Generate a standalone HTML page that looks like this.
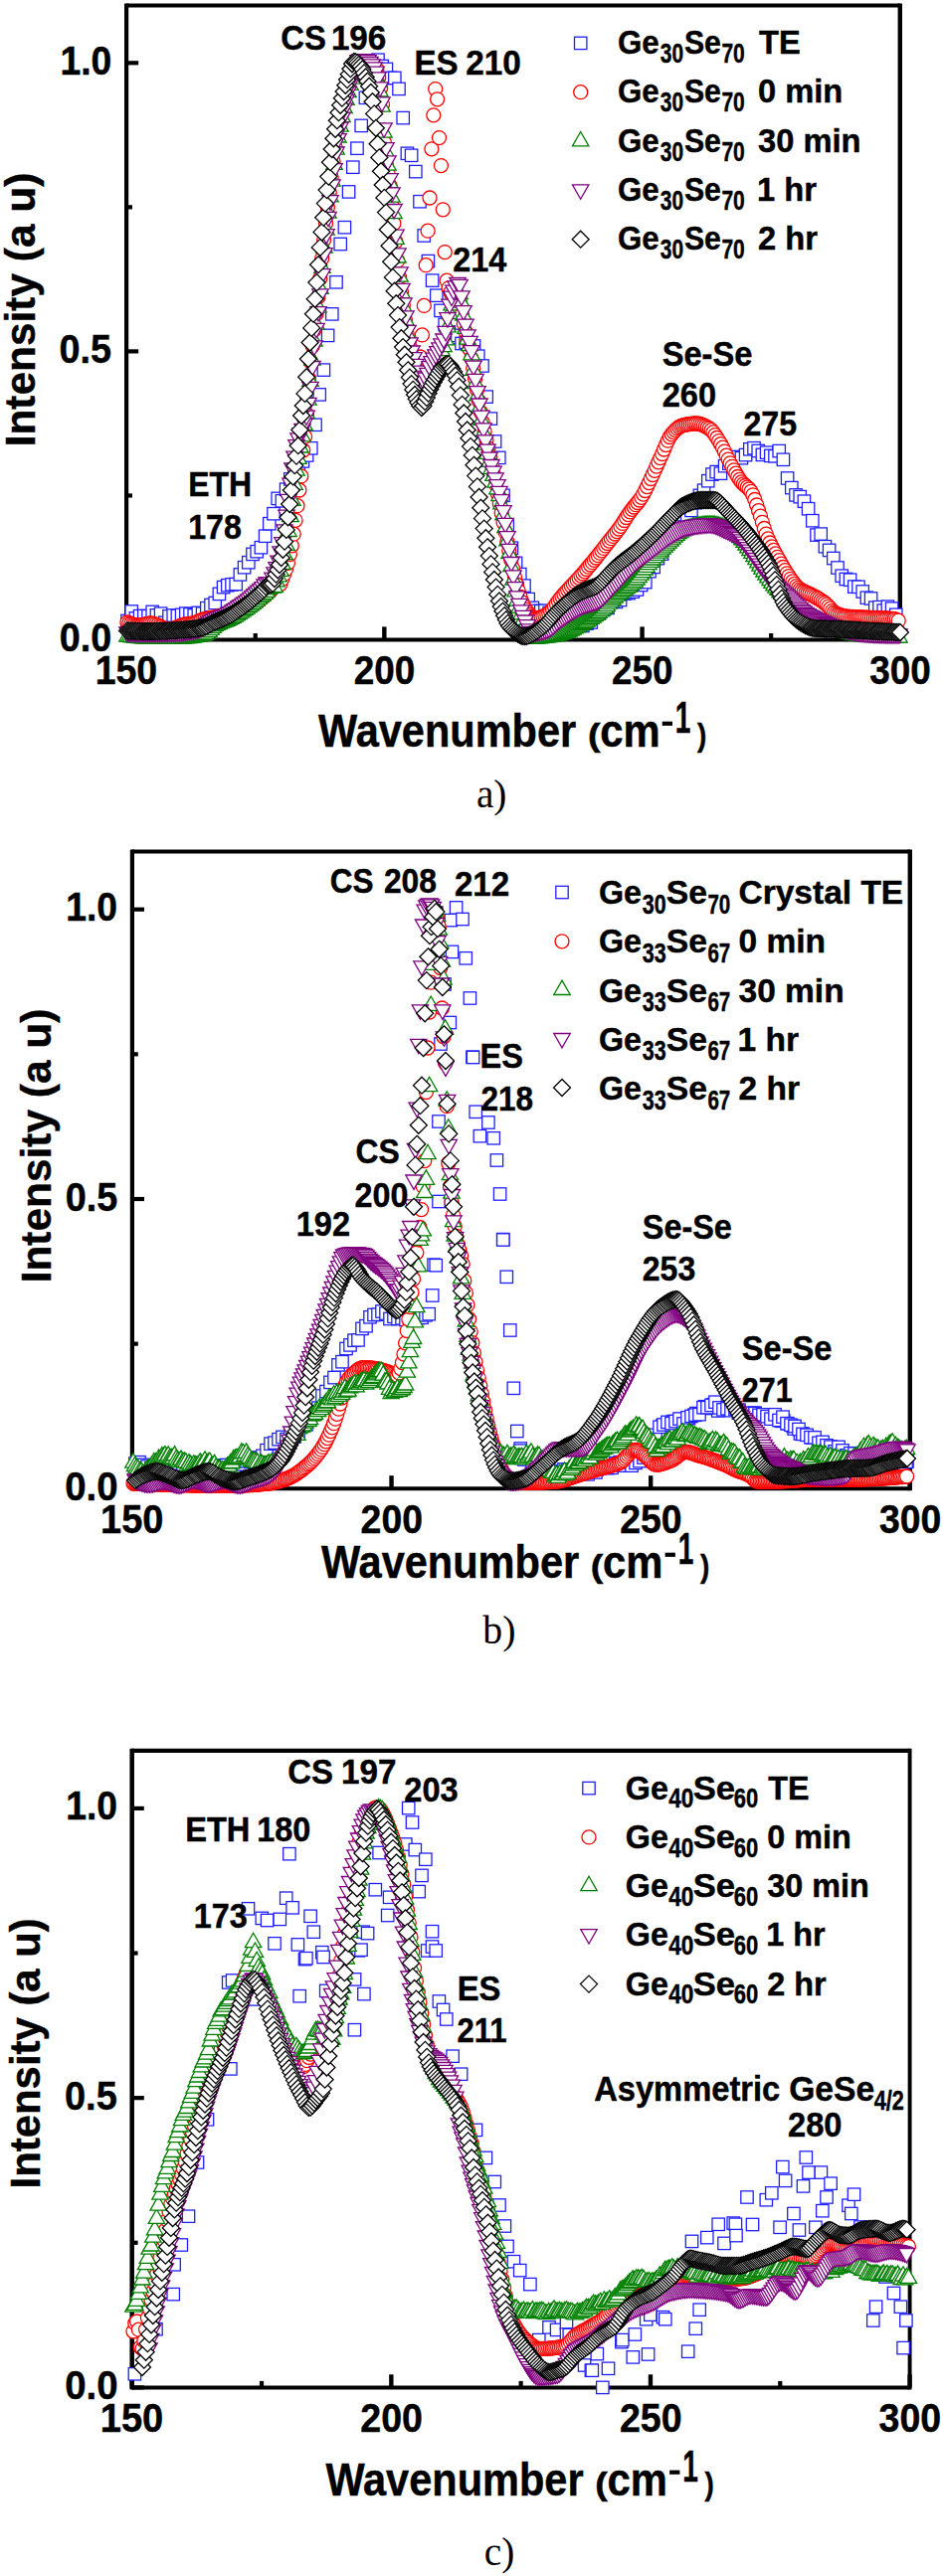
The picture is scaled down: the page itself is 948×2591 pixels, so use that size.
<!DOCTYPE html>
<html><head><meta charset="utf-8"><style>
html,body{margin:0;padding:0;background:#fff;}
svg{display:block;}
.S{font-family:"Liberation Sans", sans-serif;font-weight:bold;stroke:#000;stroke-width:0.45px;}
.R{font-family:"Liberation Serif", serif;font-weight:normal;}
</style></head><body>
<svg width="948" height="2591" viewBox="0 0 948 2591">
<rect width="948" height="2591" fill="#fff"/>
<defs>
<symbol id="sq" overflow="visible"><rect x="-6.2" y="-6.2" width="12.4" height="12.4" fill="#fff" stroke="#2020ff" stroke-width="1.3"/></symbol>
<symbol id="ci" overflow="visible"><circle r="7.0" fill="#fff" stroke="#ff0000" stroke-width="1.3"/></symbol>
<symbol id="up" overflow="visible"><path d="M0,-7.3L8.2,7.1L-8.2,7.1Z" fill="#fff" stroke="#008000" stroke-width="1.3"/></symbol>
<symbol id="dn" overflow="visible"><path d="M0,7.3L8.2,-7.1L-8.2,-7.1Z" fill="#fff" stroke="#800080" stroke-width="1.3"/></symbol>
<symbol id="di" overflow="visible"><path d="M0,-8.5L8.5,0L0,8.5L-8.5,0Z" fill="#fff" stroke="#000" stroke-width="1.3"/></symbol>
</defs>
<line x1="127.10" y1="5.45" x2="904.80" y2="5.45" stroke="#000" stroke-width="3.9"/>
<line x1="127.10" y1="643.50" x2="904.80" y2="643.50" stroke="#000" stroke-width="4.2"/>
<line x1="127.10" y1="3.45" x2="127.10" y2="645.60" stroke="#000" stroke-width="4.2"/>
<line x1="904.80" y1="3.45" x2="904.80" y2="645.60" stroke="#000" stroke-width="4.4"/>
<line x1="127.10" y1="643.50" x2="139.20" y2="643.50" stroke="#000" stroke-width="4.2"/>
<line x1="127.10" y1="353.40" x2="139.20" y2="353.40" stroke="#000" stroke-width="4.2"/>
<line x1="127.10" y1="63.30" x2="139.20" y2="63.30" stroke="#000" stroke-width="4.2"/>
<line x1="127.10" y1="498.45" x2="133.00" y2="498.45" stroke="#000" stroke-width="4.2"/>
<line x1="127.10" y1="208.35" x2="133.00" y2="208.35" stroke="#000" stroke-width="4.2"/>
<line x1="127.10" y1="643.50" x2="127.10" y2="630.40" stroke="#000" stroke-width="4.4"/>
<line x1="386.33" y1="643.50" x2="386.33" y2="630.40" stroke="#000" stroke-width="4.4"/>
<line x1="645.57" y1="643.50" x2="645.57" y2="630.40" stroke="#000" stroke-width="4.4"/>
<line x1="904.80" y1="643.50" x2="904.80" y2="630.40" stroke="#000" stroke-width="4.4"/>
<line x1="256.72" y1="643.50" x2="256.72" y2="637.00" stroke="#000" stroke-width="4.2"/>
<line x1="515.95" y1="643.50" x2="515.95" y2="637.00" stroke="#000" stroke-width="4.2"/>
<line x1="775.18" y1="643.50" x2="775.18" y2="637.00" stroke="#000" stroke-width="4.2"/>
<line x1="132.90" y1="856.60" x2="914.80" y2="856.60" stroke="#000" stroke-width="4.0"/>
<line x1="132.90" y1="1497.30" x2="914.80" y2="1497.30" stroke="#000" stroke-width="4.0"/>
<line x1="132.90" y1="854.60" x2="132.90" y2="1499.30" stroke="#000" stroke-width="4.2"/>
<line x1="914.80" y1="854.60" x2="914.80" y2="1499.30" stroke="#000" stroke-width="4.4"/>
<line x1="132.90" y1="1497.30" x2="145.00" y2="1497.30" stroke="#000" stroke-width="4.2"/>
<line x1="132.90" y1="1206.00" x2="145.00" y2="1206.00" stroke="#000" stroke-width="4.2"/>
<line x1="132.90" y1="914.70" x2="145.00" y2="914.70" stroke="#000" stroke-width="4.2"/>
<line x1="132.90" y1="1351.65" x2="138.80" y2="1351.65" stroke="#000" stroke-width="4.2"/>
<line x1="132.90" y1="1060.35" x2="138.80" y2="1060.35" stroke="#000" stroke-width="4.2"/>
<line x1="132.90" y1="1497.30" x2="132.90" y2="1484.20" stroke="#000" stroke-width="4.4"/>
<line x1="393.53" y1="1497.30" x2="393.53" y2="1484.20" stroke="#000" stroke-width="4.4"/>
<line x1="654.17" y1="1497.30" x2="654.17" y2="1484.20" stroke="#000" stroke-width="4.4"/>
<line x1="914.80" y1="1497.30" x2="914.80" y2="1484.20" stroke="#000" stroke-width="4.4"/>
<line x1="263.22" y1="1497.30" x2="263.22" y2="1490.80" stroke="#000" stroke-width="4.2"/>
<line x1="523.85" y1="1497.30" x2="523.85" y2="1490.80" stroke="#000" stroke-width="4.2"/>
<line x1="784.48" y1="1497.30" x2="784.48" y2="1490.80" stroke="#000" stroke-width="4.2"/>
<line x1="132.70" y1="1760.80" x2="914.60" y2="1760.80" stroke="#000" stroke-width="4.2"/>
<line x1="132.70" y1="2401.40" x2="914.60" y2="2401.40" stroke="#000" stroke-width="4.0"/>
<line x1="132.70" y1="1758.70" x2="132.70" y2="2403.40" stroke="#000" stroke-width="4.5"/>
<line x1="914.60" y1="1758.70" x2="914.60" y2="2403.40" stroke="#000" stroke-width="3.9"/>
<line x1="132.70" y1="2401.40" x2="144.80" y2="2401.40" stroke="#000" stroke-width="4.2"/>
<line x1="132.70" y1="2110.15" x2="144.80" y2="2110.15" stroke="#000" stroke-width="4.2"/>
<line x1="132.70" y1="1818.90" x2="144.80" y2="1818.90" stroke="#000" stroke-width="4.2"/>
<line x1="132.70" y1="2255.78" x2="138.60" y2="2255.78" stroke="#000" stroke-width="4.2"/>
<line x1="132.70" y1="1964.53" x2="138.60" y2="1964.53" stroke="#000" stroke-width="4.2"/>
<line x1="132.70" y1="2401.40" x2="132.70" y2="2388.30" stroke="#000" stroke-width="4.4"/>
<line x1="393.33" y1="2401.40" x2="393.33" y2="2388.30" stroke="#000" stroke-width="4.4"/>
<line x1="653.97" y1="2401.40" x2="653.97" y2="2388.30" stroke="#000" stroke-width="4.4"/>
<line x1="914.60" y1="2401.40" x2="914.60" y2="2388.30" stroke="#000" stroke-width="4.4"/>
<line x1="263.02" y1="2401.40" x2="263.02" y2="2394.90" stroke="#000" stroke-width="4.2"/>
<line x1="523.65" y1="2401.40" x2="523.65" y2="2394.90" stroke="#000" stroke-width="4.2"/>
<line x1="784.28" y1="2401.40" x2="784.28" y2="2394.90" stroke="#000" stroke-width="4.2"/>
<g><use href="#sq" x="128.0" y="624.5"/><use href="#sq" x="132.2" y="615.0"/><use href="#sq" x="136.4" y="621.9"/><use href="#sq" x="140.6" y="619.7"/><use href="#sq" x="144.8" y="619.6"/><use href="#sq" x="149.0" y="619.7"/><use href="#sq" x="153.2" y="615.4"/><use href="#sq" x="157.4" y="618.9"/><use href="#sq" x="161.6" y="617.2"/><use href="#sq" x="165.8" y="626.3"/><use href="#sq" x="170.0" y="619.8"/><use href="#sq" x="174.2" y="619.0"/><use href="#sq" x="178.4" y="619.4"/><use href="#sq" x="182.6" y="618.4"/><use href="#sq" x="186.8" y="617.1"/><use href="#sq" x="191.0" y="617.9"/><use href="#sq" x="195.2" y="618.9"/><use href="#sq" x="199.4" y="616.4"/><use href="#sq" x="203.6" y="617.1"/><use href="#sq" x="207.8" y="611.7"/><use href="#sq" x="212.0" y="608.5"/><use href="#sq" x="216.2" y="606.5"/><use href="#sq" x="220.4" y="597.4"/><use href="#sq" x="224.6" y="590.6"/><use href="#sq" x="228.8" y="588.7"/><use href="#sq" x="233.0" y="587.9"/><use href="#sq" x="237.2" y="587.5"/><use href="#sq" x="241.4" y="577.9"/><use href="#sq" x="245.6" y="570.7"/><use href="#sq" x="249.8" y="565.7"/><use href="#sq" x="254.0" y="557.4"/><use href="#sq" x="258.2" y="554.7"/><use href="#sq" x="262.4" y="550.7"/><use href="#sq" x="266.6" y="539.2"/><use href="#sq" x="270.8" y="526.7"/><use href="#sq" x="275.0" y="516.7"/><use href="#sq" x="279.2" y="501.4"/><use href="#sq" x="283.4" y="503.8"/><use href="#sq" x="287.6" y="492.2"/><use href="#sq" x="291.8" y="481.9"/><use href="#sq" x="296.0" y="477.8"/><use href="#sq" x="300.2" y="471.2"/><use href="#sq" x="304.4" y="463.9"/><use href="#sq" x="308.6" y="458.0"/><use href="#sq" x="312.8" y="450.8"/><use href="#sq" x="317.0" y="427.3"/><use href="#sq" x="321.2" y="396.9"/><use href="#sq" x="325.4" y="372.1"/><use href="#sq" x="329.6" y="337.4"/><use href="#sq" x="333.8" y="315.9"/><use href="#sq" x="338.0" y="283.8"/><use href="#sq" x="342.2" y="245.5"/><use href="#sq" x="346.4" y="228.7"/><use href="#sq" x="350.6" y="192.9"/><use href="#sq" x="354.8" y="168.2"/><use href="#sq" x="359.0" y="149.2"/><use href="#sq" x="363.2" y="126.4"/><use href="#sq" x="367.4" y="98.3"/><use href="#sq" x="371.6" y="87.8"/><use href="#sq" x="375.8" y="73.6"/><use href="#sq" x="380.0" y="60.2"/><use href="#sq" x="384.2" y="66.5"/><use href="#sq" x="388.4" y="69.4"/><use href="#sq" x="392.6" y="78.4"/><use href="#sq" x="396.8" y="78.4"/><use href="#sq" x="401.0" y="89.4"/><use href="#sq" x="405.2" y="118.6"/><use href="#sq" x="409.4" y="154.3"/><use href="#sq" x="413.6" y="156.3"/><use href="#sq" x="417.8" y="172.6"/><use href="#sq" x="422.0" y="202.7"/><use href="#sq" x="426.2" y="237.0"/><use href="#sq" x="430.4" y="262.6"/><use href="#sq" x="434.6" y="282.1"/><use href="#sq" x="438.8" y="297.2"/><use href="#sq" x="443.0" y="312.4"/><use href="#sq" x="447.2" y="326.4"/><use href="#sq" x="451.4" y="334.0"/><use href="#sq" x="455.6" y="339.5"/><use href="#sq" x="459.8" y="337.4"/><use href="#sq" x="464.0" y="345.5"/><use href="#sq" x="468.2" y="344.3"/><use href="#sq" x="472.4" y="345.2"/><use href="#sq" x="476.6" y="348.0"/><use href="#sq" x="480.8" y="358.2"/><use href="#sq" x="485.0" y="368.0"/><use href="#sq" x="489.2" y="399.1"/><use href="#sq" x="493.4" y="421.1"/><use href="#sq" x="497.6" y="444.0"/><use href="#sq" x="501.8" y="460.4"/><use href="#sq" x="506.0" y="498.3"/><use href="#sq" x="510.2" y="529.1"/><use href="#sq" x="514.4" y="551.2"/><use href="#sq" x="518.6" y="566.4"/><use href="#sq" x="522.8" y="577.6"/><use href="#sq" x="527.0" y="589.1"/><use href="#sq" x="531.2" y="602.6"/><use href="#sq" x="535.4" y="611.4"/><use href="#sq" x="539.6" y="614.4"/><use href="#sq" x="543.8" y="614.7"/><use href="#sq" x="548.0" y="614.3"/><use href="#sq" x="552.2" y="616.4"/><use href="#sq" x="556.4" y="616.6"/><use href="#sq" x="560.6" y="620.6"/><use href="#sq" x="564.8" y="618.8"/><use href="#sq" x="569.0" y="622.1"/><use href="#sq" x="573.2" y="622.3"/><use href="#sq" x="577.4" y="624.3"/><use href="#sq" x="581.6" y="624.1"/><use href="#sq" x="585.8" y="629.5"/><use href="#sq" x="590.0" y="627.2"/><use href="#sq" x="594.2" y="626.0"/><use href="#sq" x="598.4" y="615.9"/><use href="#sq" x="602.6" y="616.7"/><use href="#sq" x="606.8" y="613.1"/><use href="#sq" x="611.0" y="611.5"/><use href="#sq" x="615.2" y="600.9"/><use href="#sq" x="619.4" y="605.4"/><use href="#sq" x="623.6" y="603.5"/><use href="#sq" x="627.8" y="597.2"/><use href="#sq" x="632.0" y="596.6"/><use href="#sq" x="636.2" y="595.1"/><use href="#sq" x="640.4" y="593.0"/><use href="#sq" x="644.6" y="588.5"/><use href="#sq" x="648.8" y="585.6"/><use href="#sq" x="653.0" y="574.7"/><use href="#sq" x="657.2" y="570.4"/><use href="#sq" x="661.4" y="561.6"/><use href="#sq" x="665.6" y="557.1"/><use href="#sq" x="669.8" y="547.0"/><use href="#sq" x="674.0" y="540.5"/><use href="#sq" x="678.2" y="527.3"/><use href="#sq" x="682.4" y="523.1"/><use href="#sq" x="686.6" y="517.6"/><use href="#sq" x="690.8" y="519.4"/><use href="#sq" x="695.0" y="513.4"/><use href="#sq" x="699.2" y="505.7"/><use href="#sq" x="703.4" y="498.4"/><use href="#sq" x="707.6" y="493.2"/><use href="#sq" x="711.8" y="483.7"/><use href="#sq" x="716.0" y="477.1"/><use href="#sq" x="720.2" y="474.6"/><use href="#sq" x="724.4" y="476.2"/><use href="#sq" x="728.6" y="468.7"/><use href="#sq" x="732.8" y="466.2"/><use href="#sq" x="737.0" y="462.5"/><use href="#sq" x="741.2" y="459.5"/><use href="#sq" x="745.4" y="460.7"/><use href="#sq" x="749.6" y="457.6"/><use href="#sq" x="753.8" y="451.8"/><use href="#sq" x="758.0" y="450.7"/><use href="#sq" x="762.2" y="453.5"/><use href="#sq" x="766.4" y="457.4"/><use href="#sq" x="770.6" y="455.2"/><use href="#sq" x="774.8" y="458.4"/><use href="#sq" x="779.0" y="458.8"/><use href="#sq" x="783.2" y="453.6"/><use href="#sq" x="787.4" y="462.3"/><use href="#sq" x="791.6" y="481.0"/><use href="#sq" x="795.8" y="490.6"/><use href="#sq" x="800.0" y="497.9"/><use href="#sq" x="804.2" y="499.6"/><use href="#sq" x="808.4" y="504.2"/><use href="#sq" x="812.6" y="511.7"/><use href="#sq" x="816.8" y="523.7"/><use href="#sq" x="821.0" y="538.1"/><use href="#sq" x="825.2" y="537.1"/><use href="#sq" x="829.4" y="549.7"/><use href="#sq" x="833.6" y="553.4"/><use href="#sq" x="837.8" y="561.5"/><use href="#sq" x="842.0" y="571.0"/><use href="#sq" x="846.2" y="579.2"/><use href="#sq" x="850.4" y="582.5"/><use href="#sq" x="854.6" y="583.2"/><use href="#sq" x="858.8" y="590.1"/><use href="#sq" x="863.0" y="590.3"/><use href="#sq" x="867.2" y="595.0"/><use href="#sq" x="871.4" y="601.2"/><use href="#sq" x="875.6" y="602.0"/><use href="#sq" x="879.8" y="611.2"/><use href="#sq" x="884.0" y="610.7"/><use href="#sq" x="888.2" y="614.1"/><use href="#sq" x="892.4" y="610.2"/><use href="#sq" x="896.6" y="612.1"/><use href="#sq" x="900.8" y="618.3"/></g>
<g><use href="#ci" x="128.0" y="626.0"/><use href="#ci" x="129.9" y="626.8"/><use href="#ci" x="131.8" y="627.5"/><use href="#ci" x="133.7" y="628.1"/><use href="#ci" x="135.6" y="628.6"/><use href="#ci" x="137.5" y="628.9"/><use href="#ci" x="139.4" y="629.0"/><use href="#ci" x="141.3" y="628.9"/><use href="#ci" x="143.2" y="628.6"/><use href="#ci" x="145.1" y="628.2"/><use href="#ci" x="147.0" y="627.7"/><use href="#ci" x="148.9" y="627.3"/><use href="#ci" x="150.8" y="627.0"/><use href="#ci" x="152.7" y="627.1"/><use href="#ci" x="154.6" y="627.4"/><use href="#ci" x="156.5" y="628.1"/><use href="#ci" x="158.4" y="628.9"/><use href="#ci" x="160.3" y="629.8"/><use href="#ci" x="162.2" y="630.7"/><use href="#ci" x="164.1" y="631.6"/><use href="#ci" x="166.0" y="632.3"/><use href="#ci" x="167.9" y="632.8"/><use href="#ci" x="169.8" y="633.0"/><use href="#ci" x="171.7" y="632.9"/><use href="#ci" x="173.6" y="632.5"/><use href="#ci" x="175.5" y="631.8"/><use href="#ci" x="177.4" y="631.1"/><use href="#ci" x="179.3" y="630.3"/><use href="#ci" x="181.2" y="629.5"/><use href="#ci" x="183.1" y="628.8"/><use href="#ci" x="185.0" y="628.2"/><use href="#ci" x="186.9" y="627.9"/><use href="#ci" x="188.8" y="627.6"/><use href="#ci" x="190.7" y="627.4"/><use href="#ci" x="192.6" y="627.2"/><use href="#ci" x="194.5" y="626.9"/><use href="#ci" x="196.4" y="626.3"/><use href="#ci" x="198.3" y="625.5"/><use href="#ci" x="200.2" y="624.7"/><use href="#ci" x="202.1" y="623.8"/><use href="#ci" x="204.0" y="623.1"/><use href="#ci" x="205.9" y="622.7"/><use href="#ci" x="207.8" y="622.3"/><use href="#ci" x="209.7" y="621.9"/><use href="#ci" x="211.6" y="621.6"/><use href="#ci" x="213.5" y="621.3"/><use href="#ci" x="215.4" y="620.9"/><use href="#ci" x="217.3" y="620.5"/><use href="#ci" x="219.2" y="620.1"/><use href="#ci" x="221.1" y="619.7"/><use href="#ci" x="223.0" y="619.3"/><use href="#ci" x="224.9" y="618.8"/><use href="#ci" x="226.8" y="618.3"/><use href="#ci" x="228.7" y="617.8"/><use href="#ci" x="230.6" y="617.3"/><use href="#ci" x="232.5" y="616.7"/><use href="#ci" x="234.4" y="616.0"/><use href="#ci" x="236.3" y="615.4"/><use href="#ci" x="238.2" y="614.7"/><use href="#ci" x="240.1" y="614.0"/><use href="#ci" x="242.0" y="613.2"/><use href="#ci" x="243.9" y="612.5"/><use href="#ci" x="245.8" y="611.7"/><use href="#ci" x="247.7" y="610.9"/><use href="#ci" x="249.6" y="610.1"/><use href="#ci" x="251.5" y="609.2"/><use href="#ci" x="253.4" y="608.3"/><use href="#ci" x="255.3" y="607.3"/><use href="#ci" x="257.2" y="606.2"/><use href="#ci" x="259.1" y="605.1"/><use href="#ci" x="261.0" y="603.8"/><use href="#ci" x="262.9" y="602.2"/><use href="#ci" x="264.8" y="600.4"/><use href="#ci" x="266.7" y="598.6"/><use href="#ci" x="268.6" y="597.0"/><use href="#ci" x="270.5" y="595.5"/><use href="#ci" x="272.4" y="593.8"/><use href="#ci" x="274.3" y="591.8"/><use href="#ci" x="276.2" y="589.2"/><use href="#ci" x="278.1" y="588.0"/><use href="#ci" x="280.0" y="587.9"/><use href="#ci" x="281.9" y="587.5"/><use href="#ci" x="283.8" y="582.4"/><use href="#ci" x="285.7" y="577.4"/><use href="#ci" x="287.6" y="572.4"/><use href="#ci" x="289.5" y="566.3"/><use href="#ci" x="291.4" y="557.5"/><use href="#ci" x="293.3" y="548.8"/><use href="#ci" x="295.2" y="537.2"/><use href="#ci" x="297.1" y="523.3"/><use href="#ci" x="299.0" y="508.7"/><use href="#ci" x="300.9" y="493.0"/><use href="#ci" x="302.8" y="478.9"/><use href="#ci" x="304.7" y="453.0"/><use href="#ci" x="306.6" y="439.2"/><use href="#ci" x="308.5" y="416.7"/><use href="#ci" x="310.4" y="380.7"/><use href="#ci" x="312.3" y="363.8"/><use href="#ci" x="314.2" y="348.2"/><use href="#ci" x="316.1" y="331.6"/><use href="#ci" x="318.0" y="315.7"/><use href="#ci" x="319.9" y="298.9"/><use href="#ci" x="321.8" y="279.9"/><use href="#ci" x="323.7" y="259.9"/><use href="#ci" x="325.6" y="241.4"/><use href="#ci" x="327.5" y="224.7"/><use href="#ci" x="329.4" y="208.7"/><use href="#ci" x="331.3" y="193.5"/><use href="#ci" x="333.2" y="178.4"/><use href="#ci" x="335.1" y="162.4"/><use href="#ci" x="337.0" y="148.0"/><use href="#ci" x="338.9" y="136.4"/><use href="#ci" x="340.8" y="126.2"/><use href="#ci" x="342.7" y="116.9"/><use href="#ci" x="344.6" y="108.4"/><use href="#ci" x="346.5" y="100.3"/><use href="#ci" x="348.4" y="92.7"/><use href="#ci" x="350.3" y="85.8"/><use href="#ci" x="352.2" y="79.4"/><use href="#ci" x="354.1" y="73.5"/><use href="#ci" x="356.0" y="67.3"/><use href="#ci" x="357.9" y="62.8"/><use href="#ci" x="359.8" y="63.1"/><use href="#ci" x="361.7" y="67.8"/><use href="#ci" x="363.6" y="67.5"/><use href="#ci" x="365.5" y="66.0"/><use href="#ci" x="367.4" y="64.2"/><use href="#ci" x="369.3" y="63.1"/><use href="#ci" x="371.2" y="63.1"/><use href="#ci" x="373.1" y="63.8"/><use href="#ci" x="375.0" y="65.0"/><use href="#ci" x="376.9" y="66.8"/><use href="#ci" x="378.8" y="69.6"/><use href="#ci" x="380.7" y="77.7"/><use href="#ci" x="382.6" y="88.7"/><use href="#ci" x="384.5" y="105.1"/><use href="#ci" x="386.4" y="143.2"/><use href="#ci" x="388.3" y="164.9"/><use href="#ci" x="390.2" y="174.9"/><use href="#ci" x="392.1" y="186.8"/><use href="#ci" x="394.0" y="207.0"/><use href="#ci" x="395.9" y="224.7"/><use href="#ci" x="397.8" y="243.0"/><use href="#ci" x="399.7" y="262.2"/><use href="#ci" x="401.6" y="278.8"/><use href="#ci" x="403.5" y="293.8"/><use href="#ci" x="405.4" y="307.1"/><use href="#ci" x="407.3" y="321.6"/><use href="#ci" x="409.2" y="336.1"/><use href="#ci" x="411.1" y="344.8"/><use href="#ci" x="413.0" y="351.1"/><use href="#ci" x="414.9" y="356.0"/><use href="#ci" x="416.8" y="359.1"/><use href="#ci" x="418.7" y="361.4"/><use href="#ci" x="420.6" y="361.8"/><use href="#ci" x="422.5" y="359.0"/><use href="#ci" x="424.4" y="336.9"/><use href="#ci" x="426.3" y="307.4"/><use href="#ci" x="428.2" y="266.7"/><use href="#ci" x="430.1" y="232.2"/><use href="#ci" x="432.0" y="199.0"/><use href="#ci" x="433.9" y="149.8"/><use href="#ci" x="435.8" y="115.8"/><use href="#ci" x="437.7" y="89.6"/><use href="#ci" x="439.6" y="99.8"/><use href="#ci" x="441.5" y="138.6"/><use href="#ci" x="443.4" y="166.6"/><use href="#ci" x="445.3" y="210.8"/><use href="#ci" x="447.2" y="253.6"/><use href="#ci" x="449.1" y="282.2"/><use href="#ci" x="451.0" y="289.8"/><use href="#ci" x="452.9" y="294.3"/><use href="#ci" x="454.8" y="298.9"/><use href="#ci" x="456.7" y="300.0"/><use href="#ci" x="458.6" y="300.0"/><use href="#ci" x="460.5" y="300.0"/><use href="#ci" x="462.4" y="304.1"/><use href="#ci" x="464.3" y="316.1"/><use href="#ci" x="466.2" y="325.4"/><use href="#ci" x="468.1" y="333.6"/><use href="#ci" x="470.0" y="342.0"/><use href="#ci" x="471.9" y="351.1"/><use href="#ci" x="473.8" y="360.5"/><use href="#ci" x="475.7" y="370.4"/><use href="#ci" x="477.6" y="381.0"/><use href="#ci" x="479.5" y="392.1"/><use href="#ci" x="481.4" y="403.3"/><use href="#ci" x="483.3" y="414.6"/><use href="#ci" x="485.2" y="425.0"/><use href="#ci" x="487.1" y="434.0"/><use href="#ci" x="489.0" y="442.5"/><use href="#ci" x="490.9" y="451.2"/><use href="#ci" x="492.8" y="460.0"/><use href="#ci" x="494.7" y="469.0"/><use href="#ci" x="496.6" y="478.1"/><use href="#ci" x="498.5" y="487.4"/><use href="#ci" x="500.4" y="496.8"/><use href="#ci" x="502.3" y="506.4"/><use href="#ci" x="504.2" y="516.0"/><use href="#ci" x="506.1" y="525.5"/><use href="#ci" x="508.0" y="535.2"/><use href="#ci" x="509.9" y="544.8"/><use href="#ci" x="511.8" y="554.1"/><use href="#ci" x="513.7" y="563.0"/><use href="#ci" x="515.6" y="572.0"/><use href="#ci" x="517.5" y="580.4"/><use href="#ci" x="519.4" y="587.9"/><use href="#ci" x="521.3" y="594.4"/><use href="#ci" x="523.2" y="600.5"/><use href="#ci" x="525.1" y="605.9"/><use href="#ci" x="527.0" y="610.3"/><use href="#ci" x="528.9" y="613.3"/><use href="#ci" x="530.8" y="616.1"/><use href="#ci" x="532.7" y="618.5"/><use href="#ci" x="534.6" y="620.5"/><use href="#ci" x="536.5" y="621.7"/><use href="#ci" x="538.4" y="622.0"/><use href="#ci" x="540.3" y="621.8"/><use href="#ci" x="542.2" y="621.4"/><use href="#ci" x="544.1" y="620.7"/><use href="#ci" x="546.0" y="620.0"/><use href="#ci" x="547.9" y="619.1"/><use href="#ci" x="549.8" y="618.1"/><use href="#ci" x="551.7" y="616.8"/><use href="#ci" x="553.6" y="615.0"/><use href="#ci" x="555.5" y="612.7"/><use href="#ci" x="557.4" y="610.1"/><use href="#ci" x="559.3" y="607.3"/><use href="#ci" x="561.2" y="604.6"/><use href="#ci" x="563.1" y="602.1"/><use href="#ci" x="565.0" y="599.9"/><use href="#ci" x="566.9" y="597.7"/><use href="#ci" x="568.8" y="595.6"/><use href="#ci" x="570.7" y="593.6"/><use href="#ci" x="572.6" y="591.5"/><use href="#ci" x="574.5" y="589.5"/><use href="#ci" x="576.4" y="587.5"/><use href="#ci" x="578.3" y="585.4"/><use href="#ci" x="580.2" y="583.4"/><use href="#ci" x="582.1" y="581.3"/><use href="#ci" x="584.0" y="579.1"/><use href="#ci" x="585.9" y="577.0"/><use href="#ci" x="587.8" y="574.8"/><use href="#ci" x="589.7" y="572.5"/><use href="#ci" x="591.6" y="570.2"/><use href="#ci" x="593.5" y="568.0"/><use href="#ci" x="595.4" y="565.7"/><use href="#ci" x="597.3" y="563.3"/><use href="#ci" x="599.2" y="561.0"/><use href="#ci" x="601.1" y="558.6"/><use href="#ci" x="603.0" y="556.2"/><use href="#ci" x="604.9" y="553.8"/><use href="#ci" x="606.8" y="551.4"/><use href="#ci" x="608.7" y="548.9"/><use href="#ci" x="610.6" y="546.5"/><use href="#ci" x="612.5" y="544.1"/><use href="#ci" x="614.4" y="541.7"/><use href="#ci" x="616.3" y="539.4"/><use href="#ci" x="618.2" y="537.0"/><use href="#ci" x="620.1" y="534.6"/><use href="#ci" x="622.0" y="532.0"/><use href="#ci" x="623.9" y="529.3"/><use href="#ci" x="625.8" y="526.4"/><use href="#ci" x="627.7" y="523.5"/><use href="#ci" x="629.6" y="520.5"/><use href="#ci" x="631.5" y="517.6"/><use href="#ci" x="633.4" y="514.8"/><use href="#ci" x="635.3" y="512.3"/><use href="#ci" x="637.2" y="510.0"/><use href="#ci" x="639.1" y="507.7"/><use href="#ci" x="641.0" y="505.5"/><use href="#ci" x="642.9" y="503.0"/><use href="#ci" x="644.8" y="500.3"/><use href="#ci" x="646.7" y="497.1"/><use href="#ci" x="648.6" y="493.5"/><use href="#ci" x="650.5" y="489.6"/><use href="#ci" x="652.4" y="485.6"/><use href="#ci" x="654.3" y="481.5"/><use href="#ci" x="656.2" y="477.5"/><use href="#ci" x="658.1" y="473.3"/><use href="#ci" x="660.0" y="469.1"/><use href="#ci" x="661.9" y="464.8"/><use href="#ci" x="663.8" y="460.6"/><use href="#ci" x="665.7" y="456.5"/><use href="#ci" x="667.6" y="452.0"/><use href="#ci" x="669.5" y="447.5"/><use href="#ci" x="671.4" y="443.2"/><use href="#ci" x="673.3" y="439.5"/><use href="#ci" x="675.2" y="436.8"/><use href="#ci" x="677.1" y="434.6"/><use href="#ci" x="679.0" y="432.6"/><use href="#ci" x="680.9" y="430.9"/><use href="#ci" x="682.8" y="429.5"/><use href="#ci" x="684.7" y="428.4"/><use href="#ci" x="686.6" y="427.9"/><use href="#ci" x="688.5" y="427.4"/><use href="#ci" x="690.4" y="427.0"/><use href="#ci" x="692.3" y="426.7"/><use href="#ci" x="694.2" y="426.4"/><use href="#ci" x="696.1" y="426.2"/><use href="#ci" x="698.0" y="426.0"/><use href="#ci" x="699.9" y="426.0"/><use href="#ci" x="701.8" y="426.1"/><use href="#ci" x="703.7" y="426.5"/><use href="#ci" x="705.6" y="427.2"/><use href="#ci" x="707.5" y="428.0"/><use href="#ci" x="709.4" y="428.9"/><use href="#ci" x="711.3" y="430.0"/><use href="#ci" x="713.2" y="431.1"/><use href="#ci" x="715.1" y="432.7"/><use href="#ci" x="717.0" y="434.9"/><use href="#ci" x="718.9" y="437.6"/><use href="#ci" x="720.8" y="440.5"/><use href="#ci" x="722.7" y="443.6"/><use href="#ci" x="724.6" y="446.7"/><use href="#ci" x="726.5" y="450.2"/><use href="#ci" x="728.4" y="454.1"/><use href="#ci" x="730.3" y="458.2"/><use href="#ci" x="732.2" y="462.1"/><use href="#ci" x="734.1" y="465.8"/><use href="#ci" x="736.0" y="469.3"/><use href="#ci" x="737.9" y="472.8"/><use href="#ci" x="739.8" y="476.2"/><use href="#ci" x="741.7" y="479.5"/><use href="#ci" x="743.6" y="482.4"/><use href="#ci" x="745.5" y="484.9"/><use href="#ci" x="747.4" y="486.8"/><use href="#ci" x="749.3" y="488.5"/><use href="#ci" x="751.2" y="490.2"/><use href="#ci" x="753.1" y="492.0"/><use href="#ci" x="755.0" y="494.4"/><use href="#ci" x="756.9" y="497.8"/><use href="#ci" x="758.8" y="502.5"/><use href="#ci" x="760.7" y="508.0"/><use href="#ci" x="762.6" y="513.7"/><use href="#ci" x="764.5" y="519.2"/><use href="#ci" x="766.4" y="525.3"/><use href="#ci" x="768.3" y="531.5"/><use href="#ci" x="770.2" y="537.1"/><use href="#ci" x="772.1" y="541.9"/><use href="#ci" x="774.0" y="546.0"/><use href="#ci" x="775.9" y="549.9"/><use href="#ci" x="777.8" y="553.4"/><use href="#ci" x="779.7" y="556.9"/><use href="#ci" x="781.6" y="560.3"/><use href="#ci" x="783.5" y="563.7"/><use href="#ci" x="785.4" y="567.2"/><use href="#ci" x="787.3" y="570.5"/><use href="#ci" x="789.2" y="573.7"/><use href="#ci" x="791.1" y="576.8"/><use href="#ci" x="793.0" y="579.6"/><use href="#ci" x="794.9" y="582.3"/><use href="#ci" x="796.8" y="584.9"/><use href="#ci" x="798.7" y="587.4"/><use href="#ci" x="800.6" y="589.6"/><use href="#ci" x="802.5" y="591.4"/><use href="#ci" x="804.4" y="592.8"/><use href="#ci" x="806.3" y="594.0"/><use href="#ci" x="808.2" y="595.0"/><use href="#ci" x="810.1" y="595.9"/><use href="#ci" x="812.0" y="596.7"/><use href="#ci" x="813.9" y="597.5"/><use href="#ci" x="815.8" y="598.4"/><use href="#ci" x="817.7" y="599.3"/><use href="#ci" x="819.6" y="600.3"/><use href="#ci" x="821.5" y="601.5"/><use href="#ci" x="823.4" y="602.6"/><use href="#ci" x="825.3" y="603.9"/><use href="#ci" x="827.2" y="605.2"/><use href="#ci" x="829.1" y="606.5"/><use href="#ci" x="831.0" y="608.1"/><use href="#ci" x="832.9" y="610.1"/><use href="#ci" x="834.8" y="612.2"/><use href="#ci" x="836.7" y="614.3"/><use href="#ci" x="838.6" y="616.0"/><use href="#ci" x="840.5" y="617.1"/><use href="#ci" x="842.4" y="617.9"/><use href="#ci" x="844.3" y="618.5"/><use href="#ci" x="846.2" y="619.1"/><use href="#ci" x="848.1" y="619.6"/><use href="#ci" x="850.0" y="619.9"/><use href="#ci" x="851.9" y="620.1"/><use href="#ci" x="853.8" y="620.3"/><use href="#ci" x="855.7" y="620.4"/><use href="#ci" x="857.6" y="620.5"/><use href="#ci" x="859.5" y="620.6"/><use href="#ci" x="861.4" y="620.7"/><use href="#ci" x="863.3" y="620.8"/><use href="#ci" x="865.2" y="620.9"/><use href="#ci" x="867.1" y="621.0"/><use href="#ci" x="869.0" y="621.1"/><use href="#ci" x="870.9" y="621.1"/><use href="#ci" x="872.8" y="621.2"/><use href="#ci" x="874.7" y="621.3"/><use href="#ci" x="876.6" y="621.4"/><use href="#ci" x="878.5" y="621.5"/><use href="#ci" x="880.4" y="621.5"/><use href="#ci" x="882.3" y="621.6"/><use href="#ci" x="884.2" y="621.7"/><use href="#ci" x="886.1" y="621.8"/><use href="#ci" x="888.0" y="621.8"/><use href="#ci" x="889.9" y="621.9"/><use href="#ci" x="891.8" y="622.0"/><use href="#ci" x="893.7" y="622.2"/><use href="#ci" x="895.6" y="622.3"/><use href="#ci" x="897.5" y="622.5"/><use href="#ci" x="899.4" y="622.7"/><use href="#ci" x="901.3" y="623.3"/><use href="#ci" x="903.2" y="624.2"/></g>
<g><use href="#up" x="128.0" y="638.0"/><use href="#up" x="130.0" y="638.3"/><use href="#up" x="132.0" y="638.5"/><use href="#up" x="134.0" y="638.7"/><use href="#up" x="136.0" y="639.0"/><use href="#up" x="138.0" y="639.2"/><use href="#up" x="140.0" y="639.4"/><use href="#up" x="142.0" y="639.6"/><use href="#up" x="144.0" y="639.7"/><use href="#up" x="146.0" y="639.8"/><use href="#up" x="148.0" y="639.9"/><use href="#up" x="150.0" y="640.0"/><use href="#up" x="152.0" y="640.0"/><use href="#up" x="154.0" y="640.0"/><use href="#up" x="156.0" y="640.0"/><use href="#up" x="158.0" y="640.0"/><use href="#up" x="160.0" y="640.0"/><use href="#up" x="162.0" y="640.0"/><use href="#up" x="164.0" y="640.0"/><use href="#up" x="166.0" y="640.0"/><use href="#up" x="168.0" y="640.0"/><use href="#up" x="170.0" y="640.0"/><use href="#up" x="172.0" y="640.0"/><use href="#up" x="174.0" y="640.0"/><use href="#up" x="176.0" y="640.0"/><use href="#up" x="178.0" y="640.0"/><use href="#up" x="180.0" y="640.0"/><use href="#up" x="182.0" y="639.9"/><use href="#up" x="184.0" y="639.8"/><use href="#up" x="186.0" y="639.7"/><use href="#up" x="188.0" y="639.6"/><use href="#up" x="190.0" y="639.4"/><use href="#up" x="192.0" y="639.1"/><use href="#up" x="194.0" y="638.9"/><use href="#up" x="196.0" y="638.6"/><use href="#up" x="198.0" y="638.3"/><use href="#up" x="200.0" y="637.9"/><use href="#up" x="202.0" y="637.5"/><use href="#up" x="204.0" y="637.1"/><use href="#up" x="206.0" y="636.4"/><use href="#up" x="208.0" y="635.0"/><use href="#up" x="210.0" y="633.2"/><use href="#up" x="212.0" y="631.2"/><use href="#up" x="214.0" y="629.2"/><use href="#up" x="216.0" y="627.5"/><use href="#up" x="218.0" y="626.3"/><use href="#up" x="220.0" y="625.4"/><use href="#up" x="222.0" y="624.5"/><use href="#up" x="224.0" y="623.7"/><use href="#up" x="226.0" y="623.0"/><use href="#up" x="228.0" y="622.2"/><use href="#up" x="230.0" y="621.3"/><use href="#up" x="232.0" y="620.3"/><use href="#up" x="234.0" y="619.2"/><use href="#up" x="236.0" y="618.0"/><use href="#up" x="238.0" y="616.8"/><use href="#up" x="240.0" y="615.5"/><use href="#up" x="242.0" y="614.1"/><use href="#up" x="244.0" y="612.7"/><use href="#up" x="246.0" y="611.3"/><use href="#up" x="248.0" y="610.0"/><use href="#up" x="250.0" y="608.5"/><use href="#up" x="252.0" y="607.1"/><use href="#up" x="254.0" y="605.5"/><use href="#up" x="256.0" y="603.8"/><use href="#up" x="258.0" y="602.0"/><use href="#up" x="260.0" y="600.2"/><use href="#up" x="262.0" y="598.5"/><use href="#up" x="264.0" y="596.9"/><use href="#up" x="266.0" y="595.2"/><use href="#up" x="268.0" y="593.2"/><use href="#up" x="270.0" y="590.4"/><use href="#up" x="272.0" y="589.0"/><use href="#up" x="274.0" y="588.9"/><use href="#up" x="276.0" y="588.4"/><use href="#up" x="278.0" y="582.7"/><use href="#up" x="280.0" y="577.7"/><use href="#up" x="282.0" y="572.2"/><use href="#up" x="284.0" y="565.3"/><use href="#up" x="286.0" y="555.6"/><use href="#up" x="288.0" y="546.3"/><use href="#up" x="290.0" y="532.4"/><use href="#up" x="292.0" y="517.6"/><use href="#up" x="294.0" y="501.2"/><use href="#up" x="296.0" y="485.2"/><use href="#up" x="298.0" y="471.0"/><use href="#up" x="300.0" y="459.3"/><use href="#up" x="302.0" y="447.9"/><use href="#up" x="304.0" y="436.8"/><use href="#up" x="306.0" y="425.4"/><use href="#up" x="308.0" y="413.5"/><use href="#up" x="310.0" y="400.0"/><use href="#up" x="312.0" y="381.3"/><use href="#up" x="314.0" y="359.9"/><use href="#up" x="316.0" y="341.0"/><use href="#up" x="318.0" y="324.1"/><use href="#up" x="320.0" y="307.1"/><use href="#up" x="322.0" y="288.2"/><use href="#up" x="324.0" y="267.2"/><use href="#up" x="326.0" y="247.0"/><use href="#up" x="328.0" y="229.0"/><use href="#up" x="330.0" y="212.0"/><use href="#up" x="332.0" y="195.8"/><use href="#up" x="334.0" y="180.0"/><use href="#up" x="336.0" y="163.2"/><use href="#up" x="338.0" y="148.0"/><use href="#up" x="340.0" y="135.9"/><use href="#up" x="342.0" y="125.1"/><use href="#up" x="344.0" y="115.5"/><use href="#up" x="346.0" y="106.6"/><use href="#up" x="348.0" y="98.2"/><use href="#up" x="350.0" y="90.5"/><use href="#up" x="352.0" y="83.3"/><use href="#up" x="354.0" y="77.0"/><use href="#up" x="356.0" y="70.5"/><use href="#up" x="358.0" y="64.6"/><use href="#up" x="360.0" y="62.0"/><use href="#up" x="362.0" y="62.0"/><use href="#up" x="364.0" y="62.0"/><use href="#up" x="366.0" y="62.0"/><use href="#up" x="368.0" y="62.0"/><use href="#up" x="370.0" y="62.8"/><use href="#up" x="372.0" y="64.6"/><use href="#up" x="374.0" y="67.0"/><use href="#up" x="376.0" y="70.0"/><use href="#up" x="378.0" y="74.2"/><use href="#up" x="380.0" y="80.0"/><use href="#up" x="382.0" y="89.9"/><use href="#up" x="384.0" y="105.0"/><use href="#up" x="386.0" y="131.0"/><use href="#up" x="388.0" y="150.7"/><use href="#up" x="390.0" y="164.0"/><use href="#up" x="392.0" y="181.8"/><use href="#up" x="394.0" y="196.0"/><use href="#up" x="396.0" y="212.6"/><use href="#up" x="398.0" y="238.2"/><use href="#up" x="400.0" y="256.9"/><use href="#up" x="402.0" y="276.0"/><use href="#up" x="404.0" y="292.5"/><use href="#up" x="406.0" y="306.9"/><use href="#up" x="408.0" y="320.0"/><use href="#up" x="410.0" y="334.5"/><use href="#up" x="412.0" y="347.0"/><use href="#up" x="414.0" y="355.0"/><use href="#up" x="416.0" y="361.5"/><use href="#up" x="418.0" y="369.0"/><use href="#up" x="420.0" y="377.1"/><use href="#up" x="422.0" y="382.3"/><use href="#up" x="424.0" y="386.3"/><use href="#up" x="426.0" y="388.0"/><use href="#up" x="428.0" y="384.6"/><use href="#up" x="430.0" y="379.2"/><use href="#up" x="432.0" y="372.7"/><use href="#up" x="434.0" y="367.8"/><use href="#up" x="436.0" y="364.0"/><use href="#up" x="438.0" y="360.7"/><use href="#up" x="440.0" y="357.5"/><use href="#up" x="442.0" y="354.0"/><use href="#up" x="444.0" y="350.5"/><use href="#up" x="446.0" y="346.6"/><use href="#up" x="448.0" y="339.8"/><use href="#up" x="450.0" y="326.8"/><use href="#up" x="452.0" y="313.4"/><use href="#up" x="454.0" y="304.7"/><use href="#up" x="456.0" y="298.1"/><use href="#up" x="458.0" y="294.5"/><use href="#up" x="460.0" y="292.3"/><use href="#up" x="462.0" y="293.6"/><use href="#up" x="464.0" y="302.0"/><use href="#up" x="466.0" y="315.1"/><use href="#up" x="468.0" y="328.2"/><use href="#up" x="470.0" y="339.0"/><use href="#up" x="472.0" y="345.5"/><use href="#up" x="474.0" y="354.7"/><use href="#up" x="476.0" y="370.2"/><use href="#up" x="478.0" y="383.4"/><use href="#up" x="480.0" y="395.8"/><use href="#up" x="482.0" y="408.1"/><use href="#up" x="484.0" y="420.3"/><use href="#up" x="486.0" y="433.0"/><use href="#up" x="488.0" y="445.0"/><use href="#up" x="490.0" y="454.2"/><use href="#up" x="492.0" y="462.2"/><use href="#up" x="494.0" y="469.6"/><use href="#up" x="496.0" y="476.3"/><use href="#up" x="498.0" y="483.0"/><use href="#up" x="500.0" y="489.7"/><use href="#up" x="502.0" y="496.5"/><use href="#up" x="504.0" y="504.8"/><use href="#up" x="506.0" y="515.7"/><use href="#up" x="508.0" y="528.5"/><use href="#up" x="510.0" y="541.8"/><use href="#up" x="512.0" y="554.5"/><use href="#up" x="514.0" y="567.6"/><use href="#up" x="516.0" y="580.9"/><use href="#up" x="518.0" y="592.8"/><use href="#up" x="520.0" y="602.0"/><use href="#up" x="522.0" y="609.4"/><use href="#up" x="524.0" y="615.7"/><use href="#up" x="526.0" y="621.2"/><use href="#up" x="528.0" y="626.3"/><use href="#up" x="530.0" y="631.6"/><use href="#up" x="532.0" y="636.5"/><use href="#up" x="534.0" y="639.6"/><use href="#up" x="536.0" y="640.0"/><use href="#up" x="538.0" y="639.9"/><use href="#up" x="540.0" y="639.8"/><use href="#up" x="542.0" y="639.7"/><use href="#up" x="544.0" y="639.5"/><use href="#up" x="546.0" y="639.3"/><use href="#up" x="548.0" y="639.0"/><use href="#up" x="550.0" y="638.7"/><use href="#up" x="552.0" y="638.4"/><use href="#up" x="554.0" y="638.1"/><use href="#up" x="556.0" y="637.7"/><use href="#up" x="558.0" y="637.4"/><use href="#up" x="560.0" y="637.0"/><use href="#up" x="562.0" y="636.6"/><use href="#up" x="564.0" y="636.0"/><use href="#up" x="566.0" y="635.3"/><use href="#up" x="568.0" y="634.6"/><use href="#up" x="570.0" y="633.8"/><use href="#up" x="572.0" y="632.9"/><use href="#up" x="574.0" y="631.9"/><use href="#up" x="576.0" y="630.9"/><use href="#up" x="578.0" y="629.8"/><use href="#up" x="580.0" y="628.7"/><use href="#up" x="582.0" y="627.7"/><use href="#up" x="584.0" y="626.5"/><use href="#up" x="586.0" y="625.4"/><use href="#up" x="588.0" y="624.3"/><use href="#up" x="590.0" y="623.0"/><use href="#up" x="592.0" y="621.7"/><use href="#up" x="594.0" y="620.3"/><use href="#up" x="596.0" y="618.9"/><use href="#up" x="598.0" y="617.4"/><use href="#up" x="600.0" y="615.9"/><use href="#up" x="602.0" y="614.3"/><use href="#up" x="604.0" y="612.7"/><use href="#up" x="606.0" y="611.0"/><use href="#up" x="608.0" y="609.2"/><use href="#up" x="610.0" y="607.2"/><use href="#up" x="612.0" y="605.1"/><use href="#up" x="614.0" y="603.0"/><use href="#up" x="616.0" y="600.9"/><use href="#up" x="618.0" y="598.9"/><use href="#up" x="620.0" y="597.1"/><use href="#up" x="622.0" y="595.5"/><use href="#up" x="624.0" y="594.0"/><use href="#up" x="626.0" y="592.5"/><use href="#up" x="628.0" y="591.0"/><use href="#up" x="630.0" y="589.6"/><use href="#up" x="632.0" y="588.1"/><use href="#up" x="634.0" y="586.5"/><use href="#up" x="636.0" y="584.8"/><use href="#up" x="638.0" y="583.0"/><use href="#up" x="640.0" y="580.9"/><use href="#up" x="642.0" y="578.6"/><use href="#up" x="644.0" y="576.1"/><use href="#up" x="646.0" y="573.5"/><use href="#up" x="648.0" y="570.9"/><use href="#up" x="650.0" y="568.2"/><use href="#up" x="652.0" y="565.6"/><use href="#up" x="654.0" y="563.2"/><use href="#up" x="656.0" y="560.9"/><use href="#up" x="658.0" y="558.6"/><use href="#up" x="660.0" y="556.3"/><use href="#up" x="662.0" y="554.1"/><use href="#up" x="664.0" y="552.0"/><use href="#up" x="666.0" y="550.0"/><use href="#up" x="668.0" y="548.0"/><use href="#up" x="670.0" y="546.0"/><use href="#up" x="672.0" y="544.0"/><use href="#up" x="674.0" y="542.0"/><use href="#up" x="676.0" y="540.0"/><use href="#up" x="678.0" y="538.0"/><use href="#up" x="680.0" y="536.2"/><use href="#up" x="682.0" y="534.5"/><use href="#up" x="684.0" y="533.0"/><use href="#up" x="686.0" y="531.7"/><use href="#up" x="688.0" y="530.7"/><use href="#up" x="690.0" y="530.0"/><use href="#up" x="692.0" y="529.5"/><use href="#up" x="694.0" y="529.0"/><use href="#up" x="696.0" y="528.5"/><use href="#up" x="698.0" y="528.0"/><use href="#up" x="700.0" y="527.6"/><use href="#up" x="702.0" y="527.2"/><use href="#up" x="704.0" y="526.9"/><use href="#up" x="706.0" y="526.6"/><use href="#up" x="708.0" y="526.4"/><use href="#up" x="710.0" y="526.2"/><use href="#up" x="712.0" y="526.1"/><use href="#up" x="714.0" y="526.0"/><use href="#up" x="716.0" y="526.0"/><use href="#up" x="718.0" y="526.2"/><use href="#up" x="720.0" y="526.5"/><use href="#up" x="722.0" y="526.9"/><use href="#up" x="724.0" y="527.5"/><use href="#up" x="726.0" y="528.1"/><use href="#up" x="728.0" y="528.9"/><use href="#up" x="730.0" y="529.7"/><use href="#up" x="732.0" y="530.7"/><use href="#up" x="734.0" y="531.7"/><use href="#up" x="736.0" y="532.7"/><use href="#up" x="738.0" y="533.9"/><use href="#up" x="740.0" y="535.0"/><use href="#up" x="742.0" y="536.4"/><use href="#up" x="744.0" y="538.4"/><use href="#up" x="746.0" y="540.7"/><use href="#up" x="748.0" y="543.2"/><use href="#up" x="750.0" y="545.9"/><use href="#up" x="752.0" y="548.7"/><use href="#up" x="754.0" y="551.4"/><use href="#up" x="756.0" y="554.3"/><use href="#up" x="758.0" y="557.4"/><use href="#up" x="760.0" y="560.6"/><use href="#up" x="762.0" y="563.8"/><use href="#up" x="764.0" y="567.0"/><use href="#up" x="766.0" y="570.0"/><use href="#up" x="768.0" y="572.9"/><use href="#up" x="770.0" y="575.9"/><use href="#up" x="772.0" y="578.8"/><use href="#up" x="774.0" y="581.6"/><use href="#up" x="776.0" y="584.3"/><use href="#up" x="778.0" y="586.8"/><use href="#up" x="780.0" y="589.1"/><use href="#up" x="782.0" y="591.3"/><use href="#up" x="784.0" y="593.4"/><use href="#up" x="786.0" y="595.3"/><use href="#up" x="788.0" y="597.3"/><use href="#up" x="790.0" y="599.1"/><use href="#up" x="792.0" y="601.0"/><use href="#up" x="794.0" y="603.0"/><use href="#up" x="796.0" y="605.0"/><use href="#up" x="798.0" y="607.0"/><use href="#up" x="800.0" y="609.0"/><use href="#up" x="802.0" y="610.9"/><use href="#up" x="804.0" y="612.8"/><use href="#up" x="806.0" y="614.5"/><use href="#up" x="808.0" y="616.0"/><use href="#up" x="810.0" y="617.4"/><use href="#up" x="812.0" y="618.7"/><use href="#up" x="814.0" y="619.9"/><use href="#up" x="816.0" y="621.0"/><use href="#up" x="818.0" y="622.1"/><use href="#up" x="820.0" y="623.1"/><use href="#up" x="822.0" y="624.1"/><use href="#up" x="824.0" y="625.0"/><use href="#up" x="826.0" y="625.9"/><use href="#up" x="828.0" y="626.7"/><use href="#up" x="830.0" y="627.6"/><use href="#up" x="832.0" y="628.4"/><use href="#up" x="834.0" y="629.2"/><use href="#up" x="836.0" y="629.9"/><use href="#up" x="838.0" y="630.6"/><use href="#up" x="840.0" y="631.3"/><use href="#up" x="842.0" y="631.9"/><use href="#up" x="844.0" y="632.5"/><use href="#up" x="846.0" y="633.0"/><use href="#up" x="848.0" y="633.5"/><use href="#up" x="850.0" y="634.0"/><use href="#up" x="852.0" y="634.5"/><use href="#up" x="854.0" y="635.0"/><use href="#up" x="856.0" y="635.5"/><use href="#up" x="858.0" y="635.9"/><use href="#up" x="860.0" y="636.4"/><use href="#up" x="862.0" y="636.7"/><use href="#up" x="864.0" y="637.1"/><use href="#up" x="866.0" y="637.4"/><use href="#up" x="868.0" y="637.7"/><use href="#up" x="870.0" y="637.9"/><use href="#up" x="872.0" y="638.0"/><use href="#up" x="874.0" y="638.1"/><use href="#up" x="876.0" y="638.2"/><use href="#up" x="878.0" y="638.3"/><use href="#up" x="880.0" y="638.4"/><use href="#up" x="882.0" y="638.5"/><use href="#up" x="884.0" y="638.6"/><use href="#up" x="886.0" y="638.6"/><use href="#up" x="888.0" y="638.7"/><use href="#up" x="890.0" y="638.8"/><use href="#up" x="892.0" y="638.8"/><use href="#up" x="894.0" y="638.9"/><use href="#up" x="896.0" y="638.9"/><use href="#up" x="898.0" y="638.9"/><use href="#up" x="900.0" y="639.0"/><use href="#up" x="902.0" y="639.0"/><use href="#up" x="904.0" y="639.0"/></g>
<g><use href="#dn" x="128.0" y="638.0"/><use href="#dn" x="130.0" y="638.1"/><use href="#dn" x="132.0" y="638.1"/><use href="#dn" x="134.0" y="638.2"/><use href="#dn" x="136.0" y="638.3"/><use href="#dn" x="138.0" y="638.3"/><use href="#dn" x="140.0" y="638.4"/><use href="#dn" x="142.0" y="638.4"/><use href="#dn" x="144.0" y="638.4"/><use href="#dn" x="146.0" y="638.5"/><use href="#dn" x="148.0" y="638.5"/><use href="#dn" x="150.0" y="638.5"/><use href="#dn" x="152.0" y="638.5"/><use href="#dn" x="154.0" y="638.5"/><use href="#dn" x="156.0" y="638.5"/><use href="#dn" x="158.0" y="638.5"/><use href="#dn" x="160.0" y="638.4"/><use href="#dn" x="162.0" y="638.4"/><use href="#dn" x="164.0" y="638.4"/><use href="#dn" x="166.0" y="638.3"/><use href="#dn" x="168.0" y="638.3"/><use href="#dn" x="170.0" y="638.2"/><use href="#dn" x="172.0" y="638.2"/><use href="#dn" x="174.0" y="638.1"/><use href="#dn" x="176.0" y="638.1"/><use href="#dn" x="178.0" y="638.0"/><use href="#dn" x="180.0" y="637.9"/><use href="#dn" x="182.0" y="637.8"/><use href="#dn" x="184.0" y="637.6"/><use href="#dn" x="186.0" y="637.3"/><use href="#dn" x="188.0" y="637.0"/><use href="#dn" x="190.0" y="636.7"/><use href="#dn" x="192.0" y="636.4"/><use href="#dn" x="194.0" y="635.9"/><use href="#dn" x="196.0" y="635.5"/><use href="#dn" x="198.0" y="635.0"/><use href="#dn" x="200.0" y="634.5"/><use href="#dn" x="202.0" y="633.7"/><use href="#dn" x="204.0" y="632.6"/><use href="#dn" x="206.0" y="631.2"/><use href="#dn" x="208.0" y="629.6"/><use href="#dn" x="210.0" y="628.1"/><use href="#dn" x="212.0" y="626.7"/><use href="#dn" x="214.0" y="625.6"/><use href="#dn" x="216.0" y="624.7"/><use href="#dn" x="218.0" y="623.8"/><use href="#dn" x="220.0" y="623.0"/><use href="#dn" x="222.0" y="622.3"/><use href="#dn" x="224.0" y="621.4"/><use href="#dn" x="226.0" y="620.6"/><use href="#dn" x="228.0" y="619.6"/><use href="#dn" x="230.0" y="618.5"/><use href="#dn" x="232.0" y="617.4"/><use href="#dn" x="234.0" y="616.1"/><use href="#dn" x="236.0" y="614.8"/><use href="#dn" x="238.0" y="613.5"/><use href="#dn" x="240.0" y="612.1"/><use href="#dn" x="242.0" y="610.7"/><use href="#dn" x="244.0" y="609.3"/><use href="#dn" x="246.0" y="607.9"/><use href="#dn" x="248.0" y="606.4"/><use href="#dn" x="250.0" y="604.9"/><use href="#dn" x="252.0" y="603.3"/><use href="#dn" x="254.0" y="601.5"/><use href="#dn" x="256.0" y="599.7"/><use href="#dn" x="258.0" y="597.9"/><use href="#dn" x="260.0" y="596.3"/><use href="#dn" x="262.0" y="594.6"/><use href="#dn" x="264.0" y="592.8"/><use href="#dn" x="266.0" y="590.1"/><use href="#dn" x="268.0" y="588.1"/><use href="#dn" x="270.0" y="587.9"/><use href="#dn" x="272.0" y="587.8"/><use href="#dn" x="274.0" y="583.3"/><use href="#dn" x="276.0" y="577.9"/><use href="#dn" x="278.0" y="572.7"/><use href="#dn" x="280.0" y="566.3"/><use href="#dn" x="282.0" y="557.0"/><use href="#dn" x="284.0" y="547.8"/><use href="#dn" x="286.0" y="535.0"/><use href="#dn" x="288.0" y="520.3"/><use href="#dn" x="290.0" y="504.4"/><use href="#dn" x="292.0" y="488.3"/><use href="#dn" x="294.0" y="473.1"/><use href="#dn" x="296.0" y="461.2"/><use href="#dn" x="298.0" y="449.7"/><use href="#dn" x="300.0" y="442.9"/><use href="#dn" x="302.0" y="438.0"/><use href="#dn" x="304.0" y="433.5"/><use href="#dn" x="306.0" y="428.1"/><use href="#dn" x="308.0" y="420.2"/><use href="#dn" x="310.0" y="407.5"/><use href="#dn" x="312.0" y="391.4"/><use href="#dn" x="314.0" y="370.6"/><use href="#dn" x="316.0" y="350.0"/><use href="#dn" x="318.0" y="332.4"/><use href="#dn" x="320.0" y="315.7"/><use href="#dn" x="322.0" y="298.0"/><use href="#dn" x="324.0" y="277.8"/><use href="#dn" x="326.0" y="256.8"/><use href="#dn" x="328.0" y="237.8"/><use href="#dn" x="330.0" y="220.4"/><use href="#dn" x="332.0" y="203.8"/><use href="#dn" x="334.0" y="187.9"/><use href="#dn" x="336.0" y="171.7"/><use href="#dn" x="338.0" y="155.1"/><use href="#dn" x="340.0" y="141.7"/><use href="#dn" x="342.0" y="130.3"/><use href="#dn" x="344.0" y="120.2"/><use href="#dn" x="346.0" y="111.0"/><use href="#dn" x="348.0" y="102.4"/><use href="#dn" x="350.0" y="94.3"/><use href="#dn" x="352.0" y="86.8"/><use href="#dn" x="354.0" y="80.1"/><use href="#dn" x="356.0" y="73.8"/><use href="#dn" x="358.0" y="67.3"/><use href="#dn" x="360.0" y="62.7"/><use href="#dn" x="362.0" y="62.0"/><use href="#dn" x="364.0" y="62.0"/><use href="#dn" x="366.0" y="62.0"/><use href="#dn" x="368.0" y="62.0"/><use href="#dn" x="370.0" y="62.8"/><use href="#dn" x="372.0" y="64.6"/><use href="#dn" x="374.0" y="67.0"/><use href="#dn" x="376.0" y="70.0"/><use href="#dn" x="378.0" y="74.2"/><use href="#dn" x="380.0" y="80.0"/><use href="#dn" x="382.0" y="89.9"/><use href="#dn" x="384.0" y="105.0"/><use href="#dn" x="386.0" y="131.0"/><use href="#dn" x="388.0" y="150.7"/><use href="#dn" x="390.0" y="164.0"/><use href="#dn" x="392.0" y="181.8"/><use href="#dn" x="394.0" y="196.0"/><use href="#dn" x="396.0" y="212.6"/><use href="#dn" x="398.0" y="238.2"/><use href="#dn" x="400.0" y="256.9"/><use href="#dn" x="402.0" y="276.0"/><use href="#dn" x="404.0" y="292.5"/><use href="#dn" x="406.0" y="306.9"/><use href="#dn" x="408.0" y="320.0"/><use href="#dn" x="410.0" y="334.5"/><use href="#dn" x="412.0" y="347.0"/><use href="#dn" x="414.0" y="355.1"/><use href="#dn" x="416.0" y="361.7"/><use href="#dn" x="418.0" y="368.5"/><use href="#dn" x="420.0" y="375.2"/><use href="#dn" x="422.0" y="380.6"/><use href="#dn" x="424.0" y="385.2"/><use href="#dn" x="426.0" y="385.4"/><use href="#dn" x="428.0" y="382.1"/><use href="#dn" x="430.0" y="377.4"/><use href="#dn" x="432.0" y="370.8"/><use href="#dn" x="434.0" y="365.8"/><use href="#dn" x="436.0" y="362.2"/><use href="#dn" x="438.0" y="359.0"/><use href="#dn" x="440.0" y="355.7"/><use href="#dn" x="442.0" y="352.0"/><use href="#dn" x="444.0" y="347.9"/><use href="#dn" x="446.0" y="343.1"/><use href="#dn" x="448.0" y="335.4"/><use href="#dn" x="450.0" y="321.8"/><use href="#dn" x="452.0" y="308.3"/><use href="#dn" x="454.0" y="300.2"/><use href="#dn" x="456.0" y="294.2"/><use href="#dn" x="458.0" y="289.9"/><use href="#dn" x="460.0" y="286.6"/><use href="#dn" x="462.0" y="288.4"/><use href="#dn" x="464.0" y="300.0"/><use href="#dn" x="466.0" y="314.7"/><use href="#dn" x="468.0" y="328.3"/><use href="#dn" x="470.0" y="339.0"/><use href="#dn" x="472.0" y="345.5"/><use href="#dn" x="474.0" y="354.7"/><use href="#dn" x="476.0" y="370.2"/><use href="#dn" x="478.0" y="383.4"/><use href="#dn" x="480.0" y="395.8"/><use href="#dn" x="482.0" y="408.1"/><use href="#dn" x="484.0" y="420.3"/><use href="#dn" x="486.0" y="433.0"/><use href="#dn" x="488.0" y="445.0"/><use href="#dn" x="490.0" y="454.2"/><use href="#dn" x="492.0" y="462.2"/><use href="#dn" x="494.0" y="469.6"/><use href="#dn" x="496.0" y="476.3"/><use href="#dn" x="498.0" y="483.0"/><use href="#dn" x="500.0" y="489.7"/><use href="#dn" x="502.0" y="496.5"/><use href="#dn" x="504.0" y="504.8"/><use href="#dn" x="506.0" y="515.7"/><use href="#dn" x="508.0" y="528.5"/><use href="#dn" x="510.0" y="541.8"/><use href="#dn" x="512.0" y="554.5"/><use href="#dn" x="514.0" y="567.6"/><use href="#dn" x="516.0" y="580.9"/><use href="#dn" x="518.0" y="592.8"/><use href="#dn" x="520.0" y="602.0"/><use href="#dn" x="522.0" y="609.5"/><use href="#dn" x="524.0" y="615.9"/><use href="#dn" x="526.0" y="621.4"/><use href="#dn" x="528.0" y="626.1"/><use href="#dn" x="530.0" y="630.8"/><use href="#dn" x="532.0" y="635.0"/><use href="#dn" x="534.0" y="637.6"/><use href="#dn" x="536.0" y="638.0"/><use href="#dn" x="538.0" y="637.8"/><use href="#dn" x="540.0" y="637.6"/><use href="#dn" x="542.0" y="637.2"/><use href="#dn" x="544.0" y="636.7"/><use href="#dn" x="546.0" y="636.2"/><use href="#dn" x="548.0" y="635.6"/><use href="#dn" x="550.0" y="635.0"/><use href="#dn" x="552.0" y="634.1"/><use href="#dn" x="554.0" y="632.7"/><use href="#dn" x="556.0" y="631.1"/><use href="#dn" x="558.0" y="629.2"/><use href="#dn" x="560.0" y="627.3"/><use href="#dn" x="562.0" y="625.6"/><use href="#dn" x="564.0" y="624.0"/><use href="#dn" x="566.0" y="622.6"/><use href="#dn" x="568.0" y="621.2"/><use href="#dn" x="570.0" y="619.8"/><use href="#dn" x="572.0" y="618.4"/><use href="#dn" x="574.0" y="617.1"/><use href="#dn" x="576.0" y="615.8"/><use href="#dn" x="578.0" y="614.6"/><use href="#dn" x="580.0" y="613.5"/><use href="#dn" x="582.0" y="612.4"/><use href="#dn" x="584.0" y="611.4"/><use href="#dn" x="586.0" y="610.6"/><use href="#dn" x="588.0" y="609.9"/><use href="#dn" x="590.0" y="609.3"/><use href="#dn" x="592.0" y="608.7"/><use href="#dn" x="594.0" y="608.2"/><use href="#dn" x="596.0" y="607.6"/><use href="#dn" x="598.0" y="606.9"/><use href="#dn" x="600.0" y="606.0"/><use href="#dn" x="602.0" y="604.9"/><use href="#dn" x="604.0" y="603.4"/><use href="#dn" x="606.0" y="601.7"/><use href="#dn" x="608.0" y="599.8"/><use href="#dn" x="610.0" y="597.7"/><use href="#dn" x="612.0" y="595.5"/><use href="#dn" x="614.0" y="593.3"/><use href="#dn" x="616.0" y="591.1"/><use href="#dn" x="618.0" y="589.0"/><use href="#dn" x="620.0" y="587.0"/><use href="#dn" x="622.0" y="584.9"/><use href="#dn" x="624.0" y="582.7"/><use href="#dn" x="626.0" y="580.5"/><use href="#dn" x="628.0" y="578.3"/><use href="#dn" x="630.0" y="576.1"/><use href="#dn" x="632.0" y="574.0"/><use href="#dn" x="634.0" y="571.9"/><use href="#dn" x="636.0" y="569.9"/><use href="#dn" x="638.0" y="568.0"/><use href="#dn" x="640.0" y="566.2"/><use href="#dn" x="642.0" y="564.5"/><use href="#dn" x="644.0" y="562.9"/><use href="#dn" x="646.0" y="561.3"/><use href="#dn" x="648.0" y="559.8"/><use href="#dn" x="650.0" y="558.3"/><use href="#dn" x="652.0" y="556.8"/><use href="#dn" x="654.0" y="555.3"/><use href="#dn" x="656.0" y="553.8"/><use href="#dn" x="658.0" y="552.2"/><use href="#dn" x="660.0" y="550.7"/><use href="#dn" x="662.0" y="549.1"/><use href="#dn" x="664.0" y="547.5"/><use href="#dn" x="666.0" y="546.0"/><use href="#dn" x="668.0" y="544.5"/><use href="#dn" x="670.0" y="543.0"/><use href="#dn" x="672.0" y="541.6"/><use href="#dn" x="674.0" y="540.2"/><use href="#dn" x="676.0" y="539.0"/><use href="#dn" x="678.0" y="537.8"/><use href="#dn" x="680.0" y="536.6"/><use href="#dn" x="682.0" y="535.4"/><use href="#dn" x="684.0" y="534.3"/><use href="#dn" x="686.0" y="533.3"/><use href="#dn" x="688.0" y="532.6"/><use href="#dn" x="690.0" y="532.0"/><use href="#dn" x="692.0" y="531.6"/><use href="#dn" x="694.0" y="531.2"/><use href="#dn" x="696.0" y="530.8"/><use href="#dn" x="698.0" y="530.5"/><use href="#dn" x="700.0" y="530.2"/><use href="#dn" x="702.0" y="529.9"/><use href="#dn" x="704.0" y="529.6"/><use href="#dn" x="706.0" y="529.4"/><use href="#dn" x="708.0" y="529.2"/><use href="#dn" x="710.0" y="529.1"/><use href="#dn" x="712.0" y="529.0"/><use href="#dn" x="714.0" y="529.0"/><use href="#dn" x="716.0" y="529.2"/><use href="#dn" x="718.0" y="529.6"/><use href="#dn" x="720.0" y="530.3"/><use href="#dn" x="722.0" y="531.1"/><use href="#dn" x="724.0" y="532.1"/><use href="#dn" x="726.0" y="533.1"/><use href="#dn" x="728.0" y="534.1"/><use href="#dn" x="730.0" y="535.0"/><use href="#dn" x="732.0" y="535.9"/><use href="#dn" x="734.0" y="536.8"/><use href="#dn" x="736.0" y="537.7"/><use href="#dn" x="738.0" y="538.8"/><use href="#dn" x="740.0" y="539.9"/><use href="#dn" x="742.0" y="541.3"/><use href="#dn" x="744.0" y="542.8"/><use href="#dn" x="746.0" y="544.9"/><use href="#dn" x="748.0" y="547.3"/><use href="#dn" x="750.0" y="550.0"/><use href="#dn" x="752.0" y="552.7"/><use href="#dn" x="754.0" y="555.3"/><use href="#dn" x="756.0" y="558.0"/><use href="#dn" x="758.0" y="560.8"/><use href="#dn" x="760.0" y="563.6"/><use href="#dn" x="762.0" y="566.4"/><use href="#dn" x="764.0" y="569.3"/><use href="#dn" x="766.0" y="572.0"/><use href="#dn" x="768.0" y="574.7"/><use href="#dn" x="770.0" y="577.4"/><use href="#dn" x="772.0" y="580.2"/><use href="#dn" x="774.0" y="582.8"/><use href="#dn" x="776.0" y="585.4"/><use href="#dn" x="778.0" y="587.8"/><use href="#dn" x="780.0" y="590.1"/><use href="#dn" x="782.0" y="592.3"/><use href="#dn" x="784.0" y="594.3"/><use href="#dn" x="786.0" y="596.3"/><use href="#dn" x="788.0" y="598.2"/><use href="#dn" x="790.0" y="600.1"/><use href="#dn" x="792.0" y="602.0"/><use href="#dn" x="794.0" y="604.0"/><use href="#dn" x="796.0" y="606.0"/><use href="#dn" x="798.0" y="608.0"/><use href="#dn" x="800.0" y="610.0"/><use href="#dn" x="802.0" y="611.9"/><use href="#dn" x="804.0" y="613.8"/><use href="#dn" x="806.0" y="615.5"/><use href="#dn" x="808.0" y="617.0"/><use href="#dn" x="810.0" y="618.4"/><use href="#dn" x="812.0" y="619.7"/><use href="#dn" x="814.0" y="620.9"/><use href="#dn" x="816.0" y="622.0"/><use href="#dn" x="818.0" y="623.1"/><use href="#dn" x="820.0" y="624.1"/><use href="#dn" x="822.0" y="625.1"/><use href="#dn" x="824.0" y="626.0"/><use href="#dn" x="826.0" y="626.9"/><use href="#dn" x="828.0" y="627.7"/><use href="#dn" x="830.0" y="628.6"/><use href="#dn" x="832.0" y="629.4"/><use href="#dn" x="834.0" y="630.2"/><use href="#dn" x="836.0" y="630.9"/><use href="#dn" x="838.0" y="631.6"/><use href="#dn" x="840.0" y="632.3"/><use href="#dn" x="842.0" y="632.9"/><use href="#dn" x="844.0" y="633.5"/><use href="#dn" x="846.0" y="634.0"/><use href="#dn" x="848.0" y="634.5"/><use href="#dn" x="850.0" y="635.0"/><use href="#dn" x="852.0" y="635.5"/><use href="#dn" x="854.0" y="636.0"/><use href="#dn" x="856.0" y="636.5"/><use href="#dn" x="858.0" y="636.9"/><use href="#dn" x="860.0" y="637.4"/><use href="#dn" x="862.0" y="637.7"/><use href="#dn" x="864.0" y="638.1"/><use href="#dn" x="866.0" y="638.4"/><use href="#dn" x="868.0" y="638.7"/><use href="#dn" x="870.0" y="638.9"/><use href="#dn" x="872.0" y="639.0"/><use href="#dn" x="874.0" y="639.1"/><use href="#dn" x="876.0" y="639.2"/><use href="#dn" x="878.0" y="639.3"/><use href="#dn" x="880.0" y="639.4"/><use href="#dn" x="882.0" y="639.5"/><use href="#dn" x="884.0" y="639.6"/><use href="#dn" x="886.0" y="639.6"/><use href="#dn" x="888.0" y="639.7"/><use href="#dn" x="890.0" y="639.8"/><use href="#dn" x="892.0" y="639.8"/><use href="#dn" x="894.0" y="639.9"/><use href="#dn" x="896.0" y="639.9"/><use href="#dn" x="898.0" y="639.9"/><use href="#dn" x="900.0" y="640.0"/><use href="#dn" x="902.0" y="640.0"/><use href="#dn" x="904.0" y="640.0"/></g>
<g><use href="#di" x="128.0" y="634.5"/><use href="#di" x="129.7" y="634.6"/><use href="#di" x="131.4" y="634.6"/><use href="#di" x="133.1" y="634.7"/><use href="#di" x="134.8" y="634.8"/><use href="#di" x="136.5" y="634.8"/><use href="#di" x="138.2" y="634.9"/><use href="#di" x="139.9" y="634.9"/><use href="#di" x="141.6" y="634.9"/><use href="#di" x="143.3" y="635.0"/><use href="#di" x="145.0" y="635.0"/><use href="#di" x="146.7" y="635.0"/><use href="#di" x="148.4" y="635.0"/><use href="#di" x="150.1" y="635.0"/><use href="#di" x="151.8" y="635.0"/><use href="#di" x="153.5" y="635.0"/><use href="#di" x="155.2" y="635.0"/><use href="#di" x="156.9" y="634.9"/><use href="#di" x="158.6" y="634.9"/><use href="#di" x="160.3" y="634.8"/><use href="#di" x="162.0" y="634.8"/><use href="#di" x="163.7" y="634.7"/><use href="#di" x="165.4" y="634.7"/><use href="#di" x="167.1" y="634.6"/><use href="#di" x="168.8" y="634.5"/><use href="#di" x="170.5" y="634.4"/><use href="#di" x="172.2" y="634.3"/><use href="#di" x="173.9" y="634.2"/><use href="#di" x="175.6" y="634.1"/><use href="#di" x="177.3" y="634.0"/><use href="#di" x="179.0" y="633.9"/><use href="#di" x="180.7" y="633.8"/><use href="#di" x="182.4" y="633.7"/><use href="#di" x="184.1" y="633.6"/><use href="#di" x="185.8" y="633.5"/><use href="#di" x="187.5" y="633.3"/><use href="#di" x="189.2" y="633.2"/><use href="#di" x="190.9" y="633.0"/><use href="#di" x="192.6" y="632.8"/><use href="#di" x="194.3" y="632.6"/><use href="#di" x="196.0" y="632.4"/><use href="#di" x="197.7" y="632.1"/><use href="#di" x="199.4" y="631.8"/><use href="#di" x="201.1" y="631.5"/><use href="#di" x="202.8" y="631.2"/><use href="#di" x="204.5" y="630.9"/><use href="#di" x="206.2" y="630.3"/><use href="#di" x="207.9" y="629.6"/><use href="#di" x="209.6" y="628.7"/><use href="#di" x="211.3" y="627.8"/><use href="#di" x="213.0" y="626.9"/><use href="#di" x="214.7" y="626.0"/><use href="#di" x="216.4" y="625.3"/><use href="#di" x="218.1" y="624.6"/><use href="#di" x="219.8" y="623.9"/><use href="#di" x="221.5" y="623.2"/><use href="#di" x="223.2" y="622.5"/><use href="#di" x="224.9" y="621.8"/><use href="#di" x="226.6" y="621.0"/><use href="#di" x="228.3" y="620.2"/><use href="#di" x="230.0" y="619.3"/><use href="#di" x="231.7" y="618.4"/><use href="#di" x="233.4" y="617.4"/><use href="#di" x="235.1" y="616.4"/><use href="#di" x="236.8" y="615.3"/><use href="#di" x="238.5" y="614.1"/><use href="#di" x="240.2" y="613.0"/><use href="#di" x="241.9" y="611.8"/><use href="#di" x="243.6" y="610.6"/><use href="#di" x="245.3" y="609.4"/><use href="#di" x="247.0" y="608.3"/><use href="#di" x="248.7" y="607.0"/><use href="#di" x="250.4" y="605.8"/><use href="#di" x="252.1" y="604.4"/><use href="#di" x="253.8" y="603.0"/><use href="#di" x="255.5" y="601.5"/><use href="#di" x="257.2" y="600.0"/><use href="#di" x="258.9" y="598.4"/><use href="#di" x="260.6" y="597.0"/><use href="#di" x="262.3" y="595.6"/><use href="#di" x="264.0" y="594.2"/><use href="#di" x="265.7" y="592.6"/><use href="#di" x="267.4" y="590.2"/><use href="#di" x="269.1" y="588.3"/><use href="#di" x="270.8" y="587.9"/><use href="#di" x="272.5" y="587.9"/><use href="#di" x="274.2" y="587.0"/><use href="#di" x="275.9" y="582.0"/><use href="#di" x="277.6" y="577.6"/><use href="#di" x="279.3" y="573.3"/><use href="#di" x="281.0" y="568.0"/><use href="#di" x="282.7" y="561.0"/><use href="#di" x="284.4" y="552.8"/><use href="#di" x="286.1" y="544.7"/><use href="#di" x="287.8" y="532.9"/><use href="#di" x="289.5" y="520.3"/><use href="#di" x="291.2" y="507.0"/><use href="#di" x="292.9" y="493.0"/><use href="#di" x="294.6" y="479.4"/><use href="#di" x="296.3" y="468.2"/><use href="#di" x="298.0" y="458.6"/><use href="#di" x="299.7" y="448.2"/><use href="#di" x="301.4" y="432.4"/><use href="#di" x="303.1" y="418.0"/><use href="#di" x="304.8" y="408.0"/><use href="#di" x="306.5" y="395.9"/><use href="#di" x="308.2" y="379.2"/><use href="#di" x="309.9" y="361.0"/><use href="#di" x="311.6" y="344.5"/><use href="#di" x="313.3" y="329.9"/><use href="#di" x="315.0" y="315.7"/><use href="#di" x="316.7" y="300.8"/><use href="#di" x="318.4" y="284.1"/><use href="#di" x="320.1" y="266.2"/><use href="#di" x="321.8" y="248.9"/><use href="#di" x="323.5" y="233.4"/><use href="#di" x="325.2" y="218.7"/><use href="#di" x="326.9" y="204.6"/><use href="#di" x="328.6" y="191.1"/><use href="#di" x="330.3" y="177.6"/><use href="#di" x="332.0" y="163.2"/><use href="#di" x="333.7" y="150.0"/><use href="#di" x="335.4" y="139.3"/><use href="#di" x="337.1" y="129.8"/><use href="#di" x="338.8" y="121.2"/><use href="#di" x="340.5" y="113.2"/><use href="#di" x="342.2" y="105.8"/><use href="#di" x="343.9" y="98.7"/><use href="#di" x="345.6" y="92.0"/><use href="#di" x="347.3" y="85.8"/><use href="#di" x="349.0" y="80.1"/><use href="#di" x="350.7" y="74.8"/><use href="#di" x="352.4" y="69.2"/><use href="#di" x="354.1" y="64.3"/><use href="#di" x="355.8" y="62.0"/><use href="#di" x="357.5" y="62.3"/><use href="#di" x="359.2" y="63.4"/><use href="#di" x="360.9" y="64.9"/><use href="#di" x="362.6" y="66.7"/><use href="#di" x="364.3" y="69.6"/><use href="#di" x="366.0" y="73.4"/><use href="#di" x="367.7" y="77.5"/><use href="#di" x="369.4" y="81.7"/><use href="#di" x="371.1" y="86.7"/><use href="#di" x="372.8" y="93.0"/><use href="#di" x="374.5" y="102.2"/><use href="#di" x="376.2" y="114.4"/><use href="#di" x="377.9" y="128.8"/><use href="#di" x="379.6" y="144.7"/><use href="#di" x="381.3" y="158.4"/><use href="#di" x="383.0" y="172.2"/><use href="#di" x="384.7" y="186.0"/><use href="#di" x="386.4" y="198.9"/><use href="#di" x="388.1" y="213.6"/><use href="#di" x="389.8" y="231.0"/><use href="#di" x="391.5" y="247.3"/><use href="#di" x="393.2" y="263.3"/><use href="#di" x="394.9" y="278.9"/><use href="#di" x="396.6" y="292.7"/><use href="#di" x="398.3" y="305.2"/><use href="#di" x="400.0" y="317.1"/><use href="#di" x="401.7" y="329.1"/><use href="#di" x="403.4" y="340.2"/><use href="#di" x="405.1" y="349.1"/><use href="#di" x="406.8" y="356.7"/><use href="#di" x="408.5" y="364.3"/><use href="#di" x="410.2" y="372.3"/><use href="#di" x="411.9" y="379.6"/><use href="#di" x="413.6" y="386.1"/><use href="#di" x="415.3" y="391.9"/><use href="#di" x="417.0" y="397.0"/><use href="#di" x="418.7" y="401.3"/><use href="#di" x="420.4" y="404.9"/><use href="#di" x="422.1" y="407.9"/><use href="#di" x="423.8" y="410.0"/><use href="#di" x="425.5" y="408.2"/><use href="#di" x="427.2" y="403.9"/><use href="#di" x="428.9" y="399.9"/><use href="#di" x="430.6" y="395.7"/><use href="#di" x="432.3" y="391.5"/><use href="#di" x="434.0" y="387.9"/><use href="#di" x="435.7" y="384.6"/><use href="#di" x="437.4" y="381.5"/><use href="#di" x="439.1" y="378.5"/><use href="#di" x="440.8" y="375.6"/><use href="#di" x="442.5" y="372.6"/><use href="#di" x="444.2" y="370.0"/><use href="#di" x="445.9" y="368.1"/><use href="#di" x="447.6" y="366.9"/><use href="#di" x="449.3" y="366.1"/><use href="#di" x="451.0" y="366.4"/><use href="#di" x="452.7" y="368.3"/><use href="#di" x="454.4" y="371.0"/><use href="#di" x="456.1" y="373.9"/><use href="#di" x="457.8" y="377.7"/><use href="#di" x="459.5" y="382.4"/><use href="#di" x="461.2" y="388.8"/><use href="#di" x="462.9" y="397.6"/><use href="#di" x="464.6" y="406.9"/><use href="#di" x="466.3" y="415.5"/><use href="#di" x="468.0" y="424.0"/><use href="#di" x="469.7" y="432.5"/><use href="#di" x="471.4" y="440.8"/><use href="#di" x="473.1" y="449.1"/><use href="#di" x="474.8" y="457.9"/><use href="#di" x="476.5" y="467.8"/><use href="#di" x="478.2" y="478.6"/><use href="#di" x="479.9" y="489.4"/><use href="#di" x="481.6" y="500.0"/><use href="#di" x="483.3" y="510.8"/><use href="#di" x="485.0" y="521.4"/><use href="#di" x="486.7" y="531.6"/><use href="#di" x="488.4" y="541.2"/><use href="#di" x="490.1" y="550.3"/><use href="#di" x="491.8" y="559.1"/><use href="#di" x="493.5" y="567.4"/><use href="#di" x="495.2" y="575.4"/><use href="#di" x="496.9" y="583.0"/><use href="#di" x="498.6" y="590.6"/><use href="#di" x="500.3" y="597.9"/><use href="#di" x="502.0" y="604.5"/><use href="#di" x="503.7" y="610.1"/><use href="#di" x="505.4" y="614.8"/><use href="#di" x="507.1" y="619.3"/><use href="#di" x="508.8" y="623.3"/><use href="#di" x="510.5" y="626.9"/><use href="#di" x="512.2" y="629.8"/><use href="#di" x="513.9" y="631.9"/><use href="#di" x="515.6" y="633.5"/><use href="#di" x="517.3" y="635.1"/><use href="#di" x="519.0" y="636.5"/><use href="#di" x="520.7" y="637.7"/><use href="#di" x="522.4" y="638.7"/><use href="#di" x="524.1" y="639.5"/><use href="#di" x="525.8" y="639.9"/><use href="#di" x="527.5" y="640.0"/><use href="#di" x="529.2" y="639.8"/><use href="#di" x="530.9" y="639.4"/><use href="#di" x="532.6" y="638.7"/><use href="#di" x="534.3" y="637.9"/><use href="#di" x="536.0" y="637.0"/><use href="#di" x="537.7" y="635.9"/><use href="#di" x="539.4" y="634.8"/><use href="#di" x="541.1" y="633.6"/><use href="#di" x="542.8" y="632.3"/><use href="#di" x="544.5" y="631.1"/><use href="#di" x="546.2" y="629.9"/><use href="#di" x="547.9" y="628.5"/><use href="#di" x="549.6" y="626.9"/><use href="#di" x="551.3" y="625.1"/><use href="#di" x="553.0" y="623.2"/><use href="#di" x="554.7" y="621.2"/><use href="#di" x="556.4" y="619.1"/><use href="#di" x="558.1" y="617.1"/><use href="#di" x="559.8" y="615.2"/><use href="#di" x="561.5" y="613.4"/><use href="#di" x="563.2" y="611.8"/><use href="#di" x="564.9" y="610.3"/><use href="#di" x="566.6" y="608.8"/><use href="#di" x="568.3" y="607.3"/><use href="#di" x="570.0" y="605.8"/><use href="#di" x="571.7" y="604.3"/><use href="#di" x="573.4" y="602.9"/><use href="#di" x="575.1" y="601.6"/><use href="#di" x="576.8" y="600.3"/><use href="#di" x="578.5" y="599.0"/><use href="#di" x="580.2" y="597.9"/><use href="#di" x="581.9" y="596.8"/><use href="#di" x="583.6" y="595.8"/><use href="#di" x="585.3" y="594.8"/><use href="#di" x="587.0" y="594.1"/><use href="#di" x="588.7" y="593.4"/><use href="#di" x="590.4" y="592.8"/><use href="#di" x="592.1" y="592.2"/><use href="#di" x="593.8" y="591.7"/><use href="#di" x="595.5" y="591.0"/><use href="#di" x="597.2" y="590.4"/><use href="#di" x="598.9" y="589.6"/><use href="#di" x="600.6" y="588.6"/><use href="#di" x="602.3" y="587.4"/><use href="#di" x="604.0" y="586.0"/><use href="#di" x="605.7" y="584.4"/><use href="#di" x="607.4" y="582.6"/><use href="#di" x="609.1" y="580.7"/><use href="#di" x="610.8" y="578.8"/><use href="#di" x="612.5" y="576.8"/><use href="#di" x="614.2" y="574.9"/><use href="#di" x="615.9" y="573.0"/><use href="#di" x="617.6" y="571.3"/><use href="#di" x="619.3" y="569.7"/><use href="#di" x="621.0" y="568.3"/><use href="#di" x="622.7" y="566.9"/><use href="#di" x="624.4" y="565.5"/><use href="#di" x="626.1" y="564.2"/><use href="#di" x="627.8" y="562.9"/><use href="#di" x="629.5" y="561.6"/><use href="#di" x="631.2" y="560.4"/><use href="#di" x="632.9" y="559.1"/><use href="#di" x="634.6" y="557.8"/><use href="#di" x="636.3" y="556.4"/><use href="#di" x="638.0" y="555.0"/><use href="#di" x="639.7" y="553.6"/><use href="#di" x="641.4" y="552.1"/><use href="#di" x="643.1" y="550.7"/><use href="#di" x="644.8" y="549.2"/><use href="#di" x="646.5" y="547.7"/><use href="#di" x="648.2" y="546.2"/><use href="#di" x="649.9" y="544.6"/><use href="#di" x="651.6" y="543.1"/><use href="#di" x="653.3" y="541.5"/><use href="#di" x="655.0" y="539.9"/><use href="#di" x="656.7" y="538.3"/><use href="#di" x="658.4" y="536.6"/><use href="#di" x="660.1" y="535.0"/><use href="#di" x="661.8" y="533.2"/><use href="#di" x="663.5" y="531.5"/><use href="#di" x="665.2" y="529.7"/><use href="#di" x="666.9" y="527.9"/><use href="#di" x="668.6" y="526.1"/><use href="#di" x="670.3" y="524.3"/><use href="#di" x="672.0" y="522.5"/><use href="#di" x="673.7" y="520.8"/><use href="#di" x="675.4" y="519.1"/><use href="#di" x="677.1" y="517.4"/><use href="#di" x="678.8" y="515.5"/><use href="#di" x="680.5" y="513.7"/><use href="#di" x="682.2" y="511.9"/><use href="#di" x="683.9" y="510.4"/><use href="#di" x="685.6" y="509.2"/><use href="#di" x="687.3" y="508.4"/><use href="#di" x="689.0" y="507.5"/><use href="#di" x="690.7" y="506.7"/><use href="#di" x="692.4" y="506.0"/><use href="#di" x="694.1" y="505.3"/><use href="#di" x="695.8" y="504.7"/><use href="#di" x="697.5" y="504.2"/><use href="#di" x="699.2" y="503.7"/><use href="#di" x="700.9" y="503.4"/><use href="#di" x="702.6" y="503.1"/><use href="#di" x="704.3" y="503.0"/><use href="#di" x="706.0" y="503.0"/><use href="#di" x="707.7" y="503.0"/><use href="#di" x="709.4" y="503.0"/><use href="#di" x="711.1" y="503.0"/><use href="#di" x="712.8" y="503.0"/><use href="#di" x="714.5" y="503.0"/><use href="#di" x="716.2" y="503.0"/><use href="#di" x="717.9" y="503.0"/><use href="#di" x="719.6" y="503.3"/><use href="#di" x="721.3" y="504.0"/><use href="#di" x="723.0" y="505.2"/><use href="#di" x="724.7" y="506.7"/><use href="#di" x="726.4" y="508.5"/><use href="#di" x="728.1" y="510.4"/><use href="#di" x="729.8" y="512.4"/><use href="#di" x="731.5" y="514.3"/><use href="#di" x="733.2" y="516.2"/><use href="#di" x="734.9" y="517.9"/><use href="#di" x="736.6" y="519.6"/><use href="#di" x="738.3" y="521.3"/><use href="#di" x="740.0" y="523.1"/><use href="#di" x="741.7" y="524.9"/><use href="#di" x="743.4" y="526.7"/><use href="#di" x="745.1" y="528.6"/><use href="#di" x="746.8" y="530.5"/><use href="#di" x="748.5" y="532.5"/><use href="#di" x="750.2" y="534.5"/><use href="#di" x="751.9" y="536.6"/><use href="#di" x="753.6" y="538.8"/><use href="#di" x="755.3" y="540.9"/><use href="#di" x="757.0" y="543.1"/><use href="#di" x="758.7" y="545.4"/><use href="#di" x="760.4" y="547.7"/><use href="#di" x="762.1" y="550.1"/><use href="#di" x="763.8" y="552.5"/><use href="#di" x="765.5" y="555.1"/><use href="#di" x="767.2" y="557.7"/><use href="#di" x="768.9" y="560.5"/><use href="#di" x="770.6" y="563.5"/><use href="#di" x="772.3" y="566.6"/><use href="#di" x="774.0" y="570.1"/><use href="#di" x="775.7" y="574.2"/><use href="#di" x="777.4" y="578.6"/><use href="#di" x="779.1" y="583.3"/><use href="#di" x="780.8" y="588.1"/><use href="#di" x="782.5" y="592.9"/><use href="#di" x="784.2" y="597.5"/><use href="#di" x="785.9" y="601.8"/><use href="#di" x="787.6" y="605.6"/><use href="#di" x="789.3" y="608.9"/><use href="#di" x="791.0" y="611.5"/><use href="#di" x="792.7" y="614.0"/><use href="#di" x="794.4" y="616.3"/><use href="#di" x="796.1" y="618.5"/><use href="#di" x="797.8" y="620.4"/><use href="#di" x="799.5" y="622.2"/><use href="#di" x="801.2" y="623.7"/><use href="#di" x="802.9" y="624.9"/><use href="#di" x="804.6" y="626.0"/><use href="#di" x="806.3" y="627.1"/><use href="#di" x="808.0" y="628.1"/><use href="#di" x="809.7" y="629.0"/><use href="#di" x="811.4" y="629.8"/><use href="#di" x="813.1" y="630.6"/><use href="#di" x="814.8" y="631.2"/><use href="#di" x="816.5" y="631.6"/><use href="#di" x="818.2" y="631.9"/><use href="#di" x="819.9" y="632.1"/><use href="#di" x="821.6" y="632.2"/><use href="#di" x="823.3" y="632.3"/><use href="#di" x="825.0" y="632.3"/><use href="#di" x="826.7" y="632.4"/><use href="#di" x="828.4" y="632.5"/><use href="#di" x="830.1" y="632.5"/><use href="#di" x="831.8" y="632.6"/><use href="#di" x="833.5" y="632.6"/><use href="#di" x="835.2" y="632.7"/><use href="#di" x="836.9" y="632.7"/><use href="#di" x="838.6" y="632.7"/><use href="#di" x="840.3" y="632.8"/><use href="#di" x="842.0" y="632.8"/><use href="#di" x="843.7" y="632.9"/><use href="#di" x="845.4" y="633.0"/><use href="#di" x="847.1" y="633.1"/><use href="#di" x="848.8" y="633.1"/><use href="#di" x="850.5" y="633.2"/><use href="#di" x="852.2" y="633.3"/><use href="#di" x="853.9" y="633.4"/><use href="#di" x="855.6" y="633.5"/><use href="#di" x="857.3" y="633.6"/><use href="#di" x="859.0" y="633.7"/><use href="#di" x="860.7" y="633.8"/><use href="#di" x="862.4" y="633.9"/><use href="#di" x="864.1" y="634.0"/><use href="#di" x="865.8" y="634.2"/><use href="#di" x="867.5" y="634.3"/><use href="#di" x="869.2" y="634.3"/><use href="#di" x="870.9" y="634.4"/><use href="#di" x="872.6" y="634.5"/><use href="#di" x="874.3" y="634.6"/><use href="#di" x="876.0" y="634.7"/><use href="#di" x="877.7" y="634.8"/><use href="#di" x="879.4" y="634.9"/><use href="#di" x="881.1" y="635.0"/><use href="#di" x="882.8" y="635.0"/><use href="#di" x="884.5" y="635.1"/><use href="#di" x="886.2" y="635.2"/><use href="#di" x="887.9" y="635.3"/><use href="#di" x="889.6" y="635.4"/><use href="#di" x="891.3" y="635.4"/><use href="#di" x="893.0" y="635.5"/><use href="#di" x="894.7" y="635.6"/><use href="#di" x="896.4" y="635.7"/><use href="#di" x="898.1" y="635.7"/><use href="#di" x="899.8" y="635.8"/><use href="#di" x="901.5" y="635.9"/><use href="#di" x="903.2" y="635.9"/><use href="#di" x="904.9" y="636.0"/></g>
<g><use href="#sq" x="136.0" y="1472.0"/><use href="#sq" x="140.0" y="1470.7"/><use href="#sq" x="144.0" y="1473.4"/><use href="#sq" x="148.0" y="1475.1"/><use href="#sq" x="152.0" y="1476.8"/><use href="#sq" x="156.0" y="1474.3"/><use href="#sq" x="160.0" y="1472.6"/><use href="#sq" x="164.0" y="1472.1"/><use href="#sq" x="168.0" y="1476.1"/><use href="#sq" x="172.0" y="1478.5"/><use href="#sq" x="176.0" y="1475.4"/><use href="#sq" x="180.0" y="1471.9"/><use href="#sq" x="184.0" y="1472.9"/><use href="#sq" x="188.0" y="1479.6"/><use href="#sq" x="192.0" y="1476.3"/><use href="#sq" x="196.0" y="1471.6"/><use href="#sq" x="200.0" y="1475.8"/><use href="#sq" x="204.0" y="1473.1"/><use href="#sq" x="208.0" y="1474.3"/><use href="#sq" x="212.0" y="1474.6"/><use href="#sq" x="216.0" y="1473.9"/><use href="#sq" x="220.0" y="1476.9"/><use href="#sq" x="224.0" y="1475.1"/><use href="#sq" x="228.0" y="1473.5"/><use href="#sq" x="232.0" y="1475.7"/><use href="#sq" x="236.0" y="1476.4"/><use href="#sq" x="240.0" y="1469.9"/><use href="#sq" x="244.0" y="1472.8"/><use href="#sq" x="248.0" y="1469.9"/><use href="#sq" x="252.0" y="1470.5"/><use href="#sq" x="256.0" y="1466.0"/><use href="#sq" x="260.0" y="1467.2"/><use href="#sq" x="264.0" y="1464.3"/><use href="#sq" x="268.0" y="1458.7"/><use href="#sq" x="272.0" y="1452.2"/><use href="#sq" x="276.0" y="1451.2"/><use href="#sq" x="280.0" y="1447.7"/><use href="#sq" x="284.0" y="1445.4"/><use href="#sq" x="288.0" y="1447.6"/><use href="#sq" x="292.0" y="1442.0"/><use href="#sq" x="296.0" y="1445.1"/><use href="#sq" x="300.0" y="1441.0"/><use href="#sq" x="304.0" y="1430.9"/><use href="#sq" x="308.0" y="1432.7"/><use href="#sq" x="312.0" y="1424.5"/><use href="#sq" x="316.0" y="1422.1"/><use href="#sq" x="320.0" y="1416.1"/><use href="#sq" x="324.0" y="1404.0"/><use href="#sq" x="328.0" y="1399.6"/><use href="#sq" x="332.0" y="1390.4"/><use href="#sq" x="336.0" y="1385.6"/><use href="#sq" x="340.0" y="1372.9"/><use href="#sq" x="344.0" y="1369.7"/><use href="#sq" x="348.0" y="1356.5"/><use href="#sq" x="352.0" y="1352.9"/><use href="#sq" x="356.0" y="1348.2"/><use href="#sq" x="360.0" y="1347.9"/><use href="#sq" x="364.0" y="1336.4"/><use href="#sq" x="368.0" y="1333.7"/><use href="#sq" x="372.0" y="1324.8"/><use href="#sq" x="376.0" y="1322.5"/><use href="#sq" x="380.0" y="1322.2"/><use href="#sq" x="384.0" y="1319.0"/><use href="#sq" x="388.0" y="1321.1"/><use href="#sq" x="392.0" y="1326.5"/><use href="#sq" x="396.0" y="1324.3"/><use href="#sq" x="400.0" y="1326.5"/><use href="#sq" x="404.0" y="1325.9"/><use href="#sq" x="408.0" y="1327.5"/><use href="#sq" x="412.0" y="1324.9"/><use href="#sq" x="416.0" y="1325.0"/><use href="#sq" x="420.0" y="1325.6"/><use href="#sq" x="424.0" y="1325.3"/><use href="#sq" x="428.0" y="1322.8"/></g>
<g><use href="#sq" x="431.2" y="1321.7"/><use href="#sq" x="434.7" y="1303.0"/><use href="#sq" x="436.1" y="1272.2"/><use href="#sq" x="438.2" y="1272.7"/><use href="#sq" x="441.0" y="1208.5"/><use href="#sq" x="441.0" y="1128.0"/><use href="#sq" x="443.0" y="1050.0"/><use href="#sq" x="447.0" y="990.0"/><use href="#sq" x="452.3" y="1028.5"/><use href="#sq" x="453.3" y="925.6"/><use href="#sq" x="454.4" y="957.4"/><use href="#sq" x="458.6" y="912.9"/><use href="#sq" x="465.0" y="924.5"/><use href="#sq" x="468.2" y="963.8"/><use href="#sq" x="472.4" y="1004.0"/><use href="#sq" x="475.0" y="1063.2"/><use href="#sq" x="475.6" y="1063.5"/><use href="#sq" x="478.2" y="1118.3"/><use href="#sq" x="482.4" y="1142.7"/><use href="#sq" x="490.9" y="1129.0"/><use href="#sq" x="496.2" y="1144.8"/><use href="#sq" x="499.4" y="1167.0"/><use href="#sq" x="502.6" y="1201.0"/><use href="#sq" x="505.7" y="1246.6"/><use href="#sq" x="505.8" y="1247.0"/><use href="#sq" x="509.3" y="1284.3"/><use href="#sq" x="512.8" y="1338.0"/><use href="#sq" x="516.3" y="1396.3"/><use href="#sq" x="519.8" y="1439.5"/><use href="#sq" x="523.3" y="1457.0"/><use href="#sq" x="530.0" y="1468.0"/><use href="#sq" x="540.0" y="1472.0"/><use href="#sq" x="560.0" y="1480.6"/><use href="#sq" x="580.0" y="1480.0"/><use href="#sq" x="600.0" y="1478.0"/><use href="#sq" x="623.6" y="1474.2"/><use href="#sq" x="644.8" y="1467.8"/><use href="#sq" x="655.4" y="1446.6"/><use href="#sq" x="666.0" y="1434.0"/><use href="#sq" x="676.6" y="1429.7"/><use href="#sq" x="687.3" y="1427.6"/><use href="#sq" x="692.5" y="1426.7"/><use href="#sq" x="697.9" y="1423.3"/><use href="#sq" x="700.0" y="1421.6"/><use href="#sq" x="708.5" y="1414.8"/><use href="#sq" x="709.0" y="1416.5"/><use href="#sq" x="715.5" y="1414.0"/><use href="#sq" x="717.0" y="1412.7"/><use href="#sq" x="721.8" y="1419.0"/><use href="#sq" x="729.7" y="1417.0"/><use href="#sq" x="742.4" y="1421.2"/><use href="#sq" x="751.5" y="1423.0"/><use href="#sq" x="757.4" y="1421.6"/><use href="#sq" x="759.0" y="1421.2"/><use href="#sq" x="766.4" y="1423.0"/><use href="#sq" x="768.6" y="1423.0"/><use href="#sq" x="776.5" y="1424.2"/><use href="#sq" x="778.2" y="1425.0"/><use href="#sq" x="785.4" y="1429.3"/><use href="#sq" x="787.7" y="1428.8"/><use href="#sq" x="791.8" y="1431.8"/><use href="#sq" x="797.3" y="1434.5"/><use href="#sq" x="798.2" y="1437.0"/><use href="#sq" x="804.5" y="1442.0"/><use href="#sq" x="806.8" y="1442.2"/><use href="#sq" x="816.3" y="1446.0"/><use href="#sq" x="825.9" y="1451.7"/><use href="#sq" x="835.4" y="1455.5"/><use href="#sq" x="845.0" y="1459.3"/><use href="#sq" x="854.5" y="1463.2"/><use href="#sq" x="870.0" y="1468.0"/><use href="#sq" x="890.0" y="1470.0"/><use href="#sq" x="912.0" y="1470.0"/></g>
<g><use href="#sq" x="523.0" y="1459.1"/><use href="#sq" x="527.0" y="1468.0"/><use href="#sq" x="531.0" y="1463.5"/><use href="#sq" x="535.0" y="1470.4"/><use href="#sq" x="539.0" y="1474.0"/><use href="#sq" x="543.0" y="1476.0"/><use href="#sq" x="547.0" y="1476.2"/><use href="#sq" x="551.0" y="1480.0"/><use href="#sq" x="555.0" y="1479.5"/><use href="#sq" x="559.0" y="1481.1"/><use href="#sq" x="563.0" y="1480.4"/><use href="#sq" x="567.0" y="1477.9"/><use href="#sq" x="571.0" y="1478.3"/><use href="#sq" x="575.0" y="1480.8"/><use href="#sq" x="579.0" y="1478.8"/><use href="#sq" x="583.0" y="1482.5"/><use href="#sq" x="587.0" y="1482.2"/><use href="#sq" x="591.0" y="1482.8"/><use href="#sq" x="595.0" y="1478.6"/><use href="#sq" x="599.0" y="1480.9"/><use href="#sq" x="603.0" y="1475.8"/><use href="#sq" x="607.0" y="1475.4"/><use href="#sq" x="611.0" y="1476.6"/><use href="#sq" x="615.0" y="1476.3"/><use href="#sq" x="619.0" y="1471.8"/><use href="#sq" x="623.0" y="1470.7"/><use href="#sq" x="627.0" y="1474.1"/><use href="#sq" x="631.0" y="1470.9"/><use href="#sq" x="635.0" y="1474.2"/><use href="#sq" x="639.0" y="1471.4"/><use href="#sq" x="643.0" y="1469.6"/><use href="#sq" x="647.0" y="1466.0"/><use href="#sq" x="651.0" y="1457.8"/><use href="#sq" x="655.0" y="1446.7"/><use href="#sq" x="659.0" y="1443.3"/><use href="#sq" x="663.0" y="1435.3"/><use href="#sq" x="667.0" y="1433.0"/><use href="#sq" x="671.0" y="1430.4"/><use href="#sq" x="675.0" y="1431.7"/><use href="#sq" x="679.0" y="1429.6"/><use href="#sq" x="683.0" y="1427.1"/><use href="#sq" x="687.0" y="1432.0"/><use href="#sq" x="691.0" y="1425.8"/><use href="#sq" x="695.0" y="1424.4"/><use href="#sq" x="699.0" y="1423.2"/><use href="#sq" x="703.0" y="1422.7"/><use href="#sq" x="707.0" y="1415.7"/><use href="#sq" x="711.0" y="1415.7"/><use href="#sq" x="715.0" y="1413.4"/><use href="#sq" x="719.0" y="1410.2"/><use href="#sq" x="723.0" y="1415.9"/><use href="#sq" x="727.0" y="1417.9"/><use href="#sq" x="731.0" y="1416.8"/><use href="#sq" x="735.0" y="1418.7"/><use href="#sq" x="739.0" y="1417.1"/><use href="#sq" x="743.0" y="1418.2"/><use href="#sq" x="747.0" y="1421.5"/><use href="#sq" x="751.0" y="1424.2"/><use href="#sq" x="755.0" y="1421.4"/><use href="#sq" x="759.0" y="1421.7"/><use href="#sq" x="763.0" y="1423.4"/><use href="#sq" x="767.0" y="1422.9"/><use href="#sq" x="771.0" y="1424.7"/><use href="#sq" x="775.0" y="1427.2"/><use href="#sq" x="779.0" y="1422.8"/><use href="#sq" x="783.0" y="1428.5"/><use href="#sq" x="787.0" y="1425.2"/><use href="#sq" x="791.0" y="1431.7"/><use href="#sq" x="795.0" y="1433.2"/><use href="#sq" x="799.0" y="1434.5"/><use href="#sq" x="803.0" y="1437.5"/><use href="#sq" x="807.0" y="1442.4"/><use href="#sq" x="811.0" y="1443.3"/><use href="#sq" x="815.0" y="1445.7"/><use href="#sq" x="819.0" y="1445.9"/><use href="#sq" x="823.0" y="1451.3"/><use href="#sq" x="827.0" y="1450.4"/><use href="#sq" x="831.0" y="1453.8"/><use href="#sq" x="835.0" y="1455.2"/><use href="#sq" x="839.0" y="1459.8"/><use href="#sq" x="843.0" y="1455.4"/><use href="#sq" x="847.0" y="1458.9"/><use href="#sq" x="851.0" y="1463.8"/><use href="#sq" x="855.0" y="1461.7"/><use href="#sq" x="859.0" y="1462.1"/><use href="#sq" x="863.0" y="1466.6"/><use href="#sq" x="867.0" y="1466.8"/><use href="#sq" x="871.0" y="1469.8"/><use href="#sq" x="875.0" y="1466.9"/><use href="#sq" x="879.0" y="1469.7"/><use href="#sq" x="883.0" y="1471.0"/><use href="#sq" x="887.0" y="1472.0"/><use href="#sq" x="891.0" y="1467.8"/><use href="#sq" x="895.0" y="1472.8"/><use href="#sq" x="899.0" y="1468.2"/><use href="#sq" x="903.0" y="1467.0"/><use href="#sq" x="907.0" y="1468.1"/><use href="#sq" x="911.0" y="1470.3"/></g>
<g><use href="#ci" x="134.0" y="1492.0"/><use href="#ci" x="135.6" y="1492.1"/><use href="#ci" x="137.2" y="1492.1"/><use href="#ci" x="138.8" y="1492.2"/><use href="#ci" x="140.4" y="1492.3"/><use href="#ci" x="142.0" y="1492.3"/><use href="#ci" x="143.6" y="1492.4"/><use href="#ci" x="145.2" y="1492.5"/><use href="#ci" x="146.8" y="1492.5"/><use href="#ci" x="148.4" y="1492.6"/><use href="#ci" x="150.0" y="1492.7"/><use href="#ci" x="151.6" y="1492.7"/><use href="#ci" x="153.2" y="1492.8"/><use href="#ci" x="154.8" y="1492.8"/><use href="#ci" x="156.4" y="1492.9"/><use href="#ci" x="158.0" y="1492.9"/><use href="#ci" x="159.6" y="1493.0"/><use href="#ci" x="161.2" y="1493.0"/><use href="#ci" x="162.8" y="1493.1"/><use href="#ci" x="164.4" y="1493.1"/><use href="#ci" x="166.0" y="1493.2"/><use href="#ci" x="167.6" y="1493.2"/><use href="#ci" x="169.2" y="1493.3"/><use href="#ci" x="170.8" y="1493.4"/><use href="#ci" x="172.4" y="1493.4"/><use href="#ci" x="174.0" y="1493.5"/><use href="#ci" x="175.6" y="1493.5"/><use href="#ci" x="177.2" y="1493.6"/><use href="#ci" x="178.8" y="1493.6"/><use href="#ci" x="180.4" y="1493.7"/><use href="#ci" x="182.0" y="1493.7"/><use href="#ci" x="183.6" y="1493.8"/><use href="#ci" x="185.2" y="1493.8"/><use href="#ci" x="186.8" y="1493.8"/><use href="#ci" x="188.4" y="1493.9"/><use href="#ci" x="190.0" y="1493.9"/><use href="#ci" x="191.6" y="1493.9"/><use href="#ci" x="193.2" y="1494.0"/><use href="#ci" x="194.8" y="1494.0"/><use href="#ci" x="196.4" y="1494.0"/><use href="#ci" x="198.0" y="1494.0"/><use href="#ci" x="199.6" y="1494.0"/><use href="#ci" x="201.2" y="1494.0"/><use href="#ci" x="202.8" y="1494.0"/><use href="#ci" x="204.4" y="1494.0"/><use href="#ci" x="206.0" y="1494.0"/><use href="#ci" x="207.6" y="1494.0"/><use href="#ci" x="209.2" y="1494.0"/><use href="#ci" x="210.8" y="1494.0"/><use href="#ci" x="212.4" y="1494.0"/><use href="#ci" x="214.0" y="1494.0"/><use href="#ci" x="215.6" y="1494.0"/><use href="#ci" x="217.2" y="1494.0"/><use href="#ci" x="218.8" y="1494.0"/><use href="#ci" x="220.4" y="1494.0"/><use href="#ci" x="222.0" y="1494.0"/><use href="#ci" x="223.6" y="1494.0"/><use href="#ci" x="225.2" y="1494.0"/><use href="#ci" x="226.8" y="1494.0"/><use href="#ci" x="228.4" y="1494.0"/><use href="#ci" x="230.0" y="1494.0"/><use href="#ci" x="231.6" y="1494.0"/><use href="#ci" x="233.2" y="1494.0"/><use href="#ci" x="234.8" y="1494.0"/><use href="#ci" x="236.4" y="1494.0"/><use href="#ci" x="238.0" y="1494.0"/><use href="#ci" x="239.6" y="1494.0"/><use href="#ci" x="241.2" y="1494.0"/><use href="#ci" x="242.8" y="1494.0"/><use href="#ci" x="244.4" y="1493.9"/><use href="#ci" x="246.0" y="1493.9"/><use href="#ci" x="247.6" y="1493.8"/><use href="#ci" x="249.2" y="1493.8"/><use href="#ci" x="250.8" y="1493.7"/><use href="#ci" x="252.4" y="1493.6"/><use href="#ci" x="254.0" y="1493.5"/><use href="#ci" x="255.6" y="1493.4"/><use href="#ci" x="257.2" y="1493.3"/><use href="#ci" x="258.8" y="1493.1"/><use href="#ci" x="260.4" y="1493.0"/><use href="#ci" x="262.0" y="1492.8"/><use href="#ci" x="263.6" y="1492.7"/><use href="#ci" x="265.2" y="1492.5"/><use href="#ci" x="266.8" y="1492.3"/><use href="#ci" x="268.4" y="1492.2"/><use href="#ci" x="270.0" y="1492.0"/><use href="#ci" x="271.6" y="1491.8"/><use href="#ci" x="273.2" y="1491.5"/><use href="#ci" x="274.8" y="1491.2"/><use href="#ci" x="276.4" y="1490.9"/><use href="#ci" x="278.0" y="1490.5"/><use href="#ci" x="279.6" y="1490.1"/><use href="#ci" x="281.2" y="1489.6"/><use href="#ci" x="282.8" y="1489.2"/><use href="#ci" x="284.4" y="1488.6"/><use href="#ci" x="286.0" y="1488.1"/><use href="#ci" x="287.6" y="1487.5"/><use href="#ci" x="289.2" y="1486.9"/><use href="#ci" x="290.8" y="1486.3"/><use href="#ci" x="292.4" y="1485.5"/><use href="#ci" x="294.0" y="1484.7"/><use href="#ci" x="295.6" y="1483.8"/><use href="#ci" x="297.2" y="1482.8"/><use href="#ci" x="298.8" y="1481.8"/><use href="#ci" x="300.4" y="1480.7"/><use href="#ci" x="302.0" y="1479.5"/><use href="#ci" x="303.6" y="1478.3"/><use href="#ci" x="305.2" y="1477.0"/><use href="#ci" x="306.8" y="1475.7"/><use href="#ci" x="308.4" y="1474.4"/><use href="#ci" x="310.0" y="1473.0"/><use href="#ci" x="311.6" y="1471.5"/><use href="#ci" x="313.2" y="1469.9"/><use href="#ci" x="314.8" y="1468.2"/><use href="#ci" x="316.4" y="1466.4"/><use href="#ci" x="318.0" y="1464.4"/><use href="#ci" x="319.6" y="1462.4"/><use href="#ci" x="321.2" y="1460.2"/><use href="#ci" x="322.8" y="1457.9"/><use href="#ci" x="324.4" y="1455.4"/><use href="#ci" x="326.0" y="1452.7"/><use href="#ci" x="327.6" y="1449.8"/><use href="#ci" x="329.2" y="1446.6"/><use href="#ci" x="330.8" y="1443.2"/><use href="#ci" x="332.4" y="1439.6"/><use href="#ci" x="334.0" y="1435.8"/><use href="#ci" x="335.6" y="1431.7"/><use href="#ci" x="337.2" y="1427.2"/><use href="#ci" x="338.8" y="1422.3"/><use href="#ci" x="340.4" y="1417.2"/><use href="#ci" x="342.0" y="1412.0"/><use href="#ci" x="343.6" y="1406.0"/><use href="#ci" x="345.2" y="1399.5"/><use href="#ci" x="346.8" y="1393.7"/><use href="#ci" x="348.4" y="1390.1"/><use href="#ci" x="350.0" y="1387.5"/><use href="#ci" x="351.6" y="1385.3"/><use href="#ci" x="353.2" y="1383.5"/><use href="#ci" x="354.8" y="1382.0"/><use href="#ci" x="356.4" y="1380.7"/><use href="#ci" x="358.0" y="1379.3"/><use href="#ci" x="359.6" y="1378.0"/><use href="#ci" x="361.2" y="1376.9"/><use href="#ci" x="362.8" y="1376.1"/><use href="#ci" x="364.4" y="1375.7"/><use href="#ci" x="366.0" y="1375.7"/><use href="#ci" x="367.6" y="1375.7"/><use href="#ci" x="369.2" y="1375.8"/><use href="#ci" x="370.8" y="1375.9"/><use href="#ci" x="372.4" y="1376.0"/><use href="#ci" x="374.0" y="1376.1"/><use href="#ci" x="375.6" y="1376.3"/><use href="#ci" x="377.2" y="1376.5"/><use href="#ci" x="378.8" y="1376.8"/><use href="#ci" x="380.4" y="1377.1"/><use href="#ci" x="382.0" y="1377.4"/><use href="#ci" x="383.6" y="1377.8"/><use href="#ci" x="385.2" y="1378.3"/><use href="#ci" x="386.8" y="1378.8"/><use href="#ci" x="388.4" y="1379.4"/><use href="#ci" x="390.0" y="1380.0"/><use href="#ci" x="391.6" y="1380.7"/><use href="#ci" x="393.2" y="1381.4"/><use href="#ci" x="394.8" y="1382.2"/><use href="#ci" x="396.4" y="1383.1"/><use href="#ci" x="398.0" y="1384.0"/><use href="#ci" x="399.6" y="1383.8"/><use href="#ci" x="401.2" y="1380.9"/><use href="#ci" x="402.8" y="1376.6"/><use href="#ci" x="404.4" y="1370.6"/><use href="#ci" x="406.0" y="1362.0"/><use href="#ci" x="407.6" y="1350.8"/><use href="#ci" x="409.2" y="1338.5"/><use href="#ci" x="410.8" y="1327.1"/><use href="#ci" x="412.4" y="1314.6"/><use href="#ci" x="414.0" y="1300.0"/><use href="#ci" x="415.6" y="1286.5"/><use href="#ci" x="417.2" y="1273.3"/><use href="#ci" x="418.8" y="1260.0"/><use href="#ci" x="420.4" y="1246.8"/><use href="#ci" x="422.0" y="1234.5"/><use href="#ci" x="423.6" y="1216.6"/><use href="#ci" x="425.2" y="1193.2"/><use href="#ci" x="426.8" y="1167.6"/><use href="#ci" x="428.4" y="1098.5"/><use href="#ci" x="430.0" y="1054.0"/><use href="#ci" x="431.6" y="1018.0"/><use href="#ci" x="433.2" y="988.2"/><use href="#ci" x="434.8" y="962.4"/><use href="#ci" x="436.4" y="938.9"/><use href="#ci" x="438.0" y="920.0"/><use href="#ci" x="439.6" y="923.1"/><use href="#ci" x="441.2" y="931.8"/><use href="#ci" x="442.8" y="973.5"/><use href="#ci" x="444.4" y="1014.0"/><use href="#ci" x="446.0" y="1042.8"/><use href="#ci" x="447.6" y="1069.3"/><use href="#ci" x="449.2" y="1112.7"/><use href="#ci" x="450.8" y="1170.0"/><use href="#ci" x="452.4" y="1193.4"/><use href="#ci" x="454.0" y="1209.6"/><use href="#ci" x="455.6" y="1222.1"/><use href="#ci" x="457.2" y="1233.4"/><use href="#ci" x="458.8" y="1243.5"/><use href="#ci" x="460.4" y="1251.8"/><use href="#ci" x="462.0" y="1257.7"/><use href="#ci" x="463.6" y="1263.1"/><use href="#ci" x="465.2" y="1271.4"/><use href="#ci" x="466.8" y="1288.2"/><use href="#ci" x="468.4" y="1300.5"/><use href="#ci" x="470.0" y="1312.5"/><use href="#ci" x="471.6" y="1326.7"/><use href="#ci" x="473.2" y="1339.3"/><use href="#ci" x="474.8" y="1350.7"/><use href="#ci" x="476.4" y="1360.8"/><use href="#ci" x="478.0" y="1370.0"/><use href="#ci" x="479.6" y="1378.3"/><use href="#ci" x="481.2" y="1386.1"/><use href="#ci" x="482.8" y="1394.0"/><use href="#ci" x="484.4" y="1402.0"/><use href="#ci" x="486.0" y="1410.0"/><use href="#ci" x="487.6" y="1418.2"/><use href="#ci" x="489.2" y="1426.3"/><use href="#ci" x="490.8" y="1433.5"/><use href="#ci" x="492.4" y="1440.1"/><use href="#ci" x="494.0" y="1446.3"/><use href="#ci" x="495.6" y="1452.2"/><use href="#ci" x="497.2" y="1458.0"/><use href="#ci" x="498.8" y="1463.5"/><use href="#ci" x="500.4" y="1468.4"/><use href="#ci" x="502.0" y="1472.5"/><use href="#ci" x="503.6" y="1476.4"/><use href="#ci" x="505.2" y="1479.8"/><use href="#ci" x="506.8" y="1482.6"/><use href="#ci" x="508.4" y="1484.4"/><use href="#ci" x="510.0" y="1485.8"/><use href="#ci" x="511.6" y="1487.2"/><use href="#ci" x="513.2" y="1488.4"/><use href="#ci" x="514.8" y="1489.4"/><use href="#ci" x="516.4" y="1490.2"/><use href="#ci" x="518.0" y="1490.7"/><use href="#ci" x="519.6" y="1491.0"/><use href="#ci" x="521.2" y="1491.0"/><use href="#ci" x="522.8" y="1491.0"/><use href="#ci" x="524.4" y="1491.0"/><use href="#ci" x="526.0" y="1491.0"/><use href="#ci" x="527.6" y="1491.0"/><use href="#ci" x="529.2" y="1491.0"/><use href="#ci" x="530.8" y="1491.0"/><use href="#ci" x="532.4" y="1491.0"/><use href="#ci" x="534.0" y="1491.0"/><use href="#ci" x="535.6" y="1491.0"/><use href="#ci" x="537.2" y="1491.0"/><use href="#ci" x="538.8" y="1491.0"/><use href="#ci" x="540.4" y="1491.0"/><use href="#ci" x="542.0" y="1491.0"/><use href="#ci" x="543.6" y="1491.0"/><use href="#ci" x="545.2" y="1490.9"/><use href="#ci" x="546.8" y="1490.9"/><use href="#ci" x="548.4" y="1490.8"/><use href="#ci" x="550.0" y="1490.7"/><use href="#ci" x="551.6" y="1490.6"/><use href="#ci" x="553.2" y="1490.5"/><use href="#ci" x="554.8" y="1490.4"/><use href="#ci" x="556.4" y="1490.3"/><use href="#ci" x="558.0" y="1490.2"/><use href="#ci" x="559.6" y="1490.0"/><use href="#ci" x="561.2" y="1489.9"/><use href="#ci" x="562.8" y="1489.6"/><use href="#ci" x="564.4" y="1489.3"/><use href="#ci" x="566.0" y="1488.9"/><use href="#ci" x="567.6" y="1488.4"/><use href="#ci" x="569.2" y="1487.9"/><use href="#ci" x="570.8" y="1487.4"/><use href="#ci" x="572.4" y="1486.8"/><use href="#ci" x="574.0" y="1486.3"/><use href="#ci" x="575.6" y="1485.7"/><use href="#ci" x="577.2" y="1485.1"/><use href="#ci" x="578.8" y="1484.6"/><use href="#ci" x="580.4" y="1484.0"/><use href="#ci" x="582.0" y="1483.6"/><use href="#ci" x="583.6" y="1483.1"/><use href="#ci" x="585.2" y="1482.6"/><use href="#ci" x="586.8" y="1482.1"/><use href="#ci" x="588.4" y="1481.6"/><use href="#ci" x="590.0" y="1481.2"/><use href="#ci" x="591.6" y="1480.7"/><use href="#ci" x="593.2" y="1480.2"/><use href="#ci" x="594.8" y="1479.7"/><use href="#ci" x="596.4" y="1479.2"/><use href="#ci" x="598.0" y="1478.7"/><use href="#ci" x="599.6" y="1478.2"/><use href="#ci" x="601.2" y="1477.8"/><use href="#ci" x="602.8" y="1477.3"/><use href="#ci" x="604.4" y="1476.8"/><use href="#ci" x="606.0" y="1476.4"/><use href="#ci" x="607.6" y="1476.0"/><use href="#ci" x="609.2" y="1475.6"/><use href="#ci" x="610.8" y="1475.2"/><use href="#ci" x="612.4" y="1474.8"/><use href="#ci" x="614.0" y="1474.3"/><use href="#ci" x="615.6" y="1473.9"/><use href="#ci" x="617.2" y="1473.4"/><use href="#ci" x="618.8" y="1472.9"/><use href="#ci" x="620.4" y="1472.3"/><use href="#ci" x="622.0" y="1471.7"/><use href="#ci" x="623.6" y="1471.0"/><use href="#ci" x="625.2" y="1470.0"/><use href="#ci" x="626.8" y="1468.6"/><use href="#ci" x="628.4" y="1466.9"/><use href="#ci" x="630.0" y="1465.0"/><use href="#ci" x="631.6" y="1463.2"/><use href="#ci" x="633.2" y="1461.4"/><use href="#ci" x="634.8" y="1459.9"/><use href="#ci" x="636.4" y="1458.9"/><use href="#ci" x="638.0" y="1458.3"/><use href="#ci" x="639.6" y="1458.4"/><use href="#ci" x="641.2" y="1459.0"/><use href="#ci" x="642.8" y="1459.9"/><use href="#ci" x="644.4" y="1461.1"/><use href="#ci" x="646.0" y="1462.4"/><use href="#ci" x="647.6" y="1463.7"/><use href="#ci" x="649.2" y="1464.8"/><use href="#ci" x="650.8" y="1466.2"/><use href="#ci" x="652.4" y="1467.8"/><use href="#ci" x="654.0" y="1469.5"/><use href="#ci" x="655.6" y="1471.1"/><use href="#ci" x="657.2" y="1472.3"/><use href="#ci" x="658.8" y="1473.1"/><use href="#ci" x="660.4" y="1473.2"/><use href="#ci" x="662.0" y="1473.0"/><use href="#ci" x="663.6" y="1472.8"/><use href="#ci" x="665.2" y="1472.4"/><use href="#ci" x="666.8" y="1471.9"/><use href="#ci" x="668.4" y="1471.4"/><use href="#ci" x="670.0" y="1470.8"/><use href="#ci" x="671.6" y="1470.1"/><use href="#ci" x="673.2" y="1469.5"/><use href="#ci" x="674.8" y="1468.9"/><use href="#ci" x="676.4" y="1468.1"/><use href="#ci" x="678.0" y="1467.0"/><use href="#ci" x="679.6" y="1465.8"/><use href="#ci" x="681.2" y="1464.6"/><use href="#ci" x="682.8" y="1463.3"/><use href="#ci" x="684.4" y="1462.2"/><use href="#ci" x="686.0" y="1461.3"/><use href="#ci" x="687.6" y="1460.7"/><use href="#ci" x="689.2" y="1460.4"/><use href="#ci" x="690.8" y="1460.5"/><use href="#ci" x="692.4" y="1460.7"/><use href="#ci" x="694.0" y="1461.1"/><use href="#ci" x="695.6" y="1461.6"/><use href="#ci" x="697.2" y="1462.1"/><use href="#ci" x="698.8" y="1462.7"/><use href="#ci" x="700.4" y="1463.3"/><use href="#ci" x="702.0" y="1463.8"/><use href="#ci" x="703.6" y="1464.3"/><use href="#ci" x="705.2" y="1464.7"/><use href="#ci" x="706.8" y="1465.2"/><use href="#ci" x="708.4" y="1465.7"/><use href="#ci" x="710.0" y="1466.2"/><use href="#ci" x="711.6" y="1466.7"/><use href="#ci" x="713.2" y="1467.2"/><use href="#ci" x="714.8" y="1467.8"/><use href="#ci" x="716.4" y="1468.3"/><use href="#ci" x="718.0" y="1468.9"/><use href="#ci" x="719.6" y="1469.5"/><use href="#ci" x="721.2" y="1470.1"/><use href="#ci" x="722.8" y="1470.8"/><use href="#ci" x="724.4" y="1471.4"/><use href="#ci" x="726.0" y="1472.1"/><use href="#ci" x="727.6" y="1472.7"/><use href="#ci" x="729.2" y="1473.4"/><use href="#ci" x="730.8" y="1474.2"/><use href="#ci" x="732.4" y="1474.9"/><use href="#ci" x="734.0" y="1475.7"/><use href="#ci" x="735.6" y="1476.5"/><use href="#ci" x="737.2" y="1477.3"/><use href="#ci" x="738.8" y="1478.1"/><use href="#ci" x="740.4" y="1478.8"/><use href="#ci" x="742.0" y="1479.5"/><use href="#ci" x="743.6" y="1480.1"/><use href="#ci" x="745.2" y="1480.6"/><use href="#ci" x="746.8" y="1481.2"/><use href="#ci" x="748.4" y="1481.7"/><use href="#ci" x="750.0" y="1482.3"/><use href="#ci" x="751.6" y="1483.0"/><use href="#ci" x="753.2" y="1483.8"/><use href="#ci" x="754.8" y="1484.9"/><use href="#ci" x="756.4" y="1486.4"/><use href="#ci" x="758.0" y="1488.1"/><use href="#ci" x="759.6" y="1489.4"/><use href="#ci" x="761.2" y="1490.0"/><use href="#ci" x="762.8" y="1490.0"/><use href="#ci" x="764.4" y="1490.0"/><use href="#ci" x="766.0" y="1490.0"/><use href="#ci" x="767.6" y="1490.0"/><use href="#ci" x="769.2" y="1490.0"/><use href="#ci" x="770.8" y="1490.0"/><use href="#ci" x="772.4" y="1490.0"/><use href="#ci" x="774.0" y="1490.0"/><use href="#ci" x="775.6" y="1490.0"/><use href="#ci" x="777.2" y="1490.0"/><use href="#ci" x="778.8" y="1490.0"/><use href="#ci" x="780.4" y="1490.0"/><use href="#ci" x="782.0" y="1490.0"/><use href="#ci" x="783.6" y="1490.0"/><use href="#ci" x="785.2" y="1489.9"/><use href="#ci" x="786.8" y="1489.8"/><use href="#ci" x="788.4" y="1489.8"/><use href="#ci" x="790.0" y="1489.7"/><use href="#ci" x="791.6" y="1489.6"/><use href="#ci" x="793.2" y="1489.5"/><use href="#ci" x="794.8" y="1489.4"/><use href="#ci" x="796.4" y="1489.3"/><use href="#ci" x="798.0" y="1489.1"/><use href="#ci" x="799.6" y="1489.0"/><use href="#ci" x="801.2" y="1488.9"/><use href="#ci" x="802.8" y="1488.8"/><use href="#ci" x="804.4" y="1488.7"/><use href="#ci" x="806.0" y="1488.6"/><use href="#ci" x="807.6" y="1488.5"/><use href="#ci" x="809.2" y="1488.4"/><use href="#ci" x="810.8" y="1488.3"/><use href="#ci" x="812.4" y="1488.2"/><use href="#ci" x="814.0" y="1488.1"/><use href="#ci" x="815.6" y="1488.1"/><use href="#ci" x="817.2" y="1488.0"/><use href="#ci" x="818.8" y="1488.0"/><use href="#ci" x="820.4" y="1488.0"/><use href="#ci" x="822.0" y="1488.0"/><use href="#ci" x="823.6" y="1488.0"/><use href="#ci" x="825.2" y="1488.0"/><use href="#ci" x="826.8" y="1488.0"/><use href="#ci" x="828.4" y="1488.0"/><use href="#ci" x="830.0" y="1488.0"/><use href="#ci" x="831.6" y="1488.0"/><use href="#ci" x="833.2" y="1488.0"/><use href="#ci" x="834.8" y="1488.0"/><use href="#ci" x="836.4" y="1488.0"/><use href="#ci" x="838.0" y="1488.0"/><use href="#ci" x="839.6" y="1488.0"/><use href="#ci" x="841.2" y="1488.0"/><use href="#ci" x="842.8" y="1488.0"/><use href="#ci" x="844.4" y="1488.0"/><use href="#ci" x="846.0" y="1488.0"/><use href="#ci" x="847.6" y="1488.0"/><use href="#ci" x="849.2" y="1488.0"/><use href="#ci" x="850.8" y="1488.0"/><use href="#ci" x="852.4" y="1488.0"/><use href="#ci" x="854.0" y="1488.0"/><use href="#ci" x="855.6" y="1488.0"/><use href="#ci" x="857.2" y="1488.0"/><use href="#ci" x="858.8" y="1488.0"/><use href="#ci" x="860.4" y="1488.0"/><use href="#ci" x="862.0" y="1488.0"/><use href="#ci" x="863.6" y="1488.0"/><use href="#ci" x="865.2" y="1488.0"/><use href="#ci" x="866.8" y="1487.9"/><use href="#ci" x="868.4" y="1487.9"/><use href="#ci" x="870.0" y="1487.9"/><use href="#ci" x="871.6" y="1487.8"/><use href="#ci" x="873.2" y="1487.7"/><use href="#ci" x="874.8" y="1487.7"/><use href="#ci" x="876.4" y="1487.6"/><use href="#ci" x="878.0" y="1487.5"/><use href="#ci" x="879.6" y="1487.5"/><use href="#ci" x="881.2" y="1487.4"/><use href="#ci" x="882.8" y="1487.3"/><use href="#ci" x="884.4" y="1487.2"/><use href="#ci" x="886.0" y="1487.1"/><use href="#ci" x="887.6" y="1487.0"/><use href="#ci" x="889.2" y="1486.9"/><use href="#ci" x="890.8" y="1486.8"/><use href="#ci" x="892.4" y="1486.6"/><use href="#ci" x="894.0" y="1486.5"/><use href="#ci" x="895.6" y="1486.4"/><use href="#ci" x="897.2" y="1486.3"/><use href="#ci" x="898.8" y="1486.1"/><use href="#ci" x="900.4" y="1486.0"/><use href="#ci" x="902.0" y="1485.9"/><use href="#ci" x="903.6" y="1485.7"/><use href="#ci" x="905.2" y="1485.6"/><use href="#ci" x="906.8" y="1485.5"/><use href="#ci" x="908.4" y="1485.3"/><use href="#ci" x="910.0" y="1485.2"/><use href="#ci" x="911.6" y="1485.0"/></g>
<g><use href="#up" x="134.0" y="1469.0"/><use href="#up" x="135.6" y="1472.6"/><use href="#up" x="137.2" y="1474.5"/><use href="#up" x="138.8" y="1475.8"/><use href="#up" x="140.4" y="1478.2"/><use href="#up" x="142.0" y="1478.3"/><use href="#up" x="143.6" y="1480.0"/><use href="#up" x="145.2" y="1481.4"/><use href="#up" x="146.8" y="1477.5"/><use href="#up" x="148.4" y="1475.9"/><use href="#up" x="150.0" y="1475.8"/><use href="#up" x="151.6" y="1473.9"/><use href="#up" x="153.2" y="1471.8"/><use href="#up" x="154.8" y="1468.8"/><use href="#up" x="156.4" y="1469.0"/><use href="#up" x="158.0" y="1469.3"/><use href="#up" x="159.6" y="1465.4"/><use href="#up" x="161.2" y="1465.9"/><use href="#up" x="162.8" y="1462.9"/><use href="#up" x="164.4" y="1463.2"/><use href="#up" x="166.0" y="1461.8"/><use href="#up" x="167.6" y="1463.9"/><use href="#up" x="169.2" y="1462.1"/><use href="#up" x="170.8" y="1464.5"/><use href="#up" x="172.4" y="1464.6"/><use href="#up" x="174.0" y="1464.7"/><use href="#up" x="175.6" y="1461.9"/><use href="#up" x="177.2" y="1465.6"/><use href="#up" x="178.8" y="1467.2"/><use href="#up" x="180.4" y="1468.2"/><use href="#up" x="182.0" y="1466.4"/><use href="#up" x="183.6" y="1468.5"/><use href="#up" x="185.2" y="1468.2"/><use href="#up" x="186.8" y="1468.9"/><use href="#up" x="188.4" y="1472.2"/><use href="#up" x="190.0" y="1469.9"/><use href="#up" x="191.6" y="1471.4"/><use href="#up" x="193.2" y="1473.1"/><use href="#up" x="194.8" y="1471.1"/><use href="#up" x="196.4" y="1471.8"/><use href="#up" x="198.0" y="1472.0"/><use href="#up" x="199.6" y="1471.6"/><use href="#up" x="201.2" y="1469.2"/><use href="#up" x="202.8" y="1470.6"/><use href="#up" x="204.4" y="1472.0"/><use href="#up" x="206.0" y="1467.2"/><use href="#up" x="207.6" y="1470.5"/><use href="#up" x="209.2" y="1469.2"/><use href="#up" x="210.8" y="1468.3"/><use href="#up" x="212.4" y="1473.0"/><use href="#up" x="214.0" y="1472.3"/><use href="#up" x="215.6" y="1470.7"/><use href="#up" x="217.2" y="1474.1"/><use href="#up" x="218.8" y="1476.1"/><use href="#up" x="220.4" y="1476.0"/><use href="#up" x="222.0" y="1477.9"/><use href="#up" x="223.6" y="1476.8"/><use href="#up" x="225.2" y="1477.4"/><use href="#up" x="226.8" y="1477.5"/><use href="#up" x="228.4" y="1473.0"/><use href="#up" x="230.0" y="1472.7"/><use href="#up" x="231.6" y="1470.0"/><use href="#up" x="233.2" y="1469.3"/><use href="#up" x="234.8" y="1465.8"/><use href="#up" x="236.4" y="1465.4"/><use href="#up" x="238.0" y="1464.6"/><use href="#up" x="239.6" y="1464.8"/><use href="#up" x="241.2" y="1463.8"/><use href="#up" x="242.8" y="1459.2"/><use href="#up" x="244.4" y="1459.8"/><use href="#up" x="246.0" y="1462.4"/><use href="#up" x="247.6" y="1459.2"/><use href="#up" x="249.2" y="1462.5"/><use href="#up" x="250.8" y="1464.3"/><use href="#up" x="252.4" y="1467.7"/><use href="#up" x="254.0" y="1468.1"/><use href="#up" x="255.6" y="1467.7"/><use href="#up" x="257.2" y="1468.4"/><use href="#up" x="258.8" y="1469.2"/><use href="#up" x="260.4" y="1472.5"/><use href="#up" x="262.0" y="1470.2"/><use href="#up" x="263.6" y="1470.9"/><use href="#up" x="265.2" y="1472.2"/><use href="#up" x="266.8" y="1471.8"/><use href="#up" x="268.4" y="1471.7"/><use href="#up" x="270.0" y="1469.9"/><use href="#up" x="271.6" y="1470.9"/><use href="#up" x="273.2" y="1469.2"/><use href="#up" x="274.8" y="1470.4"/><use href="#up" x="276.4" y="1468.3"/><use href="#up" x="278.0" y="1466.0"/><use href="#up" x="279.6" y="1465.4"/><use href="#up" x="281.2" y="1461.7"/><use href="#up" x="282.8" y="1461.4"/><use href="#up" x="284.4" y="1457.2"/><use href="#up" x="286.0" y="1455.4"/><use href="#up" x="287.6" y="1450.1"/><use href="#up" x="289.2" y="1450.3"/><use href="#up" x="290.8" y="1445.1"/><use href="#up" x="292.4" y="1442.6"/><use href="#up" x="294.0" y="1443.2"/><use href="#up" x="295.6" y="1440.3"/><use href="#up" x="297.2" y="1440.0"/><use href="#up" x="298.8" y="1441.3"/><use href="#up" x="300.4" y="1434.8"/><use href="#up" x="302.0" y="1433.4"/><use href="#up" x="303.6" y="1432.9"/><use href="#up" x="305.2" y="1431.7"/><use href="#up" x="306.8" y="1429.1"/><use href="#up" x="308.4" y="1427.5"/><use href="#up" x="310.0" y="1427.3"/><use href="#up" x="311.6" y="1425.5"/><use href="#up" x="313.2" y="1421.7"/><use href="#up" x="314.8" y="1421.6"/><use href="#up" x="316.4" y="1420.3"/><use href="#up" x="318.0" y="1417.1"/><use href="#up" x="319.6" y="1417.6"/><use href="#up" x="321.2" y="1414.4"/><use href="#up" x="322.8" y="1415.6"/><use href="#up" x="324.4" y="1413.0"/><use href="#up" x="326.0" y="1411.4"/><use href="#up" x="327.6" y="1409.1"/><use href="#up" x="329.2" y="1408.5"/><use href="#up" x="330.8" y="1404.5"/><use href="#up" x="332.4" y="1404.7"/><use href="#up" x="334.0" y="1405.8"/><use href="#up" x="335.6" y="1401.0"/><use href="#up" x="337.2" y="1404.4"/><use href="#up" x="338.8" y="1399.5"/><use href="#up" x="340.4" y="1402.2"/><use href="#up" x="342.0" y="1398.8"/><use href="#up" x="343.6" y="1400.2"/><use href="#up" x="345.2" y="1398.1"/><use href="#up" x="346.8" y="1394.6"/><use href="#up" x="348.4" y="1397.7"/><use href="#up" x="350.0" y="1397.0"/><use href="#up" x="351.6" y="1393.7"/><use href="#up" x="353.2" y="1392.6"/><use href="#up" x="354.8" y="1392.0"/><use href="#up" x="356.4" y="1390.1"/><use href="#up" x="358.0" y="1392.7"/><use href="#up" x="359.6" y="1389.7"/><use href="#up" x="361.2" y="1390.0"/><use href="#up" x="362.8" y="1388.4"/><use href="#up" x="364.4" y="1388.2"/><use href="#up" x="366.0" y="1386.7"/><use href="#up" x="367.6" y="1390.0"/><use href="#up" x="369.2" y="1387.4"/><use href="#up" x="370.8" y="1388.4"/><use href="#up" x="372.4" y="1386.3"/><use href="#up" x="374.0" y="1384.3"/><use href="#up" x="375.6" y="1383.2"/><use href="#up" x="377.2" y="1380.8"/><use href="#up" x="378.8" y="1379.8"/><use href="#up" x="380.4" y="1377.9"/><use href="#up" x="382.0" y="1377.6"/><use href="#up" x="383.6" y="1377.3"/><use href="#up" x="385.2" y="1381.0"/><use href="#up" x="386.8" y="1388.1"/><use href="#up" x="388.4" y="1387.7"/><use href="#up" x="390.0" y="1389.9"/><use href="#up" x="391.6" y="1395.2"/><use href="#up" x="393.2" y="1399.5"/><use href="#up" x="394.8" y="1396.5"/><use href="#up" x="396.4" y="1398.2"/><use href="#up" x="398.0" y="1397.0"/><use href="#up" x="399.6" y="1394.5"/><use href="#up" x="401.2" y="1397.5"/><use href="#up" x="402.8" y="1395.7"/><use href="#up" x="404.4" y="1395.4"/><use href="#up" x="406.0" y="1393.4"/><use href="#up" x="407.6" y="1390.9"/><use href="#up" x="409.2" y="1378.0"/><use href="#up" x="410.8" y="1368.8"/><use href="#up" x="412.4" y="1357.6"/><use href="#up" x="414.0" y="1348.2"/><use href="#up" x="415.6" y="1344.4"/><use href="#up" x="417.2" y="1327.7"/><use href="#up" x="418.8" y="1312.6"/><use href="#up" x="420.4" y="1271.7"/><use href="#up" x="422.0" y="1245.2"/><use href="#up" x="423.6" y="1240.8"/><use href="#up" x="425.2" y="1235.8"/><use href="#up" x="426.8" y="1197.4"/><use href="#up" x="428.4" y="1184.2"/><use href="#up" x="430.0" y="1158.6"/><use href="#up" x="431.6" y="1090.6"/><use href="#up" x="433.2" y="1009.3"/><use href="#up" x="434.8" y="968.3"/><use href="#up" x="436.4" y="933.0"/><use href="#up" x="438.0" y="912.5"/><use href="#up" x="439.6" y="919.2"/><use href="#up" x="441.2" y="933.1"/><use href="#up" x="442.8" y="946.6"/><use href="#up" x="444.4" y="965.1"/><use href="#up" x="446.0" y="983.0"/><use href="#up" x="447.6" y="1033.0"/><use href="#up" x="449.2" y="1105.1"/><use href="#up" x="450.8" y="1133.1"/><use href="#up" x="452.4" y="1179.5"/><use href="#up" x="454.0" y="1198.1"/><use href="#up" x="455.6" y="1226.6"/><use href="#up" x="457.2" y="1240.9"/><use href="#up" x="458.8" y="1252.0"/><use href="#up" x="460.4" y="1262.9"/><use href="#up" x="462.0" y="1272.2"/><use href="#up" x="463.6" y="1283.8"/><use href="#up" x="465.2" y="1299.3"/><use href="#up" x="466.8" y="1316.4"/><use href="#up" x="468.4" y="1326.9"/><use href="#up" x="470.0" y="1342.3"/><use href="#up" x="471.6" y="1355.3"/><use href="#up" x="473.2" y="1361.1"/><use href="#up" x="474.8" y="1369.1"/><use href="#up" x="476.4" y="1380.8"/><use href="#up" x="478.0" y="1388.1"/><use href="#up" x="479.6" y="1394.7"/><use href="#up" x="481.2" y="1401.8"/><use href="#up" x="482.8" y="1407.0"/><use href="#up" x="484.4" y="1412.6"/><use href="#up" x="486.0" y="1421.0"/><use href="#up" x="487.6" y="1425.7"/><use href="#up" x="489.2" y="1430.6"/><use href="#up" x="490.8" y="1439.4"/><use href="#up" x="492.4" y="1443.4"/><use href="#up" x="494.0" y="1448.0"/><use href="#up" x="495.6" y="1449.4"/><use href="#up" x="497.2" y="1453.0"/><use href="#up" x="498.8" y="1455.0"/><use href="#up" x="500.4" y="1457.1"/><use href="#up" x="502.0" y="1460.3"/><use href="#up" x="503.6" y="1460.1"/><use href="#up" x="505.2" y="1462.4"/><use href="#up" x="506.8" y="1462.7"/><use href="#up" x="508.4" y="1465.6"/><use href="#up" x="510.0" y="1460.7"/><use href="#up" x="511.6" y="1464.4"/><use href="#up" x="513.2" y="1463.2"/><use href="#up" x="514.8" y="1463.5"/><use href="#up" x="516.4" y="1461.5"/><use href="#up" x="518.0" y="1463.1"/><use href="#up" x="519.6" y="1465.0"/><use href="#up" x="521.2" y="1463.8"/><use href="#up" x="522.8" y="1464.1"/><use href="#up" x="524.4" y="1463.6"/><use href="#up" x="526.0" y="1465.7"/><use href="#up" x="527.6" y="1464.0"/><use href="#up" x="529.2" y="1460.7"/><use href="#up" x="530.8" y="1463.0"/><use href="#up" x="532.4" y="1461.0"/><use href="#up" x="534.0" y="1459.1"/><use href="#up" x="535.6" y="1463.2"/><use href="#up" x="537.2" y="1466.0"/><use href="#up" x="538.8" y="1464.1"/><use href="#up" x="540.4" y="1462.2"/><use href="#up" x="542.0" y="1462.6"/><use href="#up" x="543.6" y="1466.1"/><use href="#up" x="545.2" y="1465.8"/><use href="#up" x="546.8" y="1467.4"/><use href="#up" x="548.4" y="1469.3"/><use href="#up" x="550.0" y="1471.9"/><use href="#up" x="551.6" y="1475.5"/><use href="#up" x="553.2" y="1477.5"/><use href="#up" x="554.8" y="1479.2"/><use href="#up" x="556.4" y="1479.2"/><use href="#up" x="558.0" y="1482.8"/><use href="#up" x="559.6" y="1481.6"/><use href="#up" x="561.2" y="1484.3"/><use href="#up" x="562.8" y="1480.4"/><use href="#up" x="564.4" y="1481.5"/><use href="#up" x="566.0" y="1480.9"/><use href="#up" x="567.6" y="1478.0"/><use href="#up" x="569.2" y="1481.5"/><use href="#up" x="570.8" y="1480.0"/><use href="#up" x="572.4" y="1475.9"/><use href="#up" x="574.0" y="1476.4"/><use href="#up" x="575.6" y="1474.6"/><use href="#up" x="577.2" y="1468.8"/><use href="#up" x="578.8" y="1472.0"/><use href="#up" x="580.4" y="1470.4"/><use href="#up" x="582.0" y="1469.6"/><use href="#up" x="583.6" y="1466.9"/><use href="#up" x="585.2" y="1467.2"/><use href="#up" x="586.8" y="1466.3"/><use href="#up" x="588.4" y="1467.4"/><use href="#up" x="590.0" y="1465.1"/><use href="#up" x="591.6" y="1463.6"/><use href="#up" x="593.2" y="1464.9"/><use href="#up" x="594.8" y="1460.8"/><use href="#up" x="596.4" y="1460.1"/><use href="#up" x="598.0" y="1457.0"/><use href="#up" x="599.6" y="1461.1"/><use href="#up" x="601.2" y="1459.3"/><use href="#up" x="602.8" y="1458.4"/><use href="#up" x="604.4" y="1457.1"/><use href="#up" x="606.0" y="1455.5"/><use href="#up" x="607.6" y="1454.9"/><use href="#up" x="609.2" y="1453.4"/><use href="#up" x="610.8" y="1452.7"/><use href="#up" x="612.4" y="1452.4"/><use href="#up" x="614.0" y="1453.8"/><use href="#up" x="615.6" y="1451.6"/><use href="#up" x="617.2" y="1449.9"/><use href="#up" x="618.8" y="1448.3"/><use href="#up" x="620.4" y="1447.4"/><use href="#up" x="622.0" y="1449.9"/><use href="#up" x="623.6" y="1447.4"/><use href="#up" x="625.2" y="1445.6"/><use href="#up" x="626.8" y="1443.8"/><use href="#up" x="628.4" y="1441.2"/><use href="#up" x="630.0" y="1441.3"/><use href="#up" x="631.6" y="1441.2"/><use href="#up" x="633.2" y="1437.9"/><use href="#up" x="634.8" y="1436.8"/><use href="#up" x="636.4" y="1435.6"/><use href="#up" x="638.0" y="1435.2"/><use href="#up" x="639.6" y="1432.0"/><use href="#up" x="641.2" y="1433.7"/><use href="#up" x="642.8" y="1432.9"/><use href="#up" x="644.4" y="1436.4"/><use href="#up" x="646.0" y="1435.4"/><use href="#up" x="647.6" y="1439.3"/><use href="#up" x="649.2" y="1442.8"/><use href="#up" x="650.8" y="1442.4"/><use href="#up" x="652.4" y="1444.2"/><use href="#up" x="654.0" y="1447.5"/><use href="#up" x="655.6" y="1449.0"/><use href="#up" x="657.2" y="1449.5"/><use href="#up" x="658.8" y="1453.7"/><use href="#up" x="660.4" y="1457.6"/><use href="#up" x="662.0" y="1454.7"/><use href="#up" x="663.6" y="1454.4"/><use href="#up" x="665.2" y="1452.4"/><use href="#up" x="666.8" y="1453.3"/><use href="#up" x="668.4" y="1449.6"/><use href="#up" x="670.0" y="1448.4"/><use href="#up" x="671.6" y="1450.5"/><use href="#up" x="673.2" y="1446.0"/><use href="#up" x="674.8" y="1448.1"/><use href="#up" x="676.4" y="1447.9"/><use href="#up" x="678.0" y="1445.0"/><use href="#up" x="679.6" y="1444.6"/><use href="#up" x="681.2" y="1445.8"/><use href="#up" x="682.8" y="1441.8"/><use href="#up" x="684.4" y="1440.5"/><use href="#up" x="686.0" y="1438.8"/><use href="#up" x="687.6" y="1440.5"/><use href="#up" x="689.2" y="1442.5"/><use href="#up" x="690.8" y="1441.8"/><use href="#up" x="692.4" y="1439.2"/><use href="#up" x="694.0" y="1439.7"/><use href="#up" x="695.6" y="1440.7"/><use href="#up" x="697.2" y="1442.4"/><use href="#up" x="698.8" y="1442.3"/><use href="#up" x="700.4" y="1443.5"/><use href="#up" x="702.0" y="1444.2"/><use href="#up" x="703.6" y="1443.9"/><use href="#up" x="705.2" y="1444.8"/><use href="#up" x="706.8" y="1445.8"/><use href="#up" x="708.4" y="1446.1"/><use href="#up" x="710.0" y="1447.6"/><use href="#up" x="711.6" y="1450.4"/><use href="#up" x="713.2" y="1449.1"/><use href="#up" x="714.8" y="1448.9"/><use href="#up" x="716.4" y="1446.7"/><use href="#up" x="718.0" y="1450.3"/><use href="#up" x="719.6" y="1447.2"/><use href="#up" x="721.2" y="1448.3"/><use href="#up" x="722.8" y="1452.1"/><use href="#up" x="724.4" y="1452.3"/><use href="#up" x="726.0" y="1451.5"/><use href="#up" x="727.6" y="1449.7"/><use href="#up" x="729.2" y="1452.4"/><use href="#up" x="730.8" y="1453.0"/><use href="#up" x="732.4" y="1456.3"/><use href="#up" x="734.0" y="1460.2"/><use href="#up" x="735.6" y="1458.8"/><use href="#up" x="737.2" y="1459.0"/><use href="#up" x="738.8" y="1460.1"/><use href="#up" x="740.4" y="1463.4"/><use href="#up" x="742.0" y="1464.9"/><use href="#up" x="743.6" y="1465.2"/><use href="#up" x="745.2" y="1469.1"/><use href="#up" x="746.8" y="1468.9"/><use href="#up" x="748.4" y="1473.8"/><use href="#up" x="750.0" y="1474.7"/><use href="#up" x="751.6" y="1475.4"/><use href="#up" x="753.2" y="1473.8"/><use href="#up" x="754.8" y="1475.8"/><use href="#up" x="756.4" y="1475.3"/><use href="#up" x="758.0" y="1475.3"/><use href="#up" x="759.6" y="1475.5"/><use href="#up" x="761.2" y="1474.0"/><use href="#up" x="762.8" y="1473.5"/><use href="#up" x="764.4" y="1476.4"/><use href="#up" x="766.0" y="1474.4"/><use href="#up" x="767.6" y="1474.3"/><use href="#up" x="769.2" y="1474.7"/><use href="#up" x="770.8" y="1469.8"/><use href="#up" x="772.4" y="1470.5"/><use href="#up" x="774.0" y="1471.1"/><use href="#up" x="775.6" y="1470.8"/><use href="#up" x="777.2" y="1469.0"/><use href="#up" x="778.8" y="1470.6"/><use href="#up" x="780.4" y="1469.0"/><use href="#up" x="782.0" y="1466.4"/><use href="#up" x="783.6" y="1466.4"/><use href="#up" x="785.2" y="1468.6"/><use href="#up" x="786.8" y="1467.7"/><use href="#up" x="788.4" y="1463.9"/><use href="#up" x="790.0" y="1468.6"/><use href="#up" x="791.6" y="1467.4"/><use href="#up" x="793.2" y="1468.6"/><use href="#up" x="794.8" y="1466.5"/><use href="#up" x="796.4" y="1467.2"/><use href="#up" x="798.0" y="1466.7"/><use href="#up" x="799.6" y="1472.9"/><use href="#up" x="801.2" y="1469.5"/><use href="#up" x="802.8" y="1472.6"/><use href="#up" x="804.4" y="1469.4"/><use href="#up" x="806.0" y="1470.4"/><use href="#up" x="807.6" y="1466.9"/><use href="#up" x="809.2" y="1467.8"/><use href="#up" x="810.8" y="1468.6"/><use href="#up" x="812.4" y="1463.8"/><use href="#up" x="814.0" y="1465.9"/><use href="#up" x="815.6" y="1463.5"/><use href="#up" x="817.2" y="1460.4"/><use href="#up" x="818.8" y="1460.6"/><use href="#up" x="820.4" y="1460.5"/><use href="#up" x="822.0" y="1461.3"/><use href="#up" x="823.6" y="1460.8"/><use href="#up" x="825.2" y="1460.7"/><use href="#up" x="826.8" y="1462.0"/><use href="#up" x="828.4" y="1461.4"/><use href="#up" x="830.0" y="1461.5"/><use href="#up" x="831.6" y="1464.0"/><use href="#up" x="833.2" y="1465.9"/><use href="#up" x="834.8" y="1462.8"/><use href="#up" x="836.4" y="1465.5"/><use href="#up" x="838.0" y="1464.8"/><use href="#up" x="839.6" y="1464.6"/><use href="#up" x="841.2" y="1467.5"/><use href="#up" x="842.8" y="1465.6"/><use href="#up" x="844.4" y="1468.7"/><use href="#up" x="846.0" y="1465.5"/><use href="#up" x="847.6" y="1467.3"/><use href="#up" x="849.2" y="1466.5"/><use href="#up" x="850.8" y="1465.8"/><use href="#up" x="852.4" y="1467.9"/><use href="#up" x="854.0" y="1466.8"/><use href="#up" x="855.6" y="1467.8"/><use href="#up" x="857.2" y="1466.2"/><use href="#up" x="858.8" y="1463.6"/><use href="#up" x="860.4" y="1463.8"/><use href="#up" x="862.0" y="1462.5"/><use href="#up" x="863.6" y="1462.2"/><use href="#up" x="865.2" y="1457.7"/><use href="#up" x="866.8" y="1457.4"/><use href="#up" x="868.4" y="1453.5"/><use href="#up" x="870.0" y="1455.8"/><use href="#up" x="871.6" y="1452.4"/><use href="#up" x="873.2" y="1450.9"/><use href="#up" x="874.8" y="1453.6"/><use href="#up" x="876.4" y="1455.8"/><use href="#up" x="878.0" y="1452.6"/><use href="#up" x="879.6" y="1454.0"/><use href="#up" x="881.2" y="1455.3"/><use href="#up" x="882.8" y="1455.3"/><use href="#up" x="884.4" y="1457.9"/><use href="#up" x="886.0" y="1456.1"/><use href="#up" x="887.6" y="1455.6"/><use href="#up" x="889.2" y="1456.5"/><use href="#up" x="890.8" y="1453.4"/><use href="#up" x="892.4" y="1454.0"/><use href="#up" x="894.0" y="1450.9"/><use href="#up" x="895.6" y="1450.0"/><use href="#up" x="897.2" y="1449.0"/><use href="#up" x="898.8" y="1455.0"/><use href="#up" x="900.4" y="1452.6"/><use href="#up" x="902.0" y="1454.4"/><use href="#up" x="903.6" y="1455.1"/><use href="#up" x="905.2" y="1456.5"/><use href="#up" x="906.8" y="1457.1"/><use href="#up" x="908.4" y="1460.3"/><use href="#up" x="910.0" y="1456.2"/><use href="#up" x="911.6" y="1455.6"/></g>
<g><use href="#dn" x="136.0" y="1490.0"/><use href="#dn" x="137.6" y="1490.8"/><use href="#dn" x="139.2" y="1491.5"/><use href="#dn" x="140.8" y="1492.2"/><use href="#dn" x="142.4" y="1492.7"/><use href="#dn" x="144.0" y="1493.2"/><use href="#dn" x="145.6" y="1493.6"/><use href="#dn" x="147.2" y="1493.8"/><use href="#dn" x="148.8" y="1494.0"/><use href="#dn" x="150.4" y="1494.0"/><use href="#dn" x="152.0" y="1493.9"/><use href="#dn" x="153.6" y="1493.6"/><use href="#dn" x="155.2" y="1493.2"/><use href="#dn" x="156.8" y="1492.7"/><use href="#dn" x="158.4" y="1492.2"/><use href="#dn" x="160.0" y="1491.8"/><use href="#dn" x="161.6" y="1491.4"/><use href="#dn" x="163.2" y="1491.1"/><use href="#dn" x="164.8" y="1491.0"/><use href="#dn" x="166.4" y="1491.1"/><use href="#dn" x="168.0" y="1491.4"/><use href="#dn" x="169.6" y="1491.9"/><use href="#dn" x="171.2" y="1492.5"/><use href="#dn" x="172.8" y="1493.1"/><use href="#dn" x="174.4" y="1493.7"/><use href="#dn" x="176.0" y="1494.3"/><use href="#dn" x="177.6" y="1494.7"/><use href="#dn" x="179.2" y="1495.0"/><use href="#dn" x="180.8" y="1495.0"/><use href="#dn" x="182.4" y="1494.7"/><use href="#dn" x="184.0" y="1494.1"/><use href="#dn" x="185.6" y="1493.4"/><use href="#dn" x="187.2" y="1492.6"/><use href="#dn" x="188.8" y="1491.9"/><use href="#dn" x="190.4" y="1491.1"/><use href="#dn" x="192.0" y="1490.5"/><use href="#dn" x="193.6" y="1490.1"/><use href="#dn" x="195.2" y="1490.0"/><use href="#dn" x="196.8" y="1490.2"/><use href="#dn" x="198.4" y="1490.5"/><use href="#dn" x="200.0" y="1491.0"/><use href="#dn" x="201.6" y="1491.6"/><use href="#dn" x="203.2" y="1492.3"/><use href="#dn" x="204.8" y="1492.9"/><use href="#dn" x="206.4" y="1493.4"/><use href="#dn" x="208.0" y="1493.8"/><use href="#dn" x="209.6" y="1494.0"/><use href="#dn" x="211.2" y="1493.9"/><use href="#dn" x="212.8" y="1493.6"/><use href="#dn" x="214.4" y="1493.2"/><use href="#dn" x="216.0" y="1492.6"/><use href="#dn" x="217.6" y="1492.0"/><use href="#dn" x="219.2" y="1491.3"/><use href="#dn" x="220.8" y="1490.8"/><use href="#dn" x="222.4" y="1490.3"/><use href="#dn" x="224.0" y="1490.1"/><use href="#dn" x="225.6" y="1490.0"/><use href="#dn" x="227.2" y="1490.3"/><use href="#dn" x="228.8" y="1490.8"/><use href="#dn" x="230.4" y="1491.5"/><use href="#dn" x="232.0" y="1492.3"/><use href="#dn" x="233.6" y="1493.0"/><use href="#dn" x="235.2" y="1493.8"/><use href="#dn" x="236.8" y="1494.4"/><use href="#dn" x="238.4" y="1494.8"/><use href="#dn" x="240.0" y="1495.0"/><use href="#dn" x="241.6" y="1494.9"/><use href="#dn" x="243.2" y="1494.6"/><use href="#dn" x="244.8" y="1494.1"/><use href="#dn" x="246.4" y="1493.5"/><use href="#dn" x="248.0" y="1492.9"/><use href="#dn" x="249.6" y="1492.2"/><use href="#dn" x="251.2" y="1491.5"/><use href="#dn" x="252.8" y="1490.8"/><use href="#dn" x="254.4" y="1490.2"/><use href="#dn" x="256.0" y="1489.7"/><use href="#dn" x="257.6" y="1489.2"/><use href="#dn" x="259.2" y="1488.8"/><use href="#dn" x="260.8" y="1488.4"/><use href="#dn" x="262.4" y="1488.0"/><use href="#dn" x="264.0" y="1487.5"/><use href="#dn" x="265.6" y="1487.0"/><use href="#dn" x="267.2" y="1486.3"/><use href="#dn" x="268.8" y="1485.6"/><use href="#dn" x="270.4" y="1484.7"/><use href="#dn" x="272.0" y="1483.7"/><use href="#dn" x="273.6" y="1482.5"/><use href="#dn" x="275.2" y="1481.1"/><use href="#dn" x="276.8" y="1479.6"/><use href="#dn" x="278.4" y="1477.9"/><use href="#dn" x="280.0" y="1476.0"/><use href="#dn" x="281.6" y="1473.8"/><use href="#dn" x="283.2" y="1471.3"/><use href="#dn" x="284.8" y="1468.2"/><use href="#dn" x="286.4" y="1464.7"/><use href="#dn" x="288.0" y="1460.7"/><use href="#dn" x="289.6" y="1456.2"/><use href="#dn" x="291.2" y="1450.5"/><use href="#dn" x="292.8" y="1442.1"/><use href="#dn" x="294.4" y="1432.2"/><use href="#dn" x="296.0" y="1421.7"/><use href="#dn" x="297.6" y="1411.7"/><use href="#dn" x="299.2" y="1403.3"/><use href="#dn" x="300.8" y="1397.2"/><use href="#dn" x="302.4" y="1392.3"/><use href="#dn" x="304.0" y="1387.9"/><use href="#dn" x="305.6" y="1383.9"/><use href="#dn" x="307.2" y="1379.9"/><use href="#dn" x="308.8" y="1375.6"/><use href="#dn" x="310.4" y="1371.2"/><use href="#dn" x="312.0" y="1366.7"/><use href="#dn" x="313.6" y="1362.2"/><use href="#dn" x="315.2" y="1357.7"/><use href="#dn" x="316.8" y="1353.1"/><use href="#dn" x="318.4" y="1348.5"/><use href="#dn" x="320.0" y="1343.9"/><use href="#dn" x="321.6" y="1339.2"/><use href="#dn" x="323.2" y="1334.4"/><use href="#dn" x="324.8" y="1329.5"/><use href="#dn" x="326.4" y="1324.4"/><use href="#dn" x="328.0" y="1319.0"/><use href="#dn" x="329.6" y="1313.4"/><use href="#dn" x="331.2" y="1307.7"/><use href="#dn" x="332.8" y="1302.1"/><use href="#dn" x="334.4" y="1296.6"/><use href="#dn" x="336.0" y="1291.0"/><use href="#dn" x="337.6" y="1285.5"/><use href="#dn" x="339.2" y="1280.3"/><use href="#dn" x="340.8" y="1275.7"/><use href="#dn" x="342.4" y="1270.9"/><use href="#dn" x="344.0" y="1266.8"/><use href="#dn" x="345.6" y="1264.2"/><use href="#dn" x="347.2" y="1263.6"/><use href="#dn" x="348.8" y="1263.0"/><use href="#dn" x="350.4" y="1262.6"/><use href="#dn" x="352.0" y="1262.3"/><use href="#dn" x="353.6" y="1262.1"/><use href="#dn" x="355.2" y="1262.0"/><use href="#dn" x="356.8" y="1262.0"/><use href="#dn" x="358.4" y="1262.1"/><use href="#dn" x="360.0" y="1262.2"/><use href="#dn" x="361.6" y="1262.4"/><use href="#dn" x="363.2" y="1262.7"/><use href="#dn" x="364.8" y="1263.0"/><use href="#dn" x="366.4" y="1263.7"/><use href="#dn" x="368.0" y="1265.0"/><use href="#dn" x="369.6" y="1266.7"/><use href="#dn" x="371.2" y="1268.4"/><use href="#dn" x="372.8" y="1270.1"/><use href="#dn" x="374.4" y="1271.4"/><use href="#dn" x="376.0" y="1272.6"/><use href="#dn" x="377.6" y="1273.8"/><use href="#dn" x="379.2" y="1275.0"/><use href="#dn" x="380.8" y="1276.2"/><use href="#dn" x="382.4" y="1277.5"/><use href="#dn" x="384.0" y="1278.9"/><use href="#dn" x="385.6" y="1280.4"/><use href="#dn" x="387.2" y="1282.2"/><use href="#dn" x="388.8" y="1284.2"/><use href="#dn" x="390.4" y="1286.4"/><use href="#dn" x="392.0" y="1288.6"/><use href="#dn" x="393.6" y="1290.9"/><use href="#dn" x="395.2" y="1293.1"/><use href="#dn" x="396.8" y="1295.8"/><use href="#dn" x="398.4" y="1298.7"/><use href="#dn" x="400.0" y="1300.0"/><use href="#dn" x="401.6" y="1298.7"/><use href="#dn" x="403.2" y="1295.3"/><use href="#dn" x="404.8" y="1290.6"/><use href="#dn" x="406.4" y="1282.5"/><use href="#dn" x="408.0" y="1270.0"/><use href="#dn" x="409.6" y="1254.3"/><use href="#dn" x="411.2" y="1244.3"/><use href="#dn" x="412.8" y="1235.6"/><use href="#dn" x="414.4" y="1214.0"/><use href="#dn" x="416.0" y="1189.1"/><use href="#dn" x="417.6" y="1157.6"/><use href="#dn" x="419.2" y="1116.2"/><use href="#dn" x="420.8" y="1052.5"/><use href="#dn" x="422.4" y="1018.0"/><use href="#dn" x="424.0" y="974.0"/><use href="#dn" x="425.6" y="932.1"/><use href="#dn" x="427.2" y="917.3"/><use href="#dn" x="428.8" y="912.9"/><use href="#dn" x="430.4" y="911.5"/><use href="#dn" x="432.0" y="911.0"/><use href="#dn" x="433.6" y="912.0"/><use href="#dn" x="435.2" y="914.4"/><use href="#dn" x="436.8" y="918.9"/><use href="#dn" x="438.4" y="930.8"/><use href="#dn" x="440.0" y="948.6"/><use href="#dn" x="441.6" y="969.4"/><use href="#dn" x="443.2" y="991.1"/><use href="#dn" x="444.8" y="1018.0"/><use href="#dn" x="446.4" y="1045.0"/><use href="#dn" x="448.0" y="1075.1"/><use href="#dn" x="449.6" y="1108.5"/><use href="#dn" x="451.2" y="1153.4"/><use href="#dn" x="452.8" y="1182.7"/><use href="#dn" x="454.4" y="1203.6"/><use href="#dn" x="456.0" y="1230.0"/><use href="#dn" x="457.6" y="1246.8"/><use href="#dn" x="459.2" y="1257.4"/><use href="#dn" x="460.8" y="1266.5"/><use href="#dn" x="462.4" y="1281.7"/><use href="#dn" x="464.0" y="1300.0"/><use href="#dn" x="465.6" y="1318.1"/><use href="#dn" x="467.2" y="1332.1"/><use href="#dn" x="468.8" y="1343.7"/><use href="#dn" x="470.4" y="1353.6"/><use href="#dn" x="472.0" y="1362.5"/><use href="#dn" x="473.6" y="1371.4"/><use href="#dn" x="475.2" y="1380.5"/><use href="#dn" x="476.8" y="1389.0"/><use href="#dn" x="478.4" y="1396.3"/><use href="#dn" x="480.0" y="1402.9"/><use href="#dn" x="481.6" y="1409.3"/><use href="#dn" x="483.2" y="1415.8"/><use href="#dn" x="484.8" y="1422.8"/><use href="#dn" x="486.4" y="1429.8"/><use href="#dn" x="488.0" y="1436.8"/><use href="#dn" x="489.6" y="1443.4"/><use href="#dn" x="491.2" y="1449.7"/><use href="#dn" x="492.8" y="1456.0"/><use href="#dn" x="494.4" y="1461.9"/><use href="#dn" x="496.0" y="1467.2"/><use href="#dn" x="497.6" y="1471.5"/><use href="#dn" x="499.2" y="1475.5"/><use href="#dn" x="500.8" y="1479.2"/><use href="#dn" x="502.4" y="1482.4"/><use href="#dn" x="504.0" y="1484.9"/><use href="#dn" x="505.6" y="1486.6"/><use href="#dn" x="507.2" y="1488.0"/><use href="#dn" x="508.8" y="1489.3"/><use href="#dn" x="510.4" y="1490.4"/><use href="#dn" x="512.0" y="1491.3"/><use href="#dn" x="513.6" y="1491.8"/><use href="#dn" x="515.2" y="1492.0"/><use href="#dn" x="516.8" y="1491.9"/><use href="#dn" x="518.4" y="1491.7"/><use href="#dn" x="520.0" y="1491.4"/><use href="#dn" x="521.6" y="1491.0"/><use href="#dn" x="523.2" y="1490.5"/><use href="#dn" x="524.8" y="1490.0"/><use href="#dn" x="526.4" y="1489.4"/><use href="#dn" x="528.0" y="1488.8"/><use href="#dn" x="529.6" y="1488.2"/><use href="#dn" x="531.2" y="1487.5"/><use href="#dn" x="532.8" y="1486.5"/><use href="#dn" x="534.4" y="1485.4"/><use href="#dn" x="536.0" y="1484.1"/><use href="#dn" x="537.6" y="1482.8"/><use href="#dn" x="539.2" y="1481.3"/><use href="#dn" x="540.8" y="1479.8"/><use href="#dn" x="542.4" y="1478.3"/><use href="#dn" x="544.0" y="1476.8"/><use href="#dn" x="545.6" y="1475.3"/><use href="#dn" x="547.2" y="1473.9"/><use href="#dn" x="548.8" y="1472.3"/><use href="#dn" x="550.4" y="1470.5"/><use href="#dn" x="552.0" y="1468.6"/><use href="#dn" x="553.6" y="1466.7"/><use href="#dn" x="555.2" y="1464.8"/><use href="#dn" x="556.8" y="1463.1"/><use href="#dn" x="558.4" y="1461.5"/><use href="#dn" x="560.0" y="1460.1"/><use href="#dn" x="561.6" y="1459.0"/><use href="#dn" x="563.2" y="1458.3"/><use href="#dn" x="564.8" y="1458.0"/><use href="#dn" x="566.4" y="1458.0"/><use href="#dn" x="568.0" y="1458.0"/><use href="#dn" x="569.6" y="1458.0"/><use href="#dn" x="571.2" y="1458.0"/><use href="#dn" x="572.8" y="1458.0"/><use href="#dn" x="574.4" y="1458.0"/><use href="#dn" x="576.0" y="1458.0"/><use href="#dn" x="577.6" y="1458.0"/><use href="#dn" x="579.2" y="1458.0"/><use href="#dn" x="580.8" y="1458.0"/><use href="#dn" x="582.4" y="1458.0"/><use href="#dn" x="584.0" y="1458.0"/><use href="#dn" x="585.6" y="1457.8"/><use href="#dn" x="587.2" y="1457.1"/><use href="#dn" x="588.8" y="1456.1"/><use href="#dn" x="590.4" y="1454.7"/><use href="#dn" x="592.0" y="1453.1"/><use href="#dn" x="593.6" y="1451.2"/><use href="#dn" x="595.2" y="1449.1"/><use href="#dn" x="596.8" y="1446.9"/><use href="#dn" x="598.4" y="1444.6"/><use href="#dn" x="600.0" y="1442.2"/><use href="#dn" x="601.6" y="1439.8"/><use href="#dn" x="603.2" y="1437.5"/><use href="#dn" x="604.8" y="1435.3"/><use href="#dn" x="606.4" y="1433.0"/><use href="#dn" x="608.0" y="1430.7"/><use href="#dn" x="609.6" y="1428.1"/><use href="#dn" x="611.2" y="1425.5"/><use href="#dn" x="612.8" y="1422.7"/><use href="#dn" x="614.4" y="1419.9"/><use href="#dn" x="616.0" y="1417.0"/><use href="#dn" x="617.6" y="1414.0"/><use href="#dn" x="619.2" y="1410.9"/><use href="#dn" x="620.8" y="1407.9"/><use href="#dn" x="622.4" y="1404.8"/><use href="#dn" x="624.0" y="1401.7"/><use href="#dn" x="625.6" y="1398.7"/><use href="#dn" x="627.2" y="1395.6"/><use href="#dn" x="628.8" y="1392.5"/><use href="#dn" x="630.4" y="1389.3"/><use href="#dn" x="632.0" y="1385.9"/><use href="#dn" x="633.6" y="1382.5"/><use href="#dn" x="635.2" y="1379.1"/><use href="#dn" x="636.8" y="1375.7"/><use href="#dn" x="638.4" y="1372.3"/><use href="#dn" x="640.0" y="1368.9"/><use href="#dn" x="641.6" y="1365.7"/><use href="#dn" x="643.2" y="1362.6"/><use href="#dn" x="644.8" y="1359.7"/><use href="#dn" x="646.4" y="1357.0"/><use href="#dn" x="648.0" y="1354.4"/><use href="#dn" x="649.6" y="1351.9"/><use href="#dn" x="651.2" y="1349.4"/><use href="#dn" x="652.8" y="1347.0"/><use href="#dn" x="654.4" y="1344.6"/><use href="#dn" x="656.0" y="1342.3"/><use href="#dn" x="657.6" y="1340.1"/><use href="#dn" x="659.2" y="1338.0"/><use href="#dn" x="660.8" y="1336.0"/><use href="#dn" x="662.4" y="1334.2"/><use href="#dn" x="664.0" y="1332.6"/><use href="#dn" x="665.6" y="1331.1"/><use href="#dn" x="667.2" y="1329.9"/><use href="#dn" x="668.8" y="1328.6"/><use href="#dn" x="670.4" y="1327.4"/><use href="#dn" x="672.0" y="1326.3"/><use href="#dn" x="673.6" y="1325.2"/><use href="#dn" x="675.2" y="1324.3"/><use href="#dn" x="676.8" y="1323.6"/><use href="#dn" x="678.4" y="1323.2"/><use href="#dn" x="680.0" y="1323.0"/><use href="#dn" x="681.6" y="1323.2"/><use href="#dn" x="683.2" y="1323.7"/><use href="#dn" x="684.8" y="1324.5"/><use href="#dn" x="686.4" y="1325.5"/><use href="#dn" x="688.0" y="1326.6"/><use href="#dn" x="689.6" y="1327.9"/><use href="#dn" x="691.2" y="1329.3"/><use href="#dn" x="692.8" y="1330.8"/><use href="#dn" x="694.4" y="1332.8"/><use href="#dn" x="696.0" y="1335.4"/><use href="#dn" x="697.6" y="1338.3"/><use href="#dn" x="699.2" y="1341.6"/><use href="#dn" x="700.8" y="1345.0"/><use href="#dn" x="702.4" y="1348.5"/><use href="#dn" x="704.0" y="1351.9"/><use href="#dn" x="705.6" y="1355.2"/><use href="#dn" x="707.2" y="1358.3"/><use href="#dn" x="708.8" y="1361.5"/><use href="#dn" x="710.4" y="1364.7"/><use href="#dn" x="712.0" y="1368.0"/><use href="#dn" x="713.6" y="1371.3"/><use href="#dn" x="715.2" y="1374.5"/><use href="#dn" x="716.8" y="1377.7"/><use href="#dn" x="718.4" y="1380.9"/><use href="#dn" x="720.0" y="1384.0"/><use href="#dn" x="721.6" y="1387.1"/><use href="#dn" x="723.2" y="1390.2"/><use href="#dn" x="724.8" y="1393.3"/><use href="#dn" x="726.4" y="1396.4"/><use href="#dn" x="728.0" y="1399.4"/><use href="#dn" x="729.6" y="1402.5"/><use href="#dn" x="731.2" y="1405.5"/><use href="#dn" x="732.8" y="1408.4"/><use href="#dn" x="734.4" y="1411.2"/><use href="#dn" x="736.0" y="1413.9"/><use href="#dn" x="737.6" y="1416.4"/><use href="#dn" x="739.2" y="1418.9"/><use href="#dn" x="740.8" y="1421.1"/><use href="#dn" x="742.4" y="1423.2"/><use href="#dn" x="744.0" y="1425.2"/><use href="#dn" x="745.6" y="1427.0"/><use href="#dn" x="747.2" y="1428.8"/><use href="#dn" x="748.8" y="1430.5"/><use href="#dn" x="750.4" y="1432.2"/><use href="#dn" x="752.0" y="1433.8"/><use href="#dn" x="753.6" y="1435.5"/><use href="#dn" x="755.2" y="1437.2"/><use href="#dn" x="756.8" y="1439.0"/><use href="#dn" x="758.4" y="1440.8"/><use href="#dn" x="760.0" y="1442.8"/><use href="#dn" x="761.6" y="1444.9"/><use href="#dn" x="763.2" y="1447.3"/><use href="#dn" x="764.8" y="1449.9"/><use href="#dn" x="766.4" y="1452.7"/><use href="#dn" x="768.0" y="1455.5"/><use href="#dn" x="769.6" y="1458.2"/><use href="#dn" x="771.2" y="1460.7"/><use href="#dn" x="772.8" y="1462.8"/><use href="#dn" x="774.4" y="1464.5"/><use href="#dn" x="776.0" y="1466.1"/><use href="#dn" x="777.6" y="1467.6"/><use href="#dn" x="779.2" y="1468.9"/><use href="#dn" x="780.8" y="1470.2"/><use href="#dn" x="782.4" y="1471.3"/><use href="#dn" x="784.0" y="1472.4"/><use href="#dn" x="785.6" y="1473.4"/><use href="#dn" x="787.2" y="1474.2"/><use href="#dn" x="788.8" y="1475.0"/><use href="#dn" x="790.4" y="1475.8"/><use href="#dn" x="792.0" y="1476.5"/><use href="#dn" x="793.6" y="1477.2"/><use href="#dn" x="795.2" y="1477.8"/><use href="#dn" x="796.8" y="1478.5"/><use href="#dn" x="798.4" y="1479.2"/><use href="#dn" x="800.0" y="1480.0"/><use href="#dn" x="801.6" y="1480.8"/><use href="#dn" x="803.2" y="1481.7"/><use href="#dn" x="804.8" y="1482.5"/><use href="#dn" x="806.4" y="1483.3"/><use href="#dn" x="808.0" y="1484.0"/><use href="#dn" x="809.6" y="1484.7"/><use href="#dn" x="811.2" y="1485.2"/><use href="#dn" x="812.8" y="1485.6"/><use href="#dn" x="814.4" y="1485.9"/><use href="#dn" x="816.0" y="1486.1"/><use href="#dn" x="817.6" y="1486.2"/><use href="#dn" x="819.2" y="1486.4"/><use href="#dn" x="820.8" y="1486.5"/><use href="#dn" x="822.4" y="1486.6"/><use href="#dn" x="824.0" y="1486.7"/><use href="#dn" x="825.6" y="1486.8"/><use href="#dn" x="827.2" y="1486.8"/><use href="#dn" x="828.8" y="1486.9"/><use href="#dn" x="830.4" y="1486.9"/><use href="#dn" x="832.0" y="1487.0"/><use href="#dn" x="833.6" y="1487.0"/><use href="#dn" x="835.2" y="1487.0"/><use href="#dn" x="836.8" y="1487.0"/><use href="#dn" x="838.4" y="1486.9"/><use href="#dn" x="840.0" y="1486.8"/><use href="#dn" x="841.6" y="1486.6"/><use href="#dn" x="843.2" y="1486.4"/><use href="#dn" x="844.8" y="1486.1"/><use href="#dn" x="846.4" y="1485.8"/><use href="#dn" x="848.0" y="1485.5"/><use href="#dn" x="849.6" y="1485.1"/><use href="#dn" x="851.2" y="1484.4"/><use href="#dn" x="852.8" y="1482.9"/><use href="#dn" x="854.4" y="1480.6"/><use href="#dn" x="856.0" y="1478.0"/><use href="#dn" x="857.6" y="1475.2"/><use href="#dn" x="859.2" y="1472.4"/><use href="#dn" x="860.8" y="1470.0"/><use href="#dn" x="862.4" y="1468.1"/><use href="#dn" x="864.0" y="1467.0"/><use href="#dn" x="865.6" y="1466.4"/><use href="#dn" x="867.2" y="1466.0"/><use href="#dn" x="868.8" y="1465.6"/><use href="#dn" x="870.4" y="1465.2"/><use href="#dn" x="872.0" y="1464.9"/><use href="#dn" x="873.6" y="1464.6"/><use href="#dn" x="875.2" y="1464.4"/><use href="#dn" x="876.8" y="1464.1"/><use href="#dn" x="878.4" y="1463.9"/><use href="#dn" x="880.0" y="1463.6"/><use href="#dn" x="881.6" y="1463.3"/><use href="#dn" x="883.2" y="1463.0"/><use href="#dn" x="884.8" y="1462.6"/><use href="#dn" x="886.4" y="1462.1"/><use href="#dn" x="888.0" y="1461.6"/><use href="#dn" x="889.6" y="1461.1"/><use href="#dn" x="891.2" y="1460.6"/><use href="#dn" x="892.8" y="1460.1"/><use href="#dn" x="894.4" y="1459.6"/><use href="#dn" x="896.0" y="1459.1"/><use href="#dn" x="897.6" y="1458.7"/><use href="#dn" x="899.2" y="1458.3"/><use href="#dn" x="900.8" y="1457.9"/><use href="#dn" x="902.4" y="1457.7"/><use href="#dn" x="904.0" y="1457.5"/><use href="#dn" x="905.6" y="1457.4"/><use href="#dn" x="907.2" y="1457.6"/><use href="#dn" x="908.8" y="1458.2"/><use href="#dn" x="910.4" y="1459.1"/><use href="#dn" x="912.0" y="1460.0"/></g>
<g><use href="#di" x="136.0" y="1489.0"/><use href="#di" x="137.6" y="1487.8"/><use href="#di" x="139.2" y="1486.7"/><use href="#di" x="140.8" y="1485.7"/><use href="#di" x="142.4" y="1484.7"/><use href="#di" x="144.0" y="1483.9"/><use href="#di" x="145.6" y="1483.2"/><use href="#di" x="147.2" y="1482.5"/><use href="#di" x="148.8" y="1481.9"/><use href="#di" x="150.4" y="1481.3"/><use href="#di" x="152.0" y="1480.8"/><use href="#di" x="153.6" y="1480.3"/><use href="#di" x="155.2" y="1480.1"/><use href="#di" x="156.8" y="1480.0"/><use href="#di" x="158.4" y="1480.1"/><use href="#di" x="160.0" y="1480.5"/><use href="#di" x="161.6" y="1480.9"/><use href="#di" x="163.2" y="1481.5"/><use href="#di" x="164.8" y="1482.1"/><use href="#di" x="166.4" y="1482.7"/><use href="#di" x="168.0" y="1483.3"/><use href="#di" x="169.6" y="1483.9"/><use href="#di" x="171.2" y="1484.5"/><use href="#di" x="172.8" y="1485.3"/><use href="#di" x="174.4" y="1486.1"/><use href="#di" x="176.0" y="1486.9"/><use href="#di" x="177.6" y="1487.6"/><use href="#di" x="179.2" y="1488.3"/><use href="#di" x="180.8" y="1488.7"/><use href="#di" x="182.4" y="1489.0"/><use href="#di" x="184.0" y="1488.9"/><use href="#di" x="185.6" y="1488.6"/><use href="#di" x="187.2" y="1488.1"/><use href="#di" x="188.8" y="1487.5"/><use href="#di" x="190.4" y="1486.7"/><use href="#di" x="192.0" y="1485.9"/><use href="#di" x="193.6" y="1485.1"/><use href="#di" x="195.2" y="1484.4"/><use href="#di" x="196.8" y="1483.8"/><use href="#di" x="198.4" y="1483.2"/><use href="#di" x="200.0" y="1482.6"/><use href="#di" x="201.6" y="1481.9"/><use href="#di" x="203.2" y="1481.3"/><use href="#di" x="204.8" y="1480.8"/><use href="#di" x="206.4" y="1480.4"/><use href="#di" x="208.0" y="1480.1"/><use href="#di" x="209.6" y="1480.0"/><use href="#di" x="211.2" y="1480.2"/><use href="#di" x="212.8" y="1480.8"/><use href="#di" x="214.4" y="1481.6"/><use href="#di" x="216.0" y="1482.6"/><use href="#di" x="217.6" y="1483.6"/><use href="#di" x="219.2" y="1484.7"/><use href="#di" x="220.8" y="1485.6"/><use href="#di" x="222.4" y="1486.4"/><use href="#di" x="224.0" y="1486.9"/><use href="#di" x="225.6" y="1487.5"/><use href="#di" x="227.2" y="1488.1"/><use href="#di" x="228.8" y="1488.6"/><use href="#di" x="230.4" y="1489.1"/><use href="#di" x="232.0" y="1489.5"/><use href="#di" x="233.6" y="1489.8"/><use href="#di" x="235.2" y="1490.0"/><use href="#di" x="236.8" y="1490.0"/><use href="#di" x="238.4" y="1489.8"/><use href="#di" x="240.0" y="1489.5"/><use href="#di" x="241.6" y="1489.1"/><use href="#di" x="243.2" y="1488.6"/><use href="#di" x="244.8" y="1488.0"/><use href="#di" x="246.4" y="1487.5"/><use href="#di" x="248.0" y="1486.9"/><use href="#di" x="249.6" y="1486.4"/><use href="#di" x="251.2" y="1485.9"/><use href="#di" x="252.8" y="1485.4"/><use href="#di" x="254.4" y="1484.9"/><use href="#di" x="256.0" y="1484.4"/><use href="#di" x="257.6" y="1483.8"/><use href="#di" x="259.2" y="1483.3"/><use href="#di" x="260.8" y="1482.7"/><use href="#di" x="262.4" y="1482.1"/><use href="#di" x="264.0" y="1481.5"/><use href="#di" x="265.6" y="1480.9"/><use href="#di" x="267.2" y="1480.3"/><use href="#di" x="268.8" y="1479.6"/><use href="#di" x="270.4" y="1478.8"/><use href="#di" x="272.0" y="1478.0"/><use href="#di" x="273.6" y="1477.0"/><use href="#di" x="275.2" y="1475.9"/><use href="#di" x="276.8" y="1474.7"/><use href="#di" x="278.4" y="1473.3"/><use href="#di" x="280.0" y="1471.7"/><use href="#di" x="281.6" y="1470.0"/><use href="#di" x="283.2" y="1468.0"/><use href="#di" x="284.8" y="1465.6"/><use href="#di" x="286.4" y="1462.9"/><use href="#di" x="288.0" y="1459.9"/><use href="#di" x="289.6" y="1456.8"/><use href="#di" x="291.2" y="1453.5"/><use href="#di" x="292.8" y="1450.3"/><use href="#di" x="294.4" y="1446.9"/><use href="#di" x="296.0" y="1443.5"/><use href="#di" x="297.6" y="1439.8"/><use href="#di" x="299.2" y="1435.8"/><use href="#di" x="300.8" y="1431.4"/><use href="#di" x="302.4" y="1426.6"/><use href="#di" x="304.0" y="1420.9"/><use href="#di" x="305.6" y="1413.6"/><use href="#di" x="307.2" y="1405.2"/><use href="#di" x="308.8" y="1396.3"/><use href="#di" x="310.4" y="1387.8"/><use href="#di" x="312.0" y="1380.1"/><use href="#di" x="313.6" y="1373.9"/><use href="#di" x="315.2" y="1368.7"/><use href="#di" x="316.8" y="1364.0"/><use href="#di" x="318.4" y="1359.7"/><use href="#di" x="320.0" y="1355.5"/><use href="#di" x="321.6" y="1351.4"/><use href="#di" x="323.2" y="1347.1"/><use href="#di" x="324.8" y="1342.4"/><use href="#di" x="326.4" y="1337.3"/><use href="#di" x="328.0" y="1331.8"/><use href="#di" x="329.6" y="1326.1"/><use href="#di" x="331.2" y="1320.5"/><use href="#di" x="332.8" y="1315.0"/><use href="#di" x="334.4" y="1309.9"/><use href="#di" x="336.0" y="1305.4"/><use href="#di" x="337.6" y="1301.0"/><use href="#di" x="339.2" y="1296.9"/><use href="#di" x="340.8" y="1293.0"/><use href="#di" x="342.4" y="1289.3"/><use href="#di" x="344.0" y="1286.0"/><use href="#di" x="345.6" y="1282.9"/><use href="#di" x="347.2" y="1280.0"/><use href="#di" x="348.8" y="1277.5"/><use href="#di" x="350.4" y="1275.6"/><use href="#di" x="352.0" y="1273.9"/><use href="#di" x="353.6" y="1272.7"/><use href="#di" x="355.2" y="1272.7"/><use href="#di" x="356.8" y="1274.4"/><use href="#di" x="358.4" y="1276.5"/><use href="#di" x="360.0" y="1278.9"/><use href="#di" x="361.6" y="1281.7"/><use href="#di" x="363.2" y="1284.4"/><use href="#di" x="364.8" y="1286.7"/><use href="#di" x="366.4" y="1288.5"/><use href="#di" x="368.0" y="1290.2"/><use href="#di" x="369.6" y="1291.7"/><use href="#di" x="371.2" y="1293.1"/><use href="#di" x="372.8" y="1294.4"/><use href="#di" x="374.4" y="1295.7"/><use href="#di" x="376.0" y="1297.0"/><use href="#di" x="377.6" y="1298.3"/><use href="#di" x="379.2" y="1299.6"/><use href="#di" x="380.8" y="1301.1"/><use href="#di" x="382.4" y="1302.6"/><use href="#di" x="384.0" y="1304.3"/><use href="#di" x="385.6" y="1306.0"/><use href="#di" x="387.2" y="1307.8"/><use href="#di" x="388.8" y="1309.7"/><use href="#di" x="390.4" y="1311.4"/><use href="#di" x="392.0" y="1313.1"/><use href="#di" x="393.6" y="1314.6"/><use href="#di" x="395.2" y="1315.9"/><use href="#di" x="396.8" y="1317.1"/><use href="#di" x="398.4" y="1318.0"/><use href="#di" x="400.0" y="1317.6"/><use href="#di" x="401.6" y="1316.4"/><use href="#di" x="403.2" y="1314.6"/><use href="#di" x="404.8" y="1311.8"/><use href="#di" x="406.4" y="1307.4"/><use href="#di" x="408.0" y="1299.7"/><use href="#di" x="409.6" y="1290.4"/><use href="#di" x="411.2" y="1279.3"/><use href="#di" x="412.8" y="1265.0"/><use href="#di" x="414.4" y="1244.2"/><use href="#di" x="416.0" y="1213.8"/><use href="#di" x="417.6" y="1171.9"/><use href="#di" x="419.2" y="1150.8"/><use href="#di" x="420.8" y="1131.8"/><use href="#di" x="422.4" y="1112.2"/><use href="#di" x="424.0" y="1091.7"/><use href="#di" x="425.6" y="1054.0"/><use href="#di" x="427.2" y="1019.3"/><use href="#di" x="428.8" y="986.1"/><use href="#di" x="430.4" y="962.3"/><use href="#di" x="432.0" y="941.2"/><use href="#di" x="433.6" y="932.2"/><use href="#di" x="435.2" y="922.3"/><use href="#di" x="436.8" y="913.9"/><use href="#di" x="438.4" y="917.1"/><use href="#di" x="440.0" y="934.2"/><use href="#di" x="441.6" y="954.8"/><use href="#di" x="443.2" y="971.4"/><use href="#di" x="444.8" y="993.0"/><use href="#di" x="446.4" y="1040.3"/><use href="#di" x="448.0" y="1067.0"/><use href="#di" x="449.6" y="1110.2"/><use href="#di" x="451.2" y="1140.4"/><use href="#di" x="452.8" y="1167.4"/><use href="#di" x="454.4" y="1191.3"/><use href="#di" x="456.0" y="1213.7"/><use href="#di" x="457.6" y="1243.9"/><use href="#di" x="459.2" y="1258.8"/><use href="#di" x="460.8" y="1269.2"/><use href="#di" x="462.4" y="1279.5"/><use href="#di" x="464.0" y="1298.5"/><use href="#di" x="465.6" y="1314.2"/><use href="#di" x="467.2" y="1323.3"/><use href="#di" x="468.8" y="1338.7"/><use href="#di" x="470.4" y="1351.7"/><use href="#di" x="472.0" y="1361.0"/><use href="#di" x="473.6" y="1370.8"/><use href="#di" x="475.2" y="1380.5"/><use href="#di" x="476.8" y="1389.5"/><use href="#di" x="478.4" y="1395.8"/><use href="#di" x="480.0" y="1402.0"/><use href="#di" x="481.6" y="1411.7"/><use href="#di" x="483.2" y="1420.2"/><use href="#di" x="484.8" y="1426.4"/><use href="#di" x="486.4" y="1432.6"/><use href="#di" x="488.0" y="1439.0"/><use href="#di" x="489.6" y="1445.4"/><use href="#di" x="491.2" y="1452.0"/><use href="#di" x="492.8" y="1458.3"/><use href="#di" x="494.4" y="1463.7"/><use href="#di" x="496.0" y="1468.6"/><use href="#di" x="497.6" y="1472.8"/><use href="#di" x="499.2" y="1476.3"/><use href="#di" x="500.8" y="1479.5"/><use href="#di" x="502.4" y="1482.3"/><use href="#di" x="504.0" y="1484.4"/><use href="#di" x="505.6" y="1485.7"/><use href="#di" x="507.2" y="1486.9"/><use href="#di" x="508.8" y="1487.9"/><use href="#di" x="510.4" y="1488.7"/><use href="#di" x="512.0" y="1489.3"/><use href="#di" x="513.6" y="1489.6"/><use href="#di" x="515.2" y="1489.6"/><use href="#di" x="516.8" y="1489.5"/><use href="#di" x="518.4" y="1489.3"/><use href="#di" x="520.0" y="1489.0"/><use href="#di" x="521.6" y="1488.7"/><use href="#di" x="523.2" y="1488.3"/><use href="#di" x="524.8" y="1487.9"/><use href="#di" x="526.4" y="1487.5"/><use href="#di" x="528.0" y="1487.0"/><use href="#di" x="529.6" y="1486.4"/><use href="#di" x="531.2" y="1485.6"/><use href="#di" x="532.8" y="1484.7"/><use href="#di" x="534.4" y="1483.6"/><use href="#di" x="536.0" y="1482.3"/><use href="#di" x="537.6" y="1481.0"/><use href="#di" x="539.2" y="1479.6"/><use href="#di" x="540.8" y="1478.1"/><use href="#di" x="542.4" y="1476.7"/><use href="#di" x="544.0" y="1475.3"/><use href="#di" x="545.6" y="1473.9"/><use href="#di" x="547.2" y="1472.6"/><use href="#di" x="548.8" y="1471.2"/><use href="#di" x="550.4" y="1469.8"/><use href="#di" x="552.0" y="1468.4"/><use href="#di" x="553.6" y="1466.9"/><use href="#di" x="555.2" y="1465.4"/><use href="#di" x="556.8" y="1463.9"/><use href="#di" x="558.4" y="1462.4"/><use href="#di" x="560.0" y="1461.0"/><use href="#di" x="561.6" y="1459.7"/><use href="#di" x="563.2" y="1458.4"/><use href="#di" x="564.8" y="1457.3"/><use href="#di" x="566.4" y="1456.3"/><use href="#di" x="568.0" y="1455.5"/><use href="#di" x="569.6" y="1454.7"/><use href="#di" x="571.2" y="1454.0"/><use href="#di" x="572.8" y="1453.3"/><use href="#di" x="574.4" y="1452.6"/><use href="#di" x="576.0" y="1451.9"/><use href="#di" x="577.6" y="1451.1"/><use href="#di" x="579.2" y="1450.2"/><use href="#di" x="580.8" y="1449.1"/><use href="#di" x="582.4" y="1447.9"/><use href="#di" x="584.0" y="1446.6"/><use href="#di" x="585.6" y="1445.0"/><use href="#di" x="587.2" y="1443.3"/><use href="#di" x="588.8" y="1441.5"/><use href="#di" x="590.4" y="1439.6"/><use href="#di" x="592.0" y="1437.5"/><use href="#di" x="593.6" y="1435.4"/><use href="#di" x="595.2" y="1433.2"/><use href="#di" x="596.8" y="1431.0"/><use href="#di" x="598.4" y="1428.8"/><use href="#di" x="600.0" y="1426.5"/><use href="#di" x="601.6" y="1424.2"/><use href="#di" x="603.2" y="1421.7"/><use href="#di" x="604.8" y="1419.2"/><use href="#di" x="606.4" y="1416.5"/><use href="#di" x="608.0" y="1413.8"/><use href="#di" x="609.6" y="1411.0"/><use href="#di" x="611.2" y="1408.1"/><use href="#di" x="612.8" y="1405.2"/><use href="#di" x="614.4" y="1402.2"/><use href="#di" x="616.0" y="1399.2"/><use href="#di" x="617.6" y="1396.1"/><use href="#di" x="619.2" y="1393.1"/><use href="#di" x="620.8" y="1390.0"/><use href="#di" x="622.4" y="1386.9"/><use href="#di" x="624.0" y="1383.5"/><use href="#di" x="625.6" y="1380.1"/><use href="#di" x="627.2" y="1376.6"/><use href="#di" x="628.8" y="1373.0"/><use href="#di" x="630.4" y="1369.4"/><use href="#di" x="632.0" y="1365.8"/><use href="#di" x="633.6" y="1362.2"/><use href="#di" x="635.2" y="1358.8"/><use href="#di" x="636.8" y="1355.4"/><use href="#di" x="638.4" y="1352.2"/><use href="#di" x="640.0" y="1349.1"/><use href="#di" x="641.6" y="1346.2"/><use href="#di" x="643.2" y="1343.5"/><use href="#di" x="644.8" y="1340.8"/><use href="#di" x="646.4" y="1338.0"/><use href="#di" x="648.0" y="1335.3"/><use href="#di" x="649.6" y="1332.7"/><use href="#di" x="651.2" y="1330.1"/><use href="#di" x="652.8" y="1327.6"/><use href="#di" x="654.4" y="1325.3"/><use href="#di" x="656.0" y="1323.0"/><use href="#di" x="657.6" y="1321.0"/><use href="#di" x="659.2" y="1319.1"/><use href="#di" x="660.8" y="1317.4"/><use href="#di" x="662.4" y="1316.0"/><use href="#di" x="664.0" y="1314.7"/><use href="#di" x="665.6" y="1313.6"/><use href="#di" x="667.2" y="1312.4"/><use href="#di" x="668.8" y="1311.4"/><use href="#di" x="670.4" y="1310.3"/><use href="#di" x="672.0" y="1309.4"/><use href="#di" x="673.6" y="1308.6"/><use href="#di" x="675.2" y="1307.9"/><use href="#di" x="676.8" y="1307.4"/><use href="#di" x="678.4" y="1307.1"/><use href="#di" x="680.0" y="1307.0"/><use href="#di" x="681.6" y="1307.5"/><use href="#di" x="683.2" y="1308.5"/><use href="#di" x="684.8" y="1310.1"/><use href="#di" x="686.4" y="1312.0"/><use href="#di" x="688.0" y="1314.2"/><use href="#di" x="689.6" y="1316.6"/><use href="#di" x="691.2" y="1319.0"/><use href="#di" x="692.8" y="1321.5"/><use href="#di" x="694.4" y="1324.7"/><use href="#di" x="696.0" y="1328.4"/><use href="#di" x="697.6" y="1332.5"/><use href="#di" x="699.2" y="1336.8"/><use href="#di" x="700.8" y="1341.2"/><use href="#di" x="702.4" y="1345.6"/><use href="#di" x="704.0" y="1349.7"/><use href="#di" x="705.6" y="1353.6"/><use href="#di" x="707.2" y="1356.9"/><use href="#di" x="708.8" y="1360.1"/><use href="#di" x="710.4" y="1363.1"/><use href="#di" x="712.0" y="1366.0"/><use href="#di" x="713.6" y="1368.8"/><use href="#di" x="715.2" y="1371.6"/><use href="#di" x="716.8" y="1374.4"/><use href="#di" x="718.4" y="1377.2"/><use href="#di" x="720.0" y="1380.1"/><use href="#di" x="721.6" y="1383.1"/><use href="#di" x="723.2" y="1386.1"/><use href="#di" x="724.8" y="1389.1"/><use href="#di" x="726.4" y="1392.2"/><use href="#di" x="728.0" y="1395.2"/><use href="#di" x="729.6" y="1398.3"/><use href="#di" x="731.2" y="1401.3"/><use href="#di" x="732.8" y="1404.4"/><use href="#di" x="734.4" y="1407.3"/><use href="#di" x="736.0" y="1410.2"/><use href="#di" x="737.6" y="1413.0"/><use href="#di" x="739.2" y="1415.7"/><use href="#di" x="740.8" y="1418.5"/><use href="#di" x="742.4" y="1421.3"/><use href="#di" x="744.0" y="1424.1"/><use href="#di" x="745.6" y="1427.1"/><use href="#di" x="747.2" y="1430.3"/><use href="#di" x="748.8" y="1433.8"/><use href="#di" x="750.4" y="1437.7"/><use href="#di" x="752.0" y="1441.9"/><use href="#di" x="753.6" y="1446.2"/><use href="#di" x="755.2" y="1450.5"/><use href="#di" x="756.8" y="1454.4"/><use href="#di" x="758.4" y="1457.9"/><use href="#di" x="760.0" y="1461.3"/><use href="#di" x="761.6" y="1464.5"/><use href="#di" x="763.2" y="1467.7"/><use href="#di" x="764.8" y="1470.6"/><use href="#di" x="766.4" y="1473.2"/><use href="#di" x="768.0" y="1475.3"/><use href="#di" x="769.6" y="1477.0"/><use href="#di" x="771.2" y="1478.6"/><use href="#di" x="772.8" y="1480.0"/><use href="#di" x="774.4" y="1481.3"/><use href="#di" x="776.0" y="1482.5"/><use href="#di" x="777.6" y="1483.3"/><use href="#di" x="779.2" y="1483.9"/><use href="#di" x="780.8" y="1484.1"/><use href="#di" x="782.4" y="1484.3"/><use href="#di" x="784.0" y="1484.4"/><use href="#di" x="785.6" y="1484.5"/><use href="#di" x="787.2" y="1484.7"/><use href="#di" x="788.8" y="1484.8"/><use href="#di" x="790.4" y="1484.8"/><use href="#di" x="792.0" y="1484.9"/><use href="#di" x="793.6" y="1485.0"/><use href="#di" x="795.2" y="1485.0"/><use href="#di" x="796.8" y="1485.0"/><use href="#di" x="798.4" y="1485.0"/><use href="#di" x="800.0" y="1484.9"/><use href="#di" x="801.6" y="1484.7"/><use href="#di" x="803.2" y="1484.4"/><use href="#di" x="804.8" y="1484.1"/><use href="#di" x="806.4" y="1483.8"/><use href="#di" x="808.0" y="1483.4"/><use href="#di" x="809.6" y="1483.1"/><use href="#di" x="811.2" y="1482.7"/><use href="#di" x="812.8" y="1482.4"/><use href="#di" x="814.4" y="1482.1"/><use href="#di" x="816.0" y="1481.8"/><use href="#di" x="817.6" y="1481.6"/><use href="#di" x="819.2" y="1481.3"/><use href="#di" x="820.8" y="1481.1"/><use href="#di" x="822.4" y="1480.8"/><use href="#di" x="824.0" y="1480.6"/><use href="#di" x="825.6" y="1480.3"/><use href="#di" x="827.2" y="1480.1"/><use href="#di" x="828.8" y="1479.9"/><use href="#di" x="830.4" y="1479.7"/><use href="#di" x="832.0" y="1479.4"/><use href="#di" x="833.6" y="1479.2"/><use href="#di" x="835.2" y="1479.0"/><use href="#di" x="836.8" y="1478.8"/><use href="#di" x="838.4" y="1478.6"/><use href="#di" x="840.0" y="1478.4"/><use href="#di" x="841.6" y="1478.2"/><use href="#di" x="843.2" y="1478.0"/><use href="#di" x="844.8" y="1477.8"/><use href="#di" x="846.4" y="1477.6"/><use href="#di" x="848.0" y="1477.5"/><use href="#di" x="849.6" y="1477.3"/><use href="#di" x="851.2" y="1477.2"/><use href="#di" x="852.8" y="1477.1"/><use href="#di" x="854.4" y="1477.0"/><use href="#di" x="856.0" y="1476.9"/><use href="#di" x="857.6" y="1476.9"/><use href="#di" x="859.2" y="1476.9"/><use href="#di" x="860.8" y="1476.8"/><use href="#di" x="862.4" y="1476.8"/><use href="#di" x="864.0" y="1476.8"/><use href="#di" x="865.6" y="1476.7"/><use href="#di" x="867.2" y="1476.7"/><use href="#di" x="868.8" y="1476.7"/><use href="#di" x="870.4" y="1476.6"/><use href="#di" x="872.0" y="1476.6"/><use href="#di" x="873.6" y="1476.5"/><use href="#di" x="875.2" y="1476.4"/><use href="#di" x="876.8" y="1476.1"/><use href="#di" x="878.4" y="1475.7"/><use href="#di" x="880.0" y="1475.3"/><use href="#di" x="881.6" y="1474.8"/><use href="#di" x="883.2" y="1474.2"/><use href="#di" x="884.8" y="1473.6"/><use href="#di" x="886.4" y="1473.0"/><use href="#di" x="888.0" y="1472.4"/><use href="#di" x="889.6" y="1471.9"/><use href="#di" x="891.2" y="1471.4"/><use href="#di" x="892.8" y="1471.0"/><use href="#di" x="894.4" y="1470.6"/><use href="#di" x="896.0" y="1470.2"/><use href="#di" x="897.6" y="1469.9"/><use href="#di" x="899.2" y="1469.5"/><use href="#di" x="900.8" y="1469.1"/><use href="#di" x="902.4" y="1468.8"/><use href="#di" x="904.0" y="1468.5"/><use href="#di" x="905.6" y="1468.2"/><use href="#di" x="907.2" y="1467.9"/><use href="#di" x="908.8" y="1467.6"/><use href="#di" x="910.4" y="1467.3"/><use href="#di" x="912.0" y="1467.0"/></g>
<g><use href="#sq" x="135.4" y="2387.8"/><use href="#sq" x="157.0" y="2342.7"/><use href="#sq" x="174.2" y="2307.6"/><use href="#sq" x="175.1" y="2277.8"/><use href="#sq" x="182.3" y="2258.0"/><use href="#sq" x="189.5" y="2229.2"/><use href="#sq" x="198.5" y="2175.0"/><use href="#sq" x="208.5" y="2131.8"/><use href="#sq" x="229.7" y="1994.0"/><use href="#sq" x="231.8" y="2080.9"/><use href="#sq" x="233.6" y="1992.0"/><use href="#sq" x="249.5" y="1919.8"/><use href="#sq" x="255.1" y="2010.9"/><use href="#sq" x="263.3" y="1929.4"/><use href="#sq" x="268.6" y="1931.5"/><use href="#sq" x="276.0" y="1954.8"/><use href="#sq" x="281.3" y="1930.4"/><use href="#sq" x="287.7" y="1909.2"/><use href="#sq" x="290.9" y="1864.7"/><use href="#sq" x="294.1" y="1918.8"/><use href="#sq" x="299.4" y="1955.9"/><use href="#sq" x="301.2" y="2007.7"/><use href="#sq" x="306.5" y="1970.6"/><use href="#sq" x="307.9" y="1969.7"/><use href="#sq" x="312.1" y="1927.3"/><use href="#sq" x="315.3" y="1943.2"/><use href="#sq" x="323.8" y="1963.7"/><use href="#sq" x="325.1" y="1968.5"/><use href="#sq" x="327.7" y="2002.4"/><use href="#sq" x="356.4" y="2041.7"/><use href="#sq" x="356.6" y="1990.9"/><use href="#sq" x="360.1" y="1961.8"/><use href="#sq" x="363.0" y="1961.2"/><use href="#sq" x="365.1" y="1943.2"/><use href="#sq" x="365.9" y="2005.6"/><use href="#sq" x="369.6" y="1944.6"/><use href="#sq" x="377.3" y="1900.7"/><use href="#sq" x="381.1" y="1863.5"/><use href="#sq" x="389.7" y="1926.5"/><use href="#sq" x="391.6" y="1908.3"/><use href="#sq" x="407.8" y="1855.0"/><use href="#sq" x="410.7" y="1818.6"/><use href="#sq" x="414.5" y="1833.0"/><use href="#sq" x="417.3" y="1860.6"/><use href="#sq" x="421.2" y="1902.6"/><use href="#sq" x="424.0" y="1886.4"/><use href="#sq" x="427.8" y="1870.2"/><use href="#sq" x="429.7" y="1962.0"/><use href="#sq" x="434.5" y="1942.7"/><use href="#sq" x="434.5" y="1958.0"/><use href="#sq" x="438.2" y="1962.0"/><use href="#sq" x="441.4" y="2013.0"/><use href="#sq" x="445.6" y="2021.5"/><use href="#sq" x="448.8" y="2031.0"/><use href="#sq" x="455.1" y="2068.2"/><use href="#sq" x="463.6" y="2086.2"/><use href="#sq" x="478.5" y="2142.4"/><use href="#sq" x="488.4" y="2170.4"/><use href="#sq" x="497.3" y="2194.5"/><use href="#sq" x="502.0" y="2218.0"/><use href="#sq" x="507.4" y="2239.0"/><use href="#sq" x="510.0" y="2259.4"/><use href="#sq" x="516.4" y="2274.7"/><use href="#sq" x="522.7" y="2283.6"/><use href="#sq" x="532.9" y="2297.6"/><use href="#sq" x="541.8" y="2353.6"/><use href="#sq" x="552.0" y="2340.9"/><use href="#sq" x="559.6" y="2343.4"/><use href="#sq" x="569.5" y="2336.5"/><use href="#sq" x="569.5" y="2348.0"/><use href="#sq" x="571.5" y="2369.0"/><use href="#sq" x="572.3" y="2348.5"/><use href="#sq" x="587.6" y="2379.0"/><use href="#sq" x="594.4" y="2384.2"/><use href="#sq" x="595.3" y="2384.2"/><use href="#sq" x="600.3" y="2367.6"/><use href="#sq" x="605.8" y="2401.4"/><use href="#sq" x="611.5" y="2382.3"/><use href="#sq" x="624.9" y="2355.6"/><use href="#sq" x="625.8" y="2353.6"/><use href="#sq" x="636.3" y="2370.9"/><use href="#sq" x="638.3" y="2348.0"/><use href="#sq" x="649.7" y="2332.7"/><use href="#sq" x="651.6" y="2368.0"/><use href="#sq" x="653.8" y="2328.2"/><use href="#sq" x="666.5" y="2330.7"/><use href="#sq" x="668.8" y="2332.7"/><use href="#sq" x="691.7" y="2365.2"/><use href="#sq" x="695.5" y="2254.4"/><use href="#sq" x="699.3" y="2342.2"/><use href="#sq" x="703.2" y="2323.2"/><use href="#sq" x="710.8" y="2250.6"/><use href="#sq" x="722.2" y="2237.3"/><use href="#sq" x="728.0" y="2256.4"/><use href="#sq" x="737.2" y="2236.1"/><use href="#sq" x="739.4" y="2237.3"/><use href="#sq" x="740.0" y="2248.6"/><use href="#sq" x="751.0" y="2210.0"/><use href="#sq" x="756.5" y="2237.5"/><use href="#sq" x="770.3" y="2212.7"/><use href="#sq" x="775.8" y="2205.8"/><use href="#sq" x="784.1" y="2240.3"/><use href="#sq" x="786.8" y="2179.6"/><use href="#sq" x="789.6" y="2193.4"/><use href="#sq" x="797.9" y="2226.5"/><use href="#sq" x="803.4" y="2243.0"/><use href="#sq" x="807.5" y="2198.9"/><use href="#sq" x="810.3" y="2170.0"/><use href="#sq" x="813.0" y="2185.1"/><use href="#sq" x="819.9" y="2240.3"/><use href="#sq" x="825.4" y="2185.1"/><use href="#sq" x="826.8" y="2223.7"/><use href="#sq" x="831.0" y="2210.0"/><use href="#sq" x="835.1" y="2196.2"/><use href="#sq" x="853.0" y="2218.2"/><use href="#sq" x="855.8" y="2226.5"/><use href="#sq" x="858.5" y="2207.2"/><use href="#sq" x="865.0" y="2240.0"/><use href="#sq" x="877.8" y="2334.0"/><use href="#sq" x="880.6" y="2320.2"/><use href="#sq" x="890.0" y="2290.0"/><use href="#sq" x="898.5" y="2306.5"/><use href="#sq" x="905.4" y="2320.2"/><use href="#sq" x="908.1" y="2361.6"/><use href="#sq" x="910.9" y="2334.0"/></g>
<g><use href="#ci" x="134.0" y="2345.0"/><use href="#ci" x="135.8" y="2336.7"/><use href="#ci" x="137.6" y="2335.0"/><use href="#ci" x="139.4" y="2343.2"/><use href="#ci" x="141.2" y="2361.0"/><use href="#ci" x="143.0" y="2362.6"/><use href="#ci" x="144.8" y="2354.7"/><use href="#ci" x="146.6" y="2342.9"/><use href="#ci" x="148.4" y="2331.2"/><use href="#ci" x="150.2" y="2322.1"/><use href="#ci" x="152.0" y="2313.4"/><use href="#ci" x="153.8" y="2304.9"/><use href="#ci" x="155.6" y="2296.3"/><use href="#ci" x="157.4" y="2287.7"/><use href="#ci" x="159.2" y="2279.1"/><use href="#ci" x="161.0" y="2270.6"/><use href="#ci" x="162.8" y="2261.9"/><use href="#ci" x="164.6" y="2252.9"/><use href="#ci" x="166.4" y="2243.1"/><use href="#ci" x="168.2" y="2233.1"/><use href="#ci" x="170.0" y="2224.2"/><use href="#ci" x="171.8" y="2217.1"/><use href="#ci" x="173.6" y="2211.3"/><use href="#ci" x="175.4" y="2206.2"/><use href="#ci" x="177.2" y="2201.6"/><use href="#ci" x="179.0" y="2197.1"/><use href="#ci" x="180.8" y="2192.5"/><use href="#ci" x="182.6" y="2187.2"/><use href="#ci" x="184.4" y="2181.2"/><use href="#ci" x="186.2" y="2174.2"/><use href="#ci" x="188.0" y="2166.6"/><use href="#ci" x="189.8" y="2158.9"/><use href="#ci" x="191.6" y="2151.6"/><use href="#ci" x="193.4" y="2144.6"/><use href="#ci" x="195.2" y="2137.7"/><use href="#ci" x="197.0" y="2130.9"/><use href="#ci" x="198.8" y="2124.2"/><use href="#ci" x="200.6" y="2117.9"/><use href="#ci" x="202.4" y="2111.9"/><use href="#ci" x="204.2" y="2106.4"/><use href="#ci" x="206.0" y="2101.4"/><use href="#ci" x="207.8" y="2096.7"/><use href="#ci" x="209.6" y="2092.3"/><use href="#ci" x="211.4" y="2088.1"/><use href="#ci" x="213.2" y="2083.9"/><use href="#ci" x="215.0" y="2079.7"/><use href="#ci" x="216.8" y="2075.3"/><use href="#ci" x="218.6" y="2070.8"/><use href="#ci" x="220.4" y="2066.0"/><use href="#ci" x="222.2" y="2060.8"/><use href="#ci" x="224.0" y="2055.3"/><use href="#ci" x="225.8" y="2049.6"/><use href="#ci" x="227.6" y="2043.8"/><use href="#ci" x="229.4" y="2038.0"/><use href="#ci" x="231.2" y="2032.4"/><use href="#ci" x="233.0" y="2027.0"/><use href="#ci" x="234.8" y="2021.9"/><use href="#ci" x="236.6" y="2016.5"/><use href="#ci" x="238.4" y="2010.7"/><use href="#ci" x="240.2" y="2004.9"/><use href="#ci" x="242.0" y="1999.1"/><use href="#ci" x="243.8" y="1993.7"/><use href="#ci" x="245.6" y="1988.8"/><use href="#ci" x="247.4" y="1984.8"/><use href="#ci" x="249.2" y="1981.9"/><use href="#ci" x="251.0" y="1980.3"/><use href="#ci" x="252.8" y="1980.3"/><use href="#ci" x="254.6" y="1982.8"/><use href="#ci" x="256.4" y="1986.6"/><use href="#ci" x="258.2" y="1990.4"/><use href="#ci" x="260.0" y="1993.9"/><use href="#ci" x="261.8" y="1997.5"/><use href="#ci" x="263.6" y="2001.4"/><use href="#ci" x="265.4" y="2005.4"/><use href="#ci" x="267.2" y="2009.5"/><use href="#ci" x="269.0" y="2013.8"/><use href="#ci" x="270.8" y="2018.1"/><use href="#ci" x="272.6" y="2022.6"/><use href="#ci" x="274.4" y="2027.5"/><use href="#ci" x="276.2" y="2033.2"/><use href="#ci" x="278.0" y="2039.4"/><use href="#ci" x="279.8" y="2045.8"/><use href="#ci" x="281.6" y="2052.0"/><use href="#ci" x="283.4" y="2057.5"/><use href="#ci" x="285.2" y="2062.0"/><use href="#ci" x="287.0" y="2065.2"/><use href="#ci" x="288.8" y="2066.7"/><use href="#ci" x="290.6" y="2067.8"/><use href="#ci" x="292.4" y="2068.5"/><use href="#ci" x="294.2" y="2069.1"/><use href="#ci" x="296.0" y="2069.7"/><use href="#ci" x="297.8" y="2070.5"/><use href="#ci" x="299.6" y="2071.7"/><use href="#ci" x="301.4" y="2074.2"/><use href="#ci" x="303.2" y="2077.9"/><use href="#ci" x="305.0" y="2078.8"/><use href="#ci" x="306.8" y="2076.4"/><use href="#ci" x="308.6" y="2072.7"/><use href="#ci" x="310.4" y="2069.3"/><use href="#ci" x="312.2" y="2066.1"/><use href="#ci" x="314.0" y="2062.9"/><use href="#ci" x="315.8" y="2060.2"/><use href="#ci" x="317.6" y="2058.4"/><use href="#ci" x="319.4" y="2057.1"/><use href="#ci" x="321.2" y="2056.1"/><use href="#ci" x="323.0" y="2055.1"/><use href="#ci" x="324.8" y="2053.8"/><use href="#ci" x="326.6" y="2052.0"/><use href="#ci" x="328.4" y="2049.1"/><use href="#ci" x="330.2" y="2040.5"/><use href="#ci" x="332.0" y="2029.6"/><use href="#ci" x="333.8" y="2020.7"/><use href="#ci" x="335.6" y="2012.2"/><use href="#ci" x="337.4" y="2004.1"/><use href="#ci" x="339.2" y="1996.6"/><use href="#ci" x="341.0" y="1987.1"/><use href="#ci" x="342.8" y="1972.1"/><use href="#ci" x="344.6" y="1957.6"/><use href="#ci" x="346.4" y="1944.9"/><use href="#ci" x="348.2" y="1933.1"/><use href="#ci" x="350.0" y="1921.8"/><use href="#ci" x="351.8" y="1911.4"/><use href="#ci" x="353.6" y="1901.5"/><use href="#ci" x="355.4" y="1891.4"/><use href="#ci" x="357.2" y="1880.0"/><use href="#ci" x="359.0" y="1866.1"/><use href="#ci" x="360.8" y="1853.3"/><use href="#ci" x="362.6" y="1845.8"/><use href="#ci" x="364.4" y="1840.6"/><use href="#ci" x="366.2" y="1835.8"/><use href="#ci" x="368.0" y="1831.5"/><use href="#ci" x="369.8" y="1827.6"/><use href="#ci" x="371.6" y="1824.4"/><use href="#ci" x="373.4" y="1821.7"/><use href="#ci" x="375.2" y="1819.8"/><use href="#ci" x="377.0" y="1818.5"/><use href="#ci" x="378.8" y="1818.0"/><use href="#ci" x="380.6" y="1818.5"/><use href="#ci" x="382.4" y="1820.0"/><use href="#ci" x="384.2" y="1822.6"/><use href="#ci" x="386.0" y="1825.8"/><use href="#ci" x="387.8" y="1829.7"/><use href="#ci" x="389.6" y="1834.1"/><use href="#ci" x="391.4" y="1838.8"/><use href="#ci" x="393.2" y="1843.6"/><use href="#ci" x="395.0" y="1848.4"/><use href="#ci" x="396.8" y="1853.9"/><use href="#ci" x="398.6" y="1860.4"/><use href="#ci" x="400.4" y="1867.8"/><use href="#ci" x="402.2" y="1876.0"/><use href="#ci" x="404.0" y="1884.9"/><use href="#ci" x="405.8" y="1895.3"/><use href="#ci" x="407.6" y="1907.5"/><use href="#ci" x="409.4" y="1920.7"/><use href="#ci" x="411.2" y="1934.1"/><use href="#ci" x="413.0" y="1948.5"/><use href="#ci" x="414.8" y="1963.5"/><use href="#ci" x="416.6" y="1979.6"/><use href="#ci" x="418.4" y="1992.4"/><use href="#ci" x="420.2" y="2003.6"/><use href="#ci" x="422.0" y="2014.1"/><use href="#ci" x="423.8" y="2024.8"/><use href="#ci" x="425.6" y="2036.4"/><use href="#ci" x="427.4" y="2047.6"/><use href="#ci" x="429.2" y="2056.7"/><use href="#ci" x="431.0" y="2064.4"/><use href="#ci" x="432.8" y="2071.0"/><use href="#ci" x="434.6" y="2076.1"/><use href="#ci" x="436.4" y="2080.0"/><use href="#ci" x="438.2" y="2083.3"/><use href="#ci" x="440.0" y="2086.2"/><use href="#ci" x="441.8" y="2088.8"/><use href="#ci" x="443.6" y="2091.2"/><use href="#ci" x="445.4" y="2093.5"/><use href="#ci" x="447.2" y="2095.9"/><use href="#ci" x="449.0" y="2098.5"/><use href="#ci" x="450.8" y="2100.9"/><use href="#ci" x="452.6" y="2103.2"/><use href="#ci" x="454.4" y="2105.3"/><use href="#ci" x="456.2" y="2107.5"/><use href="#ci" x="458.0" y="2109.9"/><use href="#ci" x="459.8" y="2112.5"/><use href="#ci" x="461.6" y="2115.5"/><use href="#ci" x="463.4" y="2119.0"/><use href="#ci" x="465.2" y="2123.8"/><use href="#ci" x="467.0" y="2130.0"/><use href="#ci" x="468.8" y="2136.7"/><use href="#ci" x="470.6" y="2143.0"/><use href="#ci" x="472.4" y="2149.1"/><use href="#ci" x="474.2" y="2155.7"/><use href="#ci" x="476.0" y="2163.8"/><use href="#ci" x="477.8" y="2173.9"/><use href="#ci" x="479.6" y="2182.6"/><use href="#ci" x="481.4" y="2190.0"/><use href="#ci" x="483.2" y="2196.6"/><use href="#ci" x="485.0" y="2202.8"/><use href="#ci" x="486.8" y="2209.0"/><use href="#ci" x="488.6" y="2215.3"/><use href="#ci" x="490.4" y="2222.2"/><use href="#ci" x="492.2" y="2230.0"/><use href="#ci" x="494.0" y="2238.7"/><use href="#ci" x="495.8" y="2248.1"/><use href="#ci" x="497.6" y="2257.8"/><use href="#ci" x="499.4" y="2267.2"/><use href="#ci" x="501.2" y="2275.9"/><use href="#ci" x="503.0" y="2284.2"/><use href="#ci" x="504.8" y="2292.7"/><use href="#ci" x="506.6" y="2301.1"/><use href="#ci" x="508.4" y="2309.4"/><use href="#ci" x="510.2" y="2317.2"/><use href="#ci" x="512.0" y="2324.3"/><use href="#ci" x="513.8" y="2330.4"/><use href="#ci" x="515.6" y="2335.3"/><use href="#ci" x="517.4" y="2338.9"/><use href="#ci" x="519.2" y="2342.1"/><use href="#ci" x="521.0" y="2344.9"/><use href="#ci" x="522.8" y="2347.4"/><use href="#ci" x="524.6" y="2349.6"/><use href="#ci" x="526.4" y="2351.6"/><use href="#ci" x="528.2" y="2353.4"/><use href="#ci" x="530.0" y="2355.0"/><use href="#ci" x="531.8" y="2356.6"/><use href="#ci" x="533.6" y="2358.1"/><use href="#ci" x="535.4" y="2359.6"/><use href="#ci" x="537.2" y="2360.9"/><use href="#ci" x="539.0" y="2361.9"/><use href="#ci" x="540.8" y="2362.4"/><use href="#ci" x="542.6" y="2362.5"/><use href="#ci" x="544.4" y="2362.5"/><use href="#ci" x="546.2" y="2362.4"/><use href="#ci" x="548.0" y="2362.4"/><use href="#ci" x="549.8" y="2362.3"/><use href="#ci" x="551.6" y="2362.1"/><use href="#ci" x="553.4" y="2362.0"/><use href="#ci" x="555.2" y="2361.8"/><use href="#ci" x="557.0" y="2361.6"/><use href="#ci" x="558.8" y="2361.4"/><use href="#ci" x="560.6" y="2361.1"/><use href="#ci" x="562.4" y="2360.9"/><use href="#ci" x="564.2" y="2360.6"/><use href="#ci" x="566.0" y="2360.2"/><use href="#ci" x="567.8" y="2359.9"/><use href="#ci" x="569.6" y="2358.9"/><use href="#ci" x="571.4" y="2357.2"/><use href="#ci" x="573.2" y="2355.2"/><use href="#ci" x="575.0" y="2353.1"/><use href="#ci" x="576.8" y="2351.0"/><use href="#ci" x="578.6" y="2349.3"/><use href="#ci" x="580.4" y="2348.0"/><use href="#ci" x="582.2" y="2346.8"/><use href="#ci" x="584.0" y="2345.8"/><use href="#ci" x="585.8" y="2344.7"/><use href="#ci" x="587.6" y="2343.8"/><use href="#ci" x="589.4" y="2342.8"/><use href="#ci" x="591.2" y="2341.8"/><use href="#ci" x="593.0" y="2340.7"/><use href="#ci" x="594.8" y="2339.7"/><use href="#ci" x="596.6" y="2338.7"/><use href="#ci" x="598.4" y="2337.7"/><use href="#ci" x="600.2" y="2336.7"/><use href="#ci" x="602.0" y="2335.6"/><use href="#ci" x="603.8" y="2334.4"/><use href="#ci" x="605.6" y="2333.1"/><use href="#ci" x="607.4" y="2331.6"/><use href="#ci" x="609.2" y="2329.8"/><use href="#ci" x="611.0" y="2327.9"/><use href="#ci" x="612.8" y="2326.0"/><use href="#ci" x="614.6" y="2324.1"/><use href="#ci" x="616.4" y="2322.5"/><use href="#ci" x="618.2" y="2321.1"/><use href="#ci" x="620.0" y="2319.7"/><use href="#ci" x="621.8" y="2318.4"/><use href="#ci" x="623.6" y="2317.1"/><use href="#ci" x="625.4" y="2315.9"/><use href="#ci" x="627.2" y="2314.7"/><use href="#ci" x="629.0" y="2313.6"/><use href="#ci" x="630.8" y="2312.6"/><use href="#ci" x="632.6" y="2311.6"/><use href="#ci" x="634.4" y="2310.7"/><use href="#ci" x="636.2" y="2309.9"/><use href="#ci" x="638.0" y="2309.2"/><use href="#ci" x="639.8" y="2308.6"/><use href="#ci" x="641.6" y="2308.0"/><use href="#ci" x="643.4" y="2307.5"/><use href="#ci" x="645.2" y="2307.0"/><use href="#ci" x="647.0" y="2306.5"/><use href="#ci" x="648.8" y="2306.0"/><use href="#ci" x="650.6" y="2305.5"/><use href="#ci" x="652.4" y="2304.9"/><use href="#ci" x="654.2" y="2304.3"/><use href="#ci" x="656.0" y="2303.6"/><use href="#ci" x="657.8" y="2302.7"/><use href="#ci" x="659.6" y="2301.8"/><use href="#ci" x="661.4" y="2300.8"/><use href="#ci" x="663.2" y="2299.7"/><use href="#ci" x="665.0" y="2298.6"/><use href="#ci" x="666.8" y="2297.6"/><use href="#ci" x="668.6" y="2296.6"/><use href="#ci" x="670.4" y="2295.6"/><use href="#ci" x="672.2" y="2294.8"/><use href="#ci" x="674.0" y="2294.2"/><use href="#ci" x="675.8" y="2293.6"/><use href="#ci" x="677.6" y="2293.0"/><use href="#ci" x="679.4" y="2292.5"/><use href="#ci" x="681.2" y="2292.0"/><use href="#ci" x="683.0" y="2291.5"/><use href="#ci" x="684.8" y="2291.0"/><use href="#ci" x="686.6" y="2290.7"/><use href="#ci" x="688.4" y="2290.4"/><use href="#ci" x="690.2" y="2290.1"/><use href="#ci" x="692.0" y="2290.0"/><use href="#ci" x="693.8" y="2290.0"/><use href="#ci" x="695.6" y="2290.0"/><use href="#ci" x="697.4" y="2290.0"/><use href="#ci" x="699.2" y="2290.0"/><use href="#ci" x="701.0" y="2290.0"/><use href="#ci" x="702.8" y="2290.0"/><use href="#ci" x="704.6" y="2290.0"/><use href="#ci" x="706.4" y="2290.0"/><use href="#ci" x="708.2" y="2290.0"/><use href="#ci" x="710.0" y="2290.0"/><use href="#ci" x="711.8" y="2290.0"/><use href="#ci" x="713.6" y="2290.0"/><use href="#ci" x="715.4" y="2290.0"/><use href="#ci" x="717.2" y="2290.0"/><use href="#ci" x="719.0" y="2290.1"/><use href="#ci" x="720.8" y="2290.2"/><use href="#ci" x="722.6" y="2290.4"/><use href="#ci" x="724.4" y="2290.6"/><use href="#ci" x="726.2" y="2290.7"/><use href="#ci" x="728.0" y="2290.9"/><use href="#ci" x="729.8" y="2291.1"/><use href="#ci" x="731.6" y="2291.3"/><use href="#ci" x="733.4" y="2291.5"/><use href="#ci" x="735.2" y="2291.7"/><use href="#ci" x="737.0" y="2291.8"/><use href="#ci" x="738.8" y="2291.9"/><use href="#ci" x="740.6" y="2292.0"/><use href="#ci" x="742.4" y="2292.0"/><use href="#ci" x="744.2" y="2291.9"/><use href="#ci" x="746.0" y="2291.7"/><use href="#ci" x="747.8" y="2291.4"/><use href="#ci" x="749.6" y="2291.0"/><use href="#ci" x="751.4" y="2290.5"/><use href="#ci" x="753.2" y="2289.9"/><use href="#ci" x="755.0" y="2289.3"/><use href="#ci" x="756.8" y="2288.6"/><use href="#ci" x="758.6" y="2287.9"/><use href="#ci" x="760.4" y="2287.2"/><use href="#ci" x="762.2" y="2286.4"/><use href="#ci" x="764.0" y="2285.6"/><use href="#ci" x="765.8" y="2284.8"/><use href="#ci" x="767.6" y="2284.0"/><use href="#ci" x="769.4" y="2283.3"/><use href="#ci" x="771.2" y="2282.4"/><use href="#ci" x="773.0" y="2281.4"/><use href="#ci" x="774.8" y="2280.3"/><use href="#ci" x="776.6" y="2279.0"/><use href="#ci" x="778.4" y="2277.6"/><use href="#ci" x="780.2" y="2276.3"/><use href="#ci" x="782.0" y="2274.9"/><use href="#ci" x="783.8" y="2273.7"/><use href="#ci" x="785.6" y="2272.6"/><use href="#ci" x="787.4" y="2271.7"/><use href="#ci" x="789.2" y="2271.0"/><use href="#ci" x="791.0" y="2270.7"/><use href="#ci" x="792.8" y="2270.6"/><use href="#ci" x="794.6" y="2270.7"/><use href="#ci" x="796.4" y="2270.8"/><use href="#ci" x="798.2" y="2270.9"/><use href="#ci" x="800.0" y="2271.1"/><use href="#ci" x="801.8" y="2271.3"/><use href="#ci" x="803.6" y="2271.5"/><use href="#ci" x="805.4" y="2271.6"/><use href="#ci" x="807.2" y="2271.8"/><use href="#ci" x="809.0" y="2271.9"/><use href="#ci" x="810.8" y="2272.0"/><use href="#ci" x="812.6" y="2272.0"/><use href="#ci" x="814.4" y="2271.6"/><use href="#ci" x="816.2" y="2270.8"/><use href="#ci" x="818.0" y="2269.7"/><use href="#ci" x="819.8" y="2268.4"/><use href="#ci" x="821.6" y="2266.8"/><use href="#ci" x="823.4" y="2265.2"/><use href="#ci" x="825.2" y="2263.5"/><use href="#ci" x="827.0" y="2261.9"/><use href="#ci" x="828.8" y="2260.4"/><use href="#ci" x="830.6" y="2259.0"/><use href="#ci" x="832.4" y="2257.9"/><use href="#ci" x="834.2" y="2257.2"/><use href="#ci" x="836.0" y="2256.8"/><use href="#ci" x="837.8" y="2256.9"/><use href="#ci" x="839.6" y="2257.3"/><use href="#ci" x="841.4" y="2257.9"/><use href="#ci" x="843.2" y="2258.7"/><use href="#ci" x="845.0" y="2259.5"/><use href="#ci" x="846.8" y="2260.3"/><use href="#ci" x="848.6" y="2261.1"/><use href="#ci" x="850.4" y="2261.7"/><use href="#ci" x="852.2" y="2262.0"/><use href="#ci" x="854.0" y="2262.0"/><use href="#ci" x="855.8" y="2261.8"/><use href="#ci" x="857.6" y="2261.4"/><use href="#ci" x="859.4" y="2260.9"/><use href="#ci" x="861.2" y="2260.3"/><use href="#ci" x="863.0" y="2259.6"/><use href="#ci" x="864.8" y="2258.9"/><use href="#ci" x="866.6" y="2258.1"/><use href="#ci" x="868.4" y="2257.3"/><use href="#ci" x="870.2" y="2256.6"/><use href="#ci" x="872.0" y="2255.8"/><use href="#ci" x="873.8" y="2255.2"/><use href="#ci" x="875.6" y="2254.7"/><use href="#ci" x="877.4" y="2254.3"/><use href="#ci" x="879.2" y="2254.1"/><use href="#ci" x="881.0" y="2254.0"/><use href="#ci" x="882.8" y="2254.0"/><use href="#ci" x="884.6" y="2254.0"/><use href="#ci" x="886.4" y="2254.1"/><use href="#ci" x="888.2" y="2254.2"/><use href="#ci" x="890.0" y="2254.3"/><use href="#ci" x="891.8" y="2254.4"/><use href="#ci" x="893.6" y="2254.6"/><use href="#ci" x="895.4" y="2254.8"/><use href="#ci" x="897.2" y="2255.1"/><use href="#ci" x="899.0" y="2255.4"/><use href="#ci" x="900.8" y="2255.7"/><use href="#ci" x="902.6" y="2256.1"/><use href="#ci" x="904.4" y="2256.5"/><use href="#ci" x="906.2" y="2257.0"/><use href="#ci" x="908.0" y="2257.5"/><use href="#ci" x="909.8" y="2258.1"/><use href="#ci" x="911.6" y="2258.8"/><use href="#ci" x="913.4" y="2259.5"/></g>
<g><use href="#up" x="134.0" y="2318.0"/><use href="#up" x="135.8" y="2316.3"/><use href="#up" x="137.6" y="2312.2"/><use href="#up" x="139.4" y="2305.3"/><use href="#up" x="141.2" y="2298.8"/><use href="#up" x="143.0" y="2290.9"/><use href="#up" x="144.8" y="2284.0"/><use href="#up" x="146.6" y="2275.6"/><use href="#up" x="148.4" y="2269.3"/><use href="#up" x="150.2" y="2260.1"/><use href="#up" x="152.0" y="2256.9"/><use href="#up" x="153.8" y="2248.0"/><use href="#up" x="155.6" y="2240.7"/><use href="#up" x="157.4" y="2229.3"/><use href="#up" x="159.2" y="2216.0"/><use href="#up" x="161.0" y="2205.0"/><use href="#up" x="162.8" y="2197.3"/><use href="#up" x="164.6" y="2189.6"/><use href="#up" x="166.4" y="2183.8"/><use href="#up" x="168.2" y="2179.3"/><use href="#up" x="170.0" y="2172.6"/><use href="#up" x="171.8" y="2166.4"/><use href="#up" x="173.6" y="2162.4"/><use href="#up" x="175.4" y="2155.1"/><use href="#up" x="177.2" y="2147.6"/><use href="#up" x="179.0" y="2142.5"/><use href="#up" x="180.8" y="2136.9"/><use href="#up" x="182.6" y="2130.6"/><use href="#up" x="184.4" y="2125.2"/><use href="#up" x="186.2" y="2122.0"/><use href="#up" x="188.0" y="2118.4"/><use href="#up" x="189.8" y="2112.8"/><use href="#up" x="191.6" y="2107.5"/><use href="#up" x="193.4" y="2103.3"/><use href="#up" x="195.2" y="2098.1"/><use href="#up" x="197.0" y="2091.5"/><use href="#up" x="198.8" y="2086.9"/><use href="#up" x="200.6" y="2082.4"/><use href="#up" x="202.4" y="2076.7"/><use href="#up" x="204.2" y="2071.9"/><use href="#up" x="206.0" y="2068.7"/><use href="#up" x="207.8" y="2064.0"/><use href="#up" x="209.6" y="2059.5"/><use href="#up" x="211.4" y="2050.9"/><use href="#up" x="213.2" y="2045.1"/><use href="#up" x="215.0" y="2039.2"/><use href="#up" x="216.8" y="2033.2"/><use href="#up" x="218.6" y="2030.2"/><use href="#up" x="220.4" y="2026.1"/><use href="#up" x="222.2" y="2020.8"/><use href="#up" x="224.0" y="2019.5"/><use href="#up" x="225.8" y="2016.0"/><use href="#up" x="227.6" y="2013.2"/><use href="#up" x="229.4" y="2010.6"/><use href="#up" x="231.2" y="2008.7"/><use href="#up" x="233.0" y="2004.1"/><use href="#up" x="234.8" y="2003.8"/><use href="#up" x="236.6" y="2001.7"/><use href="#up" x="238.4" y="1997.0"/><use href="#up" x="240.2" y="1996.5"/><use href="#up" x="242.0" y="1993.0"/><use href="#up" x="243.8" y="1990.7"/><use href="#up" x="245.6" y="1985.5"/><use href="#up" x="247.4" y="1981.0"/><use href="#up" x="249.2" y="1975.2"/><use href="#up" x="251.0" y="1967.2"/><use href="#up" x="252.8" y="1959.0"/><use href="#up" x="254.6" y="1951.5"/><use href="#up" x="256.4" y="1961.3"/><use href="#up" x="258.2" y="1970.5"/><use href="#up" x="260.0" y="1977.1"/><use href="#up" x="261.8" y="1980.5"/><use href="#up" x="263.6" y="1983.8"/><use href="#up" x="265.4" y="1989.5"/><use href="#up" x="267.2" y="1995.2"/><use href="#up" x="269.0" y="2000.9"/><use href="#up" x="270.8" y="2002.4"/><use href="#up" x="272.6" y="2009.7"/><use href="#up" x="274.4" y="2014.0"/><use href="#up" x="276.2" y="2018.0"/><use href="#up" x="278.0" y="2021.7"/><use href="#up" x="279.8" y="2028.3"/><use href="#up" x="281.6" y="2030.0"/><use href="#up" x="283.4" y="2035.9"/><use href="#up" x="285.2" y="2040.6"/><use href="#up" x="287.0" y="2041.7"/><use href="#up" x="288.8" y="2046.6"/><use href="#up" x="290.6" y="2048.7"/><use href="#up" x="292.4" y="2052.8"/><use href="#up" x="294.2" y="2056.2"/><use href="#up" x="296.0" y="2058.7"/><use href="#up" x="297.8" y="2056.6"/><use href="#up" x="299.6" y="2059.2"/><use href="#up" x="301.4" y="2061.7"/><use href="#up" x="303.2" y="2063.7"/><use href="#up" x="305.0" y="2063.3"/><use href="#up" x="306.8" y="2062.0"/><use href="#up" x="308.6" y="2061.2"/><use href="#up" x="310.4" y="2057.9"/><use href="#up" x="312.2" y="2054.4"/><use href="#up" x="314.0" y="2048.8"/><use href="#up" x="315.8" y="2044.1"/><use href="#up" x="317.6" y="2040.5"/><use href="#up" x="319.4" y="2040.2"/><use href="#up" x="321.2" y="2040.9"/><use href="#up" x="323.0" y="2041.3"/><use href="#up" x="324.8" y="2043.8"/><use href="#up" x="326.6" y="2047.3"/><use href="#up" x="328.4" y="2047.6"/><use href="#up" x="330.2" y="2047.6"/><use href="#up" x="332.0" y="2051.2"/><use href="#up" x="333.8" y="2049.1"/><use href="#up" x="335.6" y="2040.8"/><use href="#up" x="337.4" y="2027.6"/><use href="#up" x="339.2" y="2018.3"/><use href="#up" x="341.0" y="2008.9"/><use href="#up" x="342.8" y="2003.8"/><use href="#up" x="344.6" y="1997.3"/><use href="#up" x="346.4" y="1983.4"/><use href="#up" x="348.2" y="1967.9"/><use href="#up" x="350.0" y="1955.3"/><use href="#up" x="351.8" y="1941.4"/><use href="#up" x="353.6" y="1930.2"/><use href="#up" x="355.4" y="1919.0"/><use href="#up" x="357.2" y="1909.3"/><use href="#up" x="359.0" y="1900.4"/><use href="#up" x="360.8" y="1889.1"/><use href="#up" x="362.6" y="1878.1"/><use href="#up" x="364.4" y="1863.0"/><use href="#up" x="366.2" y="1851.7"/><use href="#up" x="368.0" y="1841.9"/><use href="#up" x="369.8" y="1836.4"/><use href="#up" x="371.6" y="1832.9"/><use href="#up" x="373.4" y="1826.4"/><use href="#up" x="375.2" y="1823.3"/><use href="#up" x="377.0" y="1819.9"/><use href="#up" x="378.8" y="1818.4"/><use href="#up" x="380.6" y="1816.8"/><use href="#up" x="382.4" y="1817.6"/><use href="#up" x="384.2" y="1818.6"/><use href="#up" x="386.0" y="1821.4"/><use href="#up" x="387.8" y="1825.9"/><use href="#up" x="389.6" y="1831.3"/><use href="#up" x="391.4" y="1836.2"/><use href="#up" x="393.2" y="1842.5"/><use href="#up" x="395.0" y="1848.4"/><use href="#up" x="396.8" y="1854.6"/><use href="#up" x="398.6" y="1860.5"/><use href="#up" x="400.4" y="1866.2"/><use href="#up" x="402.2" y="1876.0"/><use href="#up" x="404.0" y="1885.1"/><use href="#up" x="405.8" y="1896.3"/><use href="#up" x="407.6" y="1908.1"/><use href="#up" x="409.4" y="1920.0"/><use href="#up" x="411.2" y="1933.4"/><use href="#up" x="413.0" y="1950.5"/><use href="#up" x="414.8" y="1964.3"/><use href="#up" x="416.6" y="1981.5"/><use href="#up" x="418.4" y="1994.5"/><use href="#up" x="420.2" y="2002.8"/><use href="#up" x="422.0" y="2014.5"/><use href="#up" x="423.8" y="2025.3"/><use href="#up" x="425.6" y="2036.9"/><use href="#up" x="427.4" y="2048.1"/><use href="#up" x="429.2" y="2056.9"/><use href="#up" x="431.0" y="2064.6"/><use href="#up" x="432.8" y="2069.5"/><use href="#up" x="434.6" y="2076.0"/><use href="#up" x="436.4" y="2079.3"/><use href="#up" x="438.2" y="2083.4"/><use href="#up" x="440.0" y="2085.7"/><use href="#up" x="441.8" y="2089.4"/><use href="#up" x="443.6" y="2092.0"/><use href="#up" x="445.4" y="2093.8"/><use href="#up" x="447.2" y="2096.2"/><use href="#up" x="449.0" y="2098.6"/><use href="#up" x="450.8" y="2100.5"/><use href="#up" x="452.6" y="2103.0"/><use href="#up" x="454.4" y="2104.9"/><use href="#up" x="456.2" y="2107.9"/><use href="#up" x="458.0" y="2109.9"/><use href="#up" x="459.8" y="2113.1"/><use href="#up" x="461.6" y="2114.2"/><use href="#up" x="463.4" y="2119.9"/><use href="#up" x="465.2" y="2123.1"/><use href="#up" x="467.0" y="2129.3"/><use href="#up" x="468.8" y="2136.5"/><use href="#up" x="470.6" y="2142.5"/><use href="#up" x="472.4" y="2149.6"/><use href="#up" x="474.2" y="2155.0"/><use href="#up" x="476.0" y="2160.9"/><use href="#up" x="477.8" y="2167.6"/><use href="#up" x="479.6" y="2176.2"/><use href="#up" x="481.4" y="2181.5"/><use href="#up" x="483.2" y="2186.7"/><use href="#up" x="485.0" y="2194.3"/><use href="#up" x="486.8" y="2199.1"/><use href="#up" x="488.6" y="2209.1"/><use href="#up" x="490.4" y="2212.6"/><use href="#up" x="492.2" y="2221.8"/><use href="#up" x="494.0" y="2229.5"/><use href="#up" x="495.8" y="2235.2"/><use href="#up" x="497.6" y="2245.0"/><use href="#up" x="499.4" y="2254.3"/><use href="#up" x="501.2" y="2263.4"/><use href="#up" x="503.0" y="2274.2"/><use href="#up" x="504.8" y="2291.1"/><use href="#up" x="506.6" y="2302.3"/><use href="#up" x="508.4" y="2308.3"/><use href="#up" x="510.2" y="2312.4"/><use href="#up" x="512.0" y="2316.8"/><use href="#up" x="513.8" y="2317.7"/><use href="#up" x="515.6" y="2320.9"/><use href="#up" x="517.4" y="2320.3"/><use href="#up" x="519.2" y="2320.2"/><use href="#up" x="521.0" y="2322.2"/><use href="#up" x="522.8" y="2323.9"/><use href="#up" x="524.6" y="2323.6"/><use href="#up" x="526.4" y="2322.4"/><use href="#up" x="528.2" y="2324.0"/><use href="#up" x="530.0" y="2323.1"/><use href="#up" x="531.8" y="2323.6"/><use href="#up" x="533.6" y="2324.0"/><use href="#up" x="535.4" y="2321.8"/><use href="#up" x="537.2" y="2324.4"/><use href="#up" x="539.0" y="2323.2"/><use href="#up" x="540.8" y="2323.6"/><use href="#up" x="542.6" y="2322.8"/><use href="#up" x="544.4" y="2322.7"/><use href="#up" x="546.2" y="2323.2"/><use href="#up" x="548.0" y="2324.8"/><use href="#up" x="549.8" y="2325.4"/><use href="#up" x="551.6" y="2323.5"/><use href="#up" x="553.4" y="2324.5"/><use href="#up" x="555.2" y="2323.0"/><use href="#up" x="557.0" y="2321.2"/><use href="#up" x="558.8" y="2323.2"/><use href="#up" x="560.6" y="2323.4"/><use href="#up" x="562.4" y="2322.6"/><use href="#up" x="564.2" y="2323.4"/><use href="#up" x="566.0" y="2323.8"/><use href="#up" x="567.8" y="2322.5"/><use href="#up" x="569.6" y="2322.0"/><use href="#up" x="571.4" y="2323.4"/><use href="#up" x="573.2" y="2323.6"/><use href="#up" x="575.0" y="2323.5"/><use href="#up" x="576.8" y="2325.0"/><use href="#up" x="578.6" y="2325.7"/><use href="#up" x="580.4" y="2323.5"/><use href="#up" x="582.2" y="2324.2"/><use href="#up" x="584.0" y="2323.8"/><use href="#up" x="585.8" y="2322.7"/><use href="#up" x="587.6" y="2322.1"/><use href="#up" x="589.4" y="2319.6"/><use href="#up" x="591.2" y="2319.6"/><use href="#up" x="593.0" y="2319.9"/><use href="#up" x="594.8" y="2317.7"/><use href="#up" x="596.6" y="2315.4"/><use href="#up" x="598.4" y="2316.0"/><use href="#up" x="600.2" y="2316.1"/><use href="#up" x="602.0" y="2314.8"/><use href="#up" x="603.8" y="2313.5"/><use href="#up" x="605.6" y="2315.3"/><use href="#up" x="607.4" y="2312.1"/><use href="#up" x="609.2" y="2313.5"/><use href="#up" x="611.0" y="2312.6"/><use href="#up" x="612.8" y="2311.0"/><use href="#up" x="614.6" y="2312.8"/><use href="#up" x="616.4" y="2311.3"/><use href="#up" x="618.2" y="2308.8"/><use href="#up" x="620.0" y="2308.9"/><use href="#up" x="621.8" y="2305.8"/><use href="#up" x="623.6" y="2302.0"/><use href="#up" x="625.4" y="2301.0"/><use href="#up" x="627.2" y="2300.1"/><use href="#up" x="629.0" y="2298.7"/><use href="#up" x="630.8" y="2296.4"/><use href="#up" x="632.6" y="2294.4"/><use href="#up" x="634.4" y="2293.2"/><use href="#up" x="636.2" y="2291.1"/><use href="#up" x="638.0" y="2291.5"/><use href="#up" x="639.8" y="2290.0"/><use href="#up" x="641.6" y="2290.2"/><use href="#up" x="643.4" y="2290.8"/><use href="#up" x="645.2" y="2289.7"/><use href="#up" x="647.0" y="2290.7"/><use href="#up" x="648.8" y="2293.6"/><use href="#up" x="650.6" y="2293.0"/><use href="#up" x="652.4" y="2292.9"/><use href="#up" x="654.2" y="2293.9"/><use href="#up" x="656.0" y="2293.1"/><use href="#up" x="657.8" y="2293.3"/><use href="#up" x="659.6" y="2291.3"/><use href="#up" x="661.4" y="2290.7"/><use href="#up" x="663.2" y="2287.1"/><use href="#up" x="665.0" y="2288.2"/><use href="#up" x="666.8" y="2284.5"/><use href="#up" x="668.6" y="2281.7"/><use href="#up" x="670.4" y="2281.6"/><use href="#up" x="672.2" y="2280.4"/><use href="#up" x="674.0" y="2280.4"/><use href="#up" x="675.8" y="2279.1"/><use href="#up" x="677.6" y="2280.6"/><use href="#up" x="679.4" y="2283.8"/><use href="#up" x="681.2" y="2278.9"/><use href="#up" x="683.0" y="2280.6"/><use href="#up" x="684.8" y="2280.0"/><use href="#up" x="686.6" y="2280.5"/><use href="#up" x="688.4" y="2278.5"/><use href="#up" x="690.2" y="2279.6"/><use href="#up" x="692.0" y="2281.9"/><use href="#up" x="693.8" y="2282.3"/><use href="#up" x="695.6" y="2284.9"/><use href="#up" x="697.4" y="2283.4"/><use href="#up" x="699.2" y="2285.0"/><use href="#up" x="701.0" y="2288.1"/><use href="#up" x="702.8" y="2284.8"/><use href="#up" x="704.6" y="2285.0"/><use href="#up" x="706.4" y="2286.2"/><use href="#up" x="708.2" y="2286.4"/><use href="#up" x="710.0" y="2287.5"/><use href="#up" x="711.8" y="2287.0"/><use href="#up" x="713.6" y="2286.3"/><use href="#up" x="715.4" y="2287.4"/><use href="#up" x="717.2" y="2290.0"/><use href="#up" x="719.0" y="2288.8"/><use href="#up" x="720.8" y="2284.8"/><use href="#up" x="722.6" y="2287.6"/><use href="#up" x="724.4" y="2287.0"/><use href="#up" x="726.2" y="2288.6"/><use href="#up" x="728.0" y="2287.9"/><use href="#up" x="729.8" y="2290.1"/><use href="#up" x="731.6" y="2289.2"/><use href="#up" x="733.4" y="2289.2"/><use href="#up" x="735.2" y="2288.6"/><use href="#up" x="737.0" y="2288.4"/><use href="#up" x="738.8" y="2288.8"/><use href="#up" x="740.6" y="2289.8"/><use href="#up" x="742.4" y="2289.0"/><use href="#up" x="744.2" y="2288.1"/><use href="#up" x="746.0" y="2289.5"/><use href="#up" x="747.8" y="2288.1"/><use href="#up" x="749.6" y="2287.3"/><use href="#up" x="751.4" y="2286.1"/><use href="#up" x="753.2" y="2285.7"/><use href="#up" x="755.0" y="2284.9"/><use href="#up" x="756.8" y="2282.1"/><use href="#up" x="758.6" y="2285.2"/><use href="#up" x="760.4" y="2284.1"/><use href="#up" x="762.2" y="2282.8"/><use href="#up" x="764.0" y="2283.5"/><use href="#up" x="765.8" y="2282.5"/><use href="#up" x="767.6" y="2282.1"/><use href="#up" x="769.4" y="2279.1"/><use href="#up" x="771.2" y="2281.4"/><use href="#up" x="773.0" y="2282.1"/><use href="#up" x="774.8" y="2283.2"/><use href="#up" x="776.6" y="2283.5"/><use href="#up" x="778.4" y="2283.1"/><use href="#up" x="780.2" y="2280.5"/><use href="#up" x="782.0" y="2279.5"/><use href="#up" x="783.8" y="2282.3"/><use href="#up" x="785.6" y="2281.8"/><use href="#up" x="787.4" y="2282.7"/><use href="#up" x="789.2" y="2281.7"/><use href="#up" x="791.0" y="2282.1"/><use href="#up" x="792.8" y="2280.4"/><use href="#up" x="794.6" y="2282.4"/><use href="#up" x="796.4" y="2281.5"/><use href="#up" x="798.2" y="2282.4"/><use href="#up" x="800.0" y="2282.5"/><use href="#up" x="801.8" y="2282.1"/><use href="#up" x="803.6" y="2282.7"/><use href="#up" x="805.4" y="2282.5"/><use href="#up" x="807.2" y="2283.5"/><use href="#up" x="809.0" y="2283.5"/><use href="#up" x="810.8" y="2282.6"/><use href="#up" x="812.6" y="2282.8"/><use href="#up" x="814.4" y="2285.4"/><use href="#up" x="816.2" y="2283.7"/><use href="#up" x="818.0" y="2285.0"/><use href="#up" x="819.8" y="2284.6"/><use href="#up" x="821.6" y="2283.7"/><use href="#up" x="823.4" y="2283.6"/><use href="#up" x="825.2" y="2284.5"/><use href="#up" x="827.0" y="2284.5"/><use href="#up" x="828.8" y="2284.6"/><use href="#up" x="830.6" y="2282.3"/><use href="#up" x="832.4" y="2282.4"/><use href="#up" x="834.2" y="2282.2"/><use href="#up" x="836.0" y="2283.2"/><use href="#up" x="837.8" y="2278.4"/><use href="#up" x="839.6" y="2280.4"/><use href="#up" x="841.4" y="2278.7"/><use href="#up" x="843.2" y="2278.9"/><use href="#up" x="845.0" y="2277.3"/><use href="#up" x="846.8" y="2277.5"/><use href="#up" x="848.6" y="2278.2"/><use href="#up" x="850.4" y="2276.7"/><use href="#up" x="852.2" y="2276.6"/><use href="#up" x="854.0" y="2276.5"/><use href="#up" x="855.8" y="2275.6"/><use href="#up" x="857.6" y="2277.3"/><use href="#up" x="859.4" y="2277.0"/><use href="#up" x="861.2" y="2277.1"/><use href="#up" x="863.0" y="2278.6"/><use href="#up" x="864.8" y="2279.2"/><use href="#up" x="866.6" y="2281.1"/><use href="#up" x="868.4" y="2281.2"/><use href="#up" x="870.2" y="2281.6"/><use href="#up" x="872.0" y="2284.4"/><use href="#up" x="873.8" y="2284.7"/><use href="#up" x="875.6" y="2285.7"/><use href="#up" x="877.4" y="2285.7"/><use href="#up" x="879.2" y="2285.4"/><use href="#up" x="881.0" y="2285.4"/><use href="#up" x="882.8" y="2285.8"/><use href="#up" x="884.6" y="2287.3"/><use href="#up" x="886.4" y="2286.6"/><use href="#up" x="888.2" y="2285.2"/><use href="#up" x="890.0" y="2286.8"/><use href="#up" x="891.8" y="2285.5"/><use href="#up" x="893.6" y="2287.3"/><use href="#up" x="895.4" y="2286.0"/><use href="#up" x="897.2" y="2286.1"/><use href="#up" x="899.0" y="2287.6"/><use href="#up" x="900.8" y="2287.6"/><use href="#up" x="902.6" y="2286.2"/><use href="#up" x="904.4" y="2288.8"/><use href="#up" x="906.2" y="2290.4"/><use href="#up" x="908.0" y="2287.0"/><use href="#up" x="909.8" y="2290.7"/><use href="#up" x="911.6" y="2288.6"/><use href="#up" x="913.4" y="2289.3"/></g>
<g><use href="#dn" x="150.0" y="2364.0"/><use href="#dn" x="151.8" y="2354.5"/><use href="#dn" x="153.6" y="2345.2"/><use href="#dn" x="155.4" y="2336.0"/><use href="#dn" x="157.2" y="2327.0"/><use href="#dn" x="159.0" y="2318.2"/><use href="#dn" x="160.8" y="2309.6"/><use href="#dn" x="162.6" y="2301.1"/><use href="#dn" x="164.4" y="2292.5"/><use href="#dn" x="166.2" y="2283.9"/><use href="#dn" x="168.0" y="2275.3"/><use href="#dn" x="169.8" y="2266.7"/><use href="#dn" x="171.6" y="2258.0"/><use href="#dn" x="173.4" y="2248.7"/><use href="#dn" x="175.2" y="2238.6"/><use href="#dn" x="177.0" y="2229.0"/><use href="#dn" x="178.8" y="2220.8"/><use href="#dn" x="180.6" y="2214.4"/><use href="#dn" x="182.4" y="2209.0"/><use href="#dn" x="184.2" y="2204.2"/><use href="#dn" x="186.0" y="2199.6"/><use href="#dn" x="187.8" y="2195.1"/><use href="#dn" x="189.6" y="2190.2"/><use href="#dn" x="191.4" y="2184.7"/><use href="#dn" x="193.2" y="2178.2"/><use href="#dn" x="195.0" y="2170.9"/><use href="#dn" x="196.8" y="2163.2"/><use href="#dn" x="198.6" y="2155.6"/><use href="#dn" x="200.4" y="2148.5"/><use href="#dn" x="202.2" y="2141.5"/><use href="#dn" x="204.0" y="2134.6"/><use href="#dn" x="205.8" y="2127.9"/><use href="#dn" x="207.6" y="2121.3"/><use href="#dn" x="209.4" y="2115.2"/><use href="#dn" x="211.2" y="2109.4"/><use href="#dn" x="213.0" y="2104.2"/><use href="#dn" x="214.8" y="2099.3"/><use href="#dn" x="216.6" y="2094.8"/><use href="#dn" x="218.4" y="2090.4"/><use href="#dn" x="220.2" y="2086.2"/><use href="#dn" x="222.0" y="2082.0"/><use href="#dn" x="223.8" y="2077.8"/><use href="#dn" x="225.6" y="2073.4"/><use href="#dn" x="227.4" y="2068.7"/><use href="#dn" x="229.2" y="2063.7"/><use href="#dn" x="231.0" y="2058.4"/><use href="#dn" x="232.8" y="2052.8"/><use href="#dn" x="234.6" y="2047.0"/><use href="#dn" x="236.4" y="2041.2"/><use href="#dn" x="238.2" y="2035.5"/><use href="#dn" x="240.0" y="2029.9"/><use href="#dn" x="241.8" y="2024.7"/><use href="#dn" x="243.6" y="2019.5"/><use href="#dn" x="245.4" y="2013.7"/><use href="#dn" x="247.2" y="2007.8"/><use href="#dn" x="249.0" y="2002.2"/><use href="#dn" x="250.8" y="1997.4"/><use href="#dn" x="252.6" y="1993.9"/><use href="#dn" x="254.4" y="1992.1"/><use href="#dn" x="256.2" y="1992.6"/><use href="#dn" x="258.0" y="1995.0"/><use href="#dn" x="259.8" y="1998.6"/><use href="#dn" x="261.6" y="2002.3"/><use href="#dn" x="263.4" y="2005.6"/><use href="#dn" x="265.2" y="2009.2"/><use href="#dn" x="267.0" y="2013.1"/><use href="#dn" x="268.8" y="2017.2"/><use href="#dn" x="270.6" y="2021.4"/><use href="#dn" x="272.4" y="2025.9"/><use href="#dn" x="274.2" y="2030.8"/><use href="#dn" x="276.0" y="2036.0"/><use href="#dn" x="277.8" y="2041.5"/><use href="#dn" x="279.6" y="2047.0"/><use href="#dn" x="281.4" y="2052.5"/><use href="#dn" x="283.2" y="2057.8"/><use href="#dn" x="285.0" y="2062.7"/><use href="#dn" x="286.8" y="2067.2"/><use href="#dn" x="288.6" y="2071.5"/><use href="#dn" x="290.4" y="2075.8"/><use href="#dn" x="292.2" y="2080.0"/><use href="#dn" x="294.0" y="2084.1"/><use href="#dn" x="295.8" y="2088.1"/><use href="#dn" x="297.6" y="2091.8"/><use href="#dn" x="299.4" y="2095.4"/><use href="#dn" x="301.2" y="2098.7"/><use href="#dn" x="303.0" y="2101.7"/><use href="#dn" x="304.8" y="2104.4"/><use href="#dn" x="306.6" y="2106.8"/><use href="#dn" x="308.4" y="2109.2"/><use href="#dn" x="310.2" y="2110.8"/><use href="#dn" x="312.0" y="2110.3"/><use href="#dn" x="313.8" y="2106.6"/><use href="#dn" x="315.6" y="2101.2"/><use href="#dn" x="317.4" y="2094.7"/><use href="#dn" x="319.2" y="2085.4"/><use href="#dn" x="321.0" y="2074.4"/><use href="#dn" x="322.8" y="2062.9"/><use href="#dn" x="324.6" y="2052.2"/><use href="#dn" x="326.4" y="2042.7"/><use href="#dn" x="328.2" y="2033.5"/><use href="#dn" x="330.0" y="2024.6"/><use href="#dn" x="331.8" y="2016.0"/><use href="#dn" x="333.6" y="2007.5"/><use href="#dn" x="335.4" y="2000.0"/><use href="#dn" x="337.2" y="1991.8"/><use href="#dn" x="339.0" y="1979.2"/><use href="#dn" x="340.8" y="1963.5"/><use href="#dn" x="342.6" y="1950.5"/><use href="#dn" x="344.4" y="1938.3"/><use href="#dn" x="346.2" y="1926.7"/><use href="#dn" x="348.0" y="1915.6"/><use href="#dn" x="349.8" y="1904.8"/><use href="#dn" x="351.6" y="1894.6"/><use href="#dn" x="353.4" y="1885.4"/><use href="#dn" x="355.2" y="1876.7"/><use href="#dn" x="357.0" y="1867.9"/><use href="#dn" x="358.8" y="1859.3"/><use href="#dn" x="360.6" y="1851.1"/><use href="#dn" x="362.4" y="1843.7"/><use href="#dn" x="364.2" y="1837.2"/><use href="#dn" x="366.0" y="1832.0"/><use href="#dn" x="367.8" y="1828.3"/><use href="#dn" x="369.6" y="1825.7"/><use href="#dn" x="371.4" y="1823.5"/><use href="#dn" x="373.2" y="1822.2"/><use href="#dn" x="375.0" y="1822.2"/><use href="#dn" x="376.8" y="1823.7"/><use href="#dn" x="378.6" y="1826.0"/><use href="#dn" x="380.4" y="1828.6"/><use href="#dn" x="382.2" y="1832.1"/><use href="#dn" x="384.0" y="1836.6"/><use href="#dn" x="385.8" y="1841.8"/><use href="#dn" x="387.6" y="1847.3"/><use href="#dn" x="389.4" y="1853.1"/><use href="#dn" x="391.2" y="1859.5"/><use href="#dn" x="393.0" y="1866.5"/><use href="#dn" x="394.8" y="1874.3"/><use href="#dn" x="396.6" y="1882.9"/><use href="#dn" x="398.4" y="1892.8"/><use href="#dn" x="400.2" y="1904.7"/><use href="#dn" x="402.0" y="1917.7"/><use href="#dn" x="403.8" y="1931.1"/><use href="#dn" x="405.6" y="1945.2"/><use href="#dn" x="407.4" y="1960.1"/><use href="#dn" x="409.2" y="1976.3"/><use href="#dn" x="411.0" y="1990.1"/><use href="#dn" x="412.8" y="2002.5"/><use href="#dn" x="414.6" y="2013.6"/><use href="#dn" x="416.4" y="2022.7"/><use href="#dn" x="418.2" y="2030.4"/><use href="#dn" x="420.0" y="2037.7"/><use href="#dn" x="421.8" y="2044.5"/><use href="#dn" x="423.6" y="2050.7"/><use href="#dn" x="425.4" y="2056.3"/><use href="#dn" x="427.2" y="2061.1"/><use href="#dn" x="429.0" y="2064.9"/><use href="#dn" x="430.8" y="2067.8"/><use href="#dn" x="432.6" y="2069.6"/><use href="#dn" x="434.4" y="2071.0"/><use href="#dn" x="436.2" y="2072.1"/><use href="#dn" x="438.0" y="2073.3"/><use href="#dn" x="439.8" y="2074.8"/><use href="#dn" x="441.6" y="2076.8"/><use href="#dn" x="443.4" y="2079.0"/><use href="#dn" x="445.2" y="2081.6"/><use href="#dn" x="447.0" y="2084.5"/><use href="#dn" x="448.8" y="2087.7"/><use href="#dn" x="450.6" y="2091.2"/><use href="#dn" x="452.4" y="2094.9"/><use href="#dn" x="454.2" y="2099.2"/><use href="#dn" x="456.0" y="2104.5"/><use href="#dn" x="457.8" y="2111.2"/><use href="#dn" x="459.6" y="2123.2"/><use href="#dn" x="461.4" y="2138.0"/><use href="#dn" x="463.2" y="2146.2"/><use href="#dn" x="465.0" y="2152.0"/><use href="#dn" x="466.8" y="2158.1"/><use href="#dn" x="468.6" y="2167.1"/><use href="#dn" x="470.4" y="2177.1"/><use href="#dn" x="472.2" y="2185.2"/><use href="#dn" x="474.0" y="2192.2"/><use href="#dn" x="475.8" y="2198.7"/><use href="#dn" x="477.6" y="2204.9"/><use href="#dn" x="479.4" y="2211.1"/><use href="#dn" x="481.2" y="2217.6"/><use href="#dn" x="483.0" y="2224.7"/><use href="#dn" x="484.8" y="2232.8"/><use href="#dn" x="486.6" y="2241.7"/><use href="#dn" x="488.4" y="2251.1"/><use href="#dn" x="490.2" y="2260.6"/><use href="#dn" x="492.0" y="2270.0"/><use href="#dn" x="493.8" y="2278.7"/><use href="#dn" x="495.6" y="2287.5"/><use href="#dn" x="497.4" y="2296.4"/><use href="#dn" x="499.2" y="2305.1"/><use href="#dn" x="501.0" y="2313.4"/><use href="#dn" x="502.8" y="2320.8"/><use href="#dn" x="504.6" y="2327.0"/><use href="#dn" x="506.4" y="2332.0"/><use href="#dn" x="508.2" y="2336.5"/><use href="#dn" x="510.0" y="2340.4"/><use href="#dn" x="511.8" y="2344.0"/><use href="#dn" x="513.6" y="2347.4"/><use href="#dn" x="515.4" y="2350.8"/><use href="#dn" x="517.2" y="2354.3"/><use href="#dn" x="519.0" y="2357.9"/><use href="#dn" x="520.8" y="2361.7"/><use href="#dn" x="522.6" y="2365.5"/><use href="#dn" x="524.4" y="2369.2"/><use href="#dn" x="526.2" y="2372.9"/><use href="#dn" x="528.0" y="2376.4"/><use href="#dn" x="529.8" y="2379.7"/><use href="#dn" x="531.6" y="2382.7"/><use href="#dn" x="533.4" y="2385.4"/><use href="#dn" x="535.2" y="2387.7"/><use href="#dn" x="537.0" y="2389.6"/><use href="#dn" x="538.8" y="2390.9"/><use href="#dn" x="540.6" y="2391.7"/><use href="#dn" x="542.4" y="2391.8"/><use href="#dn" x="544.2" y="2391.8"/><use href="#dn" x="546.0" y="2391.7"/><use href="#dn" x="547.8" y="2391.6"/><use href="#dn" x="549.6" y="2391.4"/><use href="#dn" x="551.4" y="2391.3"/><use href="#dn" x="553.2" y="2391.1"/><use href="#dn" x="555.0" y="2390.8"/><use href="#dn" x="556.8" y="2390.5"/><use href="#dn" x="558.6" y="2390.2"/><use href="#dn" x="560.4" y="2389.9"/><use href="#dn" x="562.2" y="2389.0"/><use href="#dn" x="564.0" y="2387.3"/><use href="#dn" x="565.8" y="2385.1"/><use href="#dn" x="567.6" y="2382.4"/><use href="#dn" x="569.4" y="2379.5"/><use href="#dn" x="571.2" y="2376.5"/><use href="#dn" x="573.0" y="2373.6"/><use href="#dn" x="574.8" y="2370.8"/><use href="#dn" x="576.6" y="2368.4"/><use href="#dn" x="578.4" y="2366.5"/><use href="#dn" x="580.2" y="2365.1"/><use href="#dn" x="582.0" y="2363.9"/><use href="#dn" x="583.8" y="2362.9"/><use href="#dn" x="585.6" y="2361.9"/><use href="#dn" x="587.4" y="2361.1"/><use href="#dn" x="589.2" y="2360.2"/><use href="#dn" x="591.0" y="2359.4"/><use href="#dn" x="592.8" y="2358.5"/><use href="#dn" x="594.6" y="2357.6"/><use href="#dn" x="596.4" y="2356.6"/><use href="#dn" x="598.2" y="2355.5"/><use href="#dn" x="600.0" y="2354.2"/><use href="#dn" x="601.8" y="2352.9"/><use href="#dn" x="603.6" y="2351.5"/><use href="#dn" x="605.4" y="2350.1"/><use href="#dn" x="607.2" y="2348.6"/><use href="#dn" x="609.0" y="2347.0"/><use href="#dn" x="610.8" y="2345.5"/><use href="#dn" x="612.6" y="2343.9"/><use href="#dn" x="614.4" y="2342.4"/><use href="#dn" x="616.2" y="2340.9"/><use href="#dn" x="618.0" y="2339.5"/><use href="#dn" x="619.8" y="2338.0"/><use href="#dn" x="621.6" y="2336.4"/><use href="#dn" x="623.4" y="2334.8"/><use href="#dn" x="625.2" y="2333.3"/><use href="#dn" x="627.0" y="2331.7"/><use href="#dn" x="628.8" y="2330.2"/><use href="#dn" x="630.6" y="2328.8"/><use href="#dn" x="632.4" y="2327.4"/><use href="#dn" x="634.2" y="2326.2"/><use href="#dn" x="636.0" y="2325.2"/><use href="#dn" x="637.8" y="2324.2"/><use href="#dn" x="639.6" y="2323.4"/><use href="#dn" x="641.4" y="2322.7"/><use href="#dn" x="643.2" y="2322.0"/><use href="#dn" x="645.0" y="2321.3"/><use href="#dn" x="646.8" y="2320.7"/><use href="#dn" x="648.6" y="2320.1"/><use href="#dn" x="650.4" y="2319.4"/><use href="#dn" x="652.2" y="2318.8"/><use href="#dn" x="654.0" y="2318.0"/><use href="#dn" x="655.8" y="2317.2"/><use href="#dn" x="657.6" y="2316.3"/><use href="#dn" x="659.4" y="2315.2"/><use href="#dn" x="661.2" y="2314.1"/><use href="#dn" x="663.0" y="2312.9"/><use href="#dn" x="664.8" y="2311.8"/><use href="#dn" x="666.6" y="2310.6"/><use href="#dn" x="668.4" y="2309.6"/><use href="#dn" x="670.2" y="2308.6"/><use href="#dn" x="672.0" y="2307.8"/><use href="#dn" x="673.8" y="2307.2"/><use href="#dn" x="675.6" y="2306.7"/><use href="#dn" x="677.4" y="2306.3"/><use href="#dn" x="679.2" y="2305.9"/><use href="#dn" x="681.0" y="2305.5"/><use href="#dn" x="682.8" y="2305.1"/><use href="#dn" x="684.6" y="2304.8"/><use href="#dn" x="686.4" y="2304.5"/><use href="#dn" x="688.2" y="2304.3"/><use href="#dn" x="690.0" y="2304.1"/><use href="#dn" x="691.8" y="2304.0"/><use href="#dn" x="693.6" y="2304.0"/><use href="#dn" x="695.4" y="2304.0"/><use href="#dn" x="697.2" y="2304.0"/><use href="#dn" x="699.0" y="2304.1"/><use href="#dn" x="700.8" y="2304.2"/><use href="#dn" x="702.6" y="2304.3"/><use href="#dn" x="704.4" y="2304.4"/><use href="#dn" x="706.2" y="2304.5"/><use href="#dn" x="708.0" y="2304.6"/><use href="#dn" x="709.8" y="2304.8"/><use href="#dn" x="711.6" y="2304.9"/><use href="#dn" x="713.4" y="2305.1"/><use href="#dn" x="715.2" y="2305.2"/><use href="#dn" x="717.0" y="2305.4"/><use href="#dn" x="718.8" y="2305.6"/><use href="#dn" x="720.6" y="2305.8"/><use href="#dn" x="722.4" y="2306.1"/><use href="#dn" x="724.2" y="2306.4"/><use href="#dn" x="726.0" y="2306.7"/><use href="#dn" x="727.8" y="2307.1"/><use href="#dn" x="729.6" y="2307.5"/><use href="#dn" x="731.4" y="2307.9"/><use href="#dn" x="733.2" y="2308.6"/><use href="#dn" x="735.0" y="2309.8"/><use href="#dn" x="736.8" y="2311.3"/><use href="#dn" x="738.6" y="2312.8"/><use href="#dn" x="740.4" y="2314.0"/><use href="#dn" x="742.2" y="2314.7"/><use href="#dn" x="744.0" y="2314.6"/><use href="#dn" x="745.8" y="2314.0"/><use href="#dn" x="747.6" y="2313.1"/><use href="#dn" x="749.4" y="2312.0"/><use href="#dn" x="751.2" y="2311.1"/><use href="#dn" x="753.0" y="2310.3"/><use href="#dn" x="754.8" y="2310.0"/><use href="#dn" x="756.6" y="2310.1"/><use href="#dn" x="758.4" y="2310.3"/><use href="#dn" x="760.2" y="2310.6"/><use href="#dn" x="762.0" y="2310.9"/><use href="#dn" x="763.8" y="2311.3"/><use href="#dn" x="765.6" y="2311.6"/><use href="#dn" x="767.4" y="2311.8"/><use href="#dn" x="769.2" y="2312.0"/><use href="#dn" x="771.0" y="2311.8"/><use href="#dn" x="772.8" y="2310.6"/><use href="#dn" x="774.6" y="2308.6"/><use href="#dn" x="776.4" y="2306.1"/><use href="#dn" x="778.2" y="2303.3"/><use href="#dn" x="780.0" y="2300.7"/><use href="#dn" x="781.8" y="2298.6"/><use href="#dn" x="783.6" y="2297.2"/><use href="#dn" x="785.4" y="2296.8"/><use href="#dn" x="787.2" y="2297.3"/><use href="#dn" x="789.0" y="2298.4"/><use href="#dn" x="790.8" y="2299.9"/><use href="#dn" x="792.6" y="2301.5"/><use href="#dn" x="794.4" y="2303.1"/><use href="#dn" x="796.2" y="2304.5"/><use href="#dn" x="798.0" y="2305.6"/><use href="#dn" x="799.8" y="2306.0"/><use href="#dn" x="801.6" y="2305.0"/><use href="#dn" x="803.4" y="2302.1"/><use href="#dn" x="805.2" y="2297.9"/><use href="#dn" x="807.0" y="2293.4"/><use href="#dn" x="808.8" y="2289.3"/><use href="#dn" x="810.6" y="2286.6"/><use href="#dn" x="812.4" y="2285.8"/><use href="#dn" x="814.2" y="2286.7"/><use href="#dn" x="816.0" y="2288.3"/><use href="#dn" x="817.8" y="2290.3"/><use href="#dn" x="819.6" y="2292.0"/><use href="#dn" x="821.4" y="2292.9"/><use href="#dn" x="823.2" y="2292.7"/><use href="#dn" x="825.0" y="2291.3"/><use href="#dn" x="826.8" y="2289.0"/><use href="#dn" x="828.6" y="2286.2"/><use href="#dn" x="830.4" y="2283.1"/><use href="#dn" x="832.2" y="2279.9"/><use href="#dn" x="834.0" y="2277.1"/><use href="#dn" x="835.8" y="2274.9"/><use href="#dn" x="837.6" y="2273.5"/><use href="#dn" x="839.4" y="2273.0"/><use href="#dn" x="841.2" y="2272.7"/><use href="#dn" x="843.0" y="2272.4"/><use href="#dn" x="844.8" y="2272.2"/><use href="#dn" x="846.6" y="2272.0"/><use href="#dn" x="848.4" y="2271.8"/><use href="#dn" x="850.2" y="2271.6"/><use href="#dn" x="852.0" y="2271.2"/><use href="#dn" x="853.8" y="2270.8"/><use href="#dn" x="855.6" y="2269.9"/><use href="#dn" x="857.4" y="2268.7"/><use href="#dn" x="859.2" y="2267.5"/><use href="#dn" x="861.0" y="2266.3"/><use href="#dn" x="862.8" y="2265.4"/><use href="#dn" x="864.6" y="2265.0"/><use href="#dn" x="866.4" y="2265.1"/><use href="#dn" x="868.2" y="2265.4"/><use href="#dn" x="870.0" y="2265.8"/><use href="#dn" x="871.8" y="2266.3"/><use href="#dn" x="873.6" y="2266.8"/><use href="#dn" x="875.4" y="2267.3"/><use href="#dn" x="877.2" y="2267.7"/><use href="#dn" x="879.0" y="2268.0"/><use href="#dn" x="880.8" y="2268.0"/><use href="#dn" x="882.6" y="2267.8"/><use href="#dn" x="884.4" y="2267.4"/><use href="#dn" x="886.2" y="2266.9"/><use href="#dn" x="888.0" y="2266.4"/><use href="#dn" x="889.8" y="2265.8"/><use href="#dn" x="891.6" y="2265.4"/><use href="#dn" x="893.4" y="2265.1"/><use href="#dn" x="895.2" y="2265.0"/><use href="#dn" x="897.0" y="2265.1"/><use href="#dn" x="898.8" y="2265.2"/><use href="#dn" x="900.6" y="2265.4"/><use href="#dn" x="902.4" y="2265.8"/><use href="#dn" x="904.2" y="2266.2"/><use href="#dn" x="906.0" y="2266.7"/><use href="#dn" x="907.8" y="2267.3"/><use href="#dn" x="909.6" y="2268.0"/><use href="#dn" x="911.4" y="2268.7"/></g>
<g><use href="#di" x="143.0" y="2381.0"/><use href="#di" x="144.8" y="2373.7"/><use href="#di" x="146.6" y="2365.8"/><use href="#di" x="148.4" y="2357.2"/><use href="#di" x="150.2" y="2347.9"/><use href="#di" x="152.0" y="2338.3"/><use href="#di" x="153.8" y="2329.0"/><use href="#di" x="155.6" y="2320.2"/><use href="#di" x="157.4" y="2311.5"/><use href="#di" x="159.2" y="2303.0"/><use href="#di" x="161.0" y="2294.4"/><use href="#di" x="162.8" y="2285.8"/><use href="#di" x="164.6" y="2277.2"/><use href="#di" x="166.4" y="2268.7"/><use href="#di" x="168.2" y="2259.9"/><use href="#di" x="170.0" y="2250.8"/><use href="#di" x="171.8" y="2240.9"/><use href="#di" x="173.6" y="2231.0"/><use href="#di" x="175.4" y="2222.4"/><use href="#di" x="177.2" y="2215.7"/><use href="#di" x="179.0" y="2210.1"/><use href="#di" x="180.8" y="2205.2"/><use href="#di" x="182.6" y="2200.6"/><use href="#di" x="184.4" y="2196.1"/><use href="#di" x="186.2" y="2191.4"/><use href="#di" x="188.0" y="2186.0"/><use href="#di" x="189.8" y="2179.7"/><use href="#di" x="191.6" y="2172.5"/><use href="#di" x="193.4" y="2164.9"/><use href="#di" x="195.2" y="2157.2"/><use href="#di" x="197.0" y="2150.0"/><use href="#di" x="198.8" y="2143.1"/><use href="#di" x="200.6" y="2136.2"/><use href="#di" x="202.4" y="2129.4"/><use href="#di" x="204.2" y="2122.8"/><use href="#di" x="206.0" y="2116.5"/><use href="#di" x="207.8" y="2110.6"/><use href="#di" x="209.6" y="2105.3"/><use href="#di" x="211.4" y="2100.4"/><use href="#di" x="213.2" y="2095.7"/><use href="#di" x="215.0" y="2091.4"/><use href="#di" x="216.8" y="2087.1"/><use href="#di" x="218.6" y="2082.9"/><use href="#di" x="220.4" y="2078.7"/><use href="#di" x="222.2" y="2074.4"/><use href="#di" x="224.0" y="2069.8"/><use href="#di" x="225.8" y="2064.9"/><use href="#di" x="227.6" y="2059.6"/><use href="#di" x="229.4" y="2054.1"/><use href="#di" x="231.2" y="2048.4"/><use href="#di" x="233.0" y="2042.7"/><use href="#di" x="234.8" y="2036.9"/><use href="#di" x="236.6" y="2031.3"/><use href="#di" x="238.4" y="2025.9"/><use href="#di" x="240.2" y="2020.7"/><use href="#di" x="242.0" y="2015.3"/><use href="#di" x="243.8" y="2010.0"/><use href="#di" x="245.6" y="2005.1"/><use href="#di" x="247.4" y="2001.1"/><use href="#di" x="249.2" y="1997.9"/><use href="#di" x="251.0" y="1994.7"/><use href="#di" x="252.8" y="1992.2"/><use href="#di" x="254.6" y="1990.9"/><use href="#di" x="256.4" y="1991.3"/><use href="#di" x="258.2" y="1993.3"/><use href="#di" x="260.0" y="1996.3"/><use href="#di" x="261.8" y="1999.6"/><use href="#di" x="263.6" y="2003.6"/><use href="#di" x="265.4" y="2008.8"/><use href="#di" x="267.2" y="2014.7"/><use href="#di" x="269.0" y="2020.6"/><use href="#di" x="270.8" y="2025.9"/><use href="#di" x="272.6" y="2031.3"/><use href="#di" x="274.4" y="2036.6"/><use href="#di" x="276.2" y="2042.0"/><use href="#di" x="278.0" y="2047.3"/><use href="#di" x="279.8" y="2052.5"/><use href="#di" x="281.6" y="2057.5"/><use href="#di" x="283.4" y="2062.4"/><use href="#di" x="285.2" y="2067.0"/><use href="#di" x="287.0" y="2071.5"/><use href="#di" x="288.8" y="2075.9"/><use href="#di" x="290.6" y="2080.2"/><use href="#di" x="292.4" y="2084.4"/><use href="#di" x="294.2" y="2088.6"/><use href="#di" x="296.0" y="2092.6"/><use href="#di" x="297.8" y="2096.4"/><use href="#di" x="299.6" y="2100.2"/><use href="#di" x="301.4" y="2103.8"/><use href="#di" x="303.2" y="2107.2"/><use href="#di" x="305.0" y="2110.7"/><use href="#di" x="306.8" y="2114.5"/><use href="#di" x="308.6" y="2117.9"/><use href="#di" x="310.4" y="2119.9"/><use href="#di" x="312.2" y="2119.6"/><use href="#di" x="314.0" y="2117.8"/><use href="#di" x="315.8" y="2115.2"/><use href="#di" x="317.6" y="2112.5"/><use href="#di" x="319.4" y="2110.3"/><use href="#di" x="321.2" y="2108.1"/><use href="#di" x="323.0" y="2105.3"/><use href="#di" x="324.8" y="2101.1"/><use href="#di" x="326.6" y="2091.7"/><use href="#di" x="328.4" y="2079.5"/><use href="#di" x="330.2" y="2068.0"/><use href="#di" x="332.0" y="2056.1"/><use href="#di" x="333.8" y="2045.6"/><use href="#di" x="335.6" y="2036.3"/><use href="#di" x="337.4" y="2027.5"/><use href="#di" x="339.2" y="2018.8"/><use href="#di" x="341.0" y="2010.3"/><use href="#di" x="342.8" y="2002.4"/><use href="#di" x="344.6" y="1994.8"/><use href="#di" x="346.4" y="1984.2"/><use href="#di" x="348.2" y="1968.5"/><use href="#di" x="350.0" y="1954.7"/><use href="#di" x="351.8" y="1942.2"/><use href="#di" x="353.6" y="1930.5"/><use href="#di" x="355.4" y="1919.4"/><use href="#di" x="357.2" y="1909.1"/><use href="#di" x="359.0" y="1899.3"/><use href="#di" x="360.8" y="1889.0"/><use href="#di" x="362.6" y="1877.3"/><use href="#di" x="364.4" y="1864.0"/><use href="#di" x="366.2" y="1851.9"/><use href="#di" x="368.0" y="1843.5"/><use href="#di" x="369.8" y="1836.7"/><use href="#di" x="371.6" y="1831.2"/><use href="#di" x="373.4" y="1827.2"/><use href="#di" x="375.2" y="1823.8"/><use href="#di" x="377.0" y="1821.0"/><use href="#di" x="378.8" y="1819.6"/><use href="#di" x="380.6" y="1820.2"/><use href="#di" x="382.4" y="1822.9"/><use href="#di" x="384.2" y="1826.4"/><use href="#di" x="386.0" y="1830.2"/><use href="#di" x="387.8" y="1835.0"/><use href="#di" x="389.6" y="1840.6"/><use href="#di" x="391.4" y="1846.6"/><use href="#di" x="393.2" y="1852.7"/><use href="#di" x="395.0" y="1859.1"/><use href="#di" x="396.8" y="1866.0"/><use href="#di" x="398.6" y="1873.5"/><use href="#di" x="400.4" y="1881.9"/><use href="#di" x="402.2" y="1891.5"/><use href="#di" x="404.0" y="1903.3"/><use href="#di" x="405.8" y="1916.3"/><use href="#di" x="407.6" y="1929.5"/><use href="#di" x="409.4" y="1943.6"/><use href="#di" x="411.2" y="1958.4"/><use href="#di" x="413.0" y="1974.5"/><use href="#di" x="414.8" y="1988.4"/><use href="#di" x="416.6" y="2000.0"/><use href="#di" x="418.4" y="2010.6"/><use href="#di" x="420.2" y="2021.2"/><use href="#di" x="422.0" y="2032.5"/><use href="#di" x="423.8" y="2044.0"/><use href="#di" x="425.6" y="2054.0"/><use href="#di" x="427.4" y="2061.9"/><use href="#di" x="429.2" y="2068.9"/><use href="#di" x="431.0" y="2074.6"/><use href="#di" x="432.8" y="2078.8"/><use href="#di" x="434.6" y="2082.3"/><use href="#di" x="436.4" y="2085.3"/><use href="#di" x="438.2" y="2087.9"/><use href="#di" x="440.0" y="2090.4"/><use href="#di" x="441.8" y="2092.7"/><use href="#di" x="443.6" y="2095.1"/><use href="#di" x="445.4" y="2097.6"/><use href="#di" x="447.2" y="2100.1"/><use href="#di" x="449.0" y="2102.5"/><use href="#di" x="450.8" y="2104.6"/><use href="#di" x="452.6" y="2106.8"/><use href="#di" x="454.4" y="2109.1"/><use href="#di" x="456.2" y="2111.6"/><use href="#di" x="458.0" y="2114.4"/><use href="#di" x="459.8" y="2117.8"/><use href="#di" x="461.6" y="2122.0"/><use href="#di" x="463.4" y="2127.8"/><use href="#di" x="465.2" y="2134.5"/><use href="#di" x="467.0" y="2141.0"/><use href="#di" x="468.8" y="2147.1"/><use href="#di" x="470.6" y="2153.4"/><use href="#di" x="472.4" y="2160.8"/><use href="#di" x="474.2" y="2170.5"/><use href="#di" x="476.0" y="2180.0"/><use href="#di" x="477.8" y="2187.6"/><use href="#di" x="479.6" y="2194.4"/><use href="#di" x="481.4" y="2200.8"/><use href="#di" x="483.2" y="2206.9"/><use href="#di" x="485.0" y="2213.2"/><use href="#di" x="486.8" y="2219.9"/><use href="#di" x="488.6" y="2227.3"/><use href="#di" x="490.4" y="2235.7"/><use href="#di" x="492.2" y="2244.8"/><use href="#di" x="494.0" y="2254.3"/><use href="#di" x="495.8" y="2263.8"/><use href="#di" x="497.6" y="2273.0"/><use href="#di" x="499.4" y="2281.6"/><use href="#di" x="501.2" y="2290.5"/><use href="#di" x="503.0" y="2299.3"/><use href="#di" x="504.8" y="2307.9"/><use href="#di" x="506.6" y="2315.9"/><use href="#di" x="508.4" y="2323.0"/><use href="#di" x="510.2" y="2328.8"/><use href="#di" x="512.0" y="2333.6"/><use href="#di" x="513.8" y="2337.9"/><use href="#di" x="515.6" y="2341.8"/><use href="#di" x="517.4" y="2345.3"/><use href="#di" x="519.2" y="2348.6"/><use href="#di" x="521.0" y="2351.7"/><use href="#di" x="522.8" y="2354.5"/><use href="#di" x="524.6" y="2357.1"/><use href="#di" x="526.4" y="2359.6"/><use href="#di" x="528.2" y="2362.0"/><use href="#di" x="530.0" y="2364.3"/><use href="#di" x="531.8" y="2366.6"/><use href="#di" x="533.6" y="2368.9"/><use href="#di" x="535.4" y="2371.3"/><use href="#di" x="537.2" y="2373.7"/><use href="#di" x="539.0" y="2375.9"/><use href="#di" x="540.8" y="2378.0"/><use href="#di" x="542.6" y="2379.9"/><use href="#di" x="544.4" y="2381.5"/><use href="#di" x="546.2" y="2382.9"/><use href="#di" x="548.0" y="2384.3"/><use href="#di" x="549.8" y="2385.4"/><use href="#di" x="551.6" y="2386.0"/><use href="#di" x="553.4" y="2385.9"/><use href="#di" x="555.2" y="2385.5"/><use href="#di" x="557.0" y="2385.0"/><use href="#di" x="558.8" y="2384.4"/><use href="#di" x="560.6" y="2383.8"/><use href="#di" x="562.4" y="2383.3"/><use href="#di" x="564.2" y="2382.8"/><use href="#di" x="566.0" y="2382.2"/><use href="#di" x="567.8" y="2381.3"/><use href="#di" x="569.6" y="2380.0"/><use href="#di" x="571.4" y="2378.1"/><use href="#di" x="573.2" y="2376.0"/><use href="#di" x="575.0" y="2373.7"/><use href="#di" x="576.8" y="2371.4"/><use href="#di" x="578.6" y="2369.4"/><use href="#di" x="580.4" y="2367.7"/><use href="#di" x="582.2" y="2366.2"/><use href="#di" x="584.0" y="2364.9"/><use href="#di" x="585.8" y="2363.6"/><use href="#di" x="587.6" y="2362.4"/><use href="#di" x="589.4" y="2361.2"/><use href="#di" x="591.2" y="2359.9"/><use href="#di" x="593.0" y="2358.5"/><use href="#di" x="594.8" y="2356.9"/><use href="#di" x="596.6" y="2355.2"/><use href="#di" x="598.4" y="2353.4"/><use href="#di" x="600.2" y="2351.7"/><use href="#di" x="602.0" y="2350.0"/><use href="#di" x="603.8" y="2348.4"/><use href="#di" x="605.6" y="2347.1"/><use href="#di" x="607.4" y="2345.9"/><use href="#di" x="609.2" y="2344.9"/><use href="#di" x="611.0" y="2344.0"/><use href="#di" x="612.8" y="2343.1"/><use href="#di" x="614.6" y="2342.1"/><use href="#di" x="616.4" y="2341.0"/><use href="#di" x="618.2" y="2339.6"/><use href="#di" x="620.0" y="2337.7"/><use href="#di" x="621.8" y="2335.0"/><use href="#di" x="623.6" y="2332.0"/><use href="#di" x="625.4" y="2328.8"/><use href="#di" x="627.2" y="2325.7"/><use href="#di" x="629.0" y="2322.9"/><use href="#di" x="630.8" y="2320.6"/><use href="#di" x="632.6" y="2318.8"/><use href="#di" x="634.4" y="2317.2"/><use href="#di" x="636.2" y="2315.6"/><use href="#di" x="638.0" y="2314.2"/><use href="#di" x="639.8" y="2313.0"/><use href="#di" x="641.6" y="2311.8"/><use href="#di" x="643.4" y="2310.8"/><use href="#di" x="645.2" y="2309.9"/><use href="#di" x="647.0" y="2309.1"/><use href="#di" x="648.8" y="2308.4"/><use href="#di" x="650.6" y="2307.8"/><use href="#di" x="652.4" y="2307.1"/><use href="#di" x="654.2" y="2306.3"/><use href="#di" x="656.0" y="2305.5"/><use href="#di" x="657.8" y="2304.4"/><use href="#di" x="659.6" y="2303.3"/><use href="#di" x="661.4" y="2302.0"/><use href="#di" x="663.2" y="2300.7"/><use href="#di" x="665.0" y="2299.3"/><use href="#di" x="666.8" y="2297.9"/><use href="#di" x="668.6" y="2296.5"/><use href="#di" x="670.4" y="2295.1"/><use href="#di" x="672.2" y="2293.7"/><use href="#di" x="674.0" y="2292.3"/><use href="#di" x="675.8" y="2290.7"/><use href="#di" x="677.6" y="2289.0"/><use href="#di" x="679.4" y="2287.2"/><use href="#di" x="681.2" y="2284.9"/><use href="#di" x="683.0" y="2282.2"/><use href="#di" x="684.8" y="2279.6"/><use href="#di" x="686.6" y="2277.2"/><use href="#di" x="688.4" y="2275.3"/><use href="#di" x="690.2" y="2273.5"/><use href="#di" x="692.0" y="2272.1"/><use href="#di" x="693.8" y="2271.6"/><use href="#di" x="695.6" y="2271.8"/><use href="#di" x="697.4" y="2272.3"/><use href="#di" x="699.2" y="2272.8"/><use href="#di" x="701.0" y="2273.2"/><use href="#di" x="702.8" y="2273.6"/><use href="#di" x="704.6" y="2273.9"/><use href="#di" x="706.4" y="2274.3"/><use href="#di" x="708.2" y="2274.6"/><use href="#di" x="710.0" y="2275.0"/><use href="#di" x="711.8" y="2275.3"/><use href="#di" x="713.6" y="2275.7"/><use href="#di" x="715.4" y="2276.1"/><use href="#di" x="717.2" y="2276.5"/><use href="#di" x="719.0" y="2277.1"/><use href="#di" x="720.8" y="2277.6"/><use href="#di" x="722.6" y="2278.1"/><use href="#di" x="724.4" y="2278.6"/><use href="#di" x="726.2" y="2278.9"/><use href="#di" x="728.0" y="2279.0"/><use href="#di" x="729.8" y="2279.0"/><use href="#di" x="731.6" y="2279.0"/><use href="#di" x="733.4" y="2279.0"/><use href="#di" x="735.2" y="2279.0"/><use href="#di" x="737.0" y="2279.0"/><use href="#di" x="738.8" y="2278.9"/><use href="#di" x="740.6" y="2278.9"/><use href="#di" x="742.4" y="2278.9"/><use href="#di" x="744.2" y="2278.8"/><use href="#di" x="746.0" y="2278.5"/><use href="#di" x="747.8" y="2278.0"/><use href="#di" x="749.6" y="2277.3"/><use href="#di" x="751.4" y="2276.7"/><use href="#di" x="753.2" y="2276.0"/><use href="#di" x="755.0" y="2275.3"/><use href="#di" x="756.8" y="2274.8"/><use href="#di" x="758.6" y="2274.2"/><use href="#di" x="760.4" y="2273.7"/><use href="#di" x="762.2" y="2273.2"/><use href="#di" x="764.0" y="2272.6"/><use href="#di" x="765.8" y="2272.1"/><use href="#di" x="767.6" y="2271.5"/><use href="#di" x="769.4" y="2270.9"/><use href="#di" x="771.2" y="2270.3"/><use href="#di" x="773.0" y="2269.6"/><use href="#di" x="774.8" y="2268.9"/><use href="#di" x="776.6" y="2268.1"/><use href="#di" x="778.4" y="2267.3"/><use href="#di" x="780.2" y="2266.6"/><use href="#di" x="782.0" y="2265.8"/><use href="#di" x="783.8" y="2265.1"/><use href="#di" x="785.6" y="2264.3"/><use href="#di" x="787.4" y="2263.4"/><use href="#di" x="789.2" y="2262.5"/><use href="#di" x="791.0" y="2261.6"/><use href="#di" x="792.8" y="2260.8"/><use href="#di" x="794.6" y="2260.1"/><use href="#di" x="796.4" y="2259.7"/><use href="#di" x="798.2" y="2259.6"/><use href="#di" x="800.0" y="2259.8"/><use href="#di" x="801.8" y="2260.1"/><use href="#di" x="803.6" y="2260.5"/><use href="#di" x="805.4" y="2261.0"/><use href="#di" x="807.2" y="2261.4"/><use href="#di" x="809.0" y="2261.8"/><use href="#di" x="810.8" y="2262.0"/><use href="#di" x="812.6" y="2261.8"/><use href="#di" x="814.4" y="2260.7"/><use href="#di" x="816.2" y="2258.8"/><use href="#di" x="818.0" y="2256.6"/><use href="#di" x="819.8" y="2254.3"/><use href="#di" x="821.6" y="2252.4"/><use href="#di" x="823.4" y="2250.7"/><use href="#di" x="825.2" y="2248.9"/><use href="#di" x="827.0" y="2247.1"/><use href="#di" x="828.8" y="2245.4"/><use href="#di" x="830.6" y="2244.0"/><use href="#di" x="832.4" y="2243.2"/><use href="#di" x="834.2" y="2243.0"/><use href="#di" x="836.0" y="2243.5"/><use href="#di" x="837.8" y="2244.4"/><use href="#di" x="839.6" y="2245.5"/><use href="#di" x="841.4" y="2246.6"/><use href="#di" x="843.2" y="2247.5"/><use href="#di" x="845.0" y="2248.0"/><use href="#di" x="846.8" y="2248.2"/><use href="#di" x="848.6" y="2248.4"/><use href="#di" x="850.4" y="2248.5"/><use href="#di" x="852.2" y="2248.6"/><use href="#di" x="854.0" y="2248.5"/><use href="#di" x="855.8" y="2248.0"/><use href="#di" x="857.6" y="2247.1"/><use href="#di" x="859.4" y="2246.1"/><use href="#di" x="861.2" y="2245.0"/><use href="#di" x="863.0" y="2244.0"/><use href="#di" x="864.8" y="2243.3"/><use href="#di" x="866.6" y="2242.9"/><use href="#di" x="868.4" y="2242.7"/><use href="#di" x="870.2" y="2242.4"/><use href="#di" x="872.0" y="2242.2"/><use href="#di" x="873.8" y="2242.0"/><use href="#di" x="875.6" y="2241.9"/><use href="#di" x="877.4" y="2241.8"/><use href="#di" x="879.2" y="2241.7"/><use href="#di" x="881.0" y="2241.7"/><use href="#di" x="882.8" y="2242.0"/><use href="#di" x="884.6" y="2242.6"/><use href="#di" x="886.4" y="2243.4"/><use href="#di" x="888.2" y="2244.3"/><use href="#di" x="890.0" y="2245.1"/><use href="#di" x="891.8" y="2245.7"/><use href="#di" x="893.6" y="2246.0"/><use href="#di" x="895.4" y="2245.9"/><use href="#di" x="897.2" y="2245.4"/><use href="#di" x="899.0" y="2244.8"/><use href="#di" x="900.8" y="2244.0"/><use href="#di" x="902.6" y="2243.2"/><use href="#di" x="904.4" y="2242.4"/><use href="#di" x="906.2" y="2241.9"/><use href="#di" x="908.0" y="2241.7"/><use href="#di" x="909.8" y="2242.0"/><use href="#di" x="911.6" y="2242.7"/></g>
<text class="S" x="60.46" y="74.80" font-size="40.5" textLength="51.85" lengthAdjust="spacingAndGlyphs">1.0</text>
<text class="S" x="59.43" y="364.90" font-size="40.5" textLength="52.56" lengthAdjust="spacingAndGlyphs">0.5</text>
<text class="S" x="59.74" y="655.00" font-size="40.5" textLength="52.49" lengthAdjust="spacingAndGlyphs">0.0</text>
<text class="S" x="95.65" y="687.70" font-size="40.5" textLength="62.52" lengthAdjust="spacingAndGlyphs">150</text>
<text class="S" x="355.82" y="687.70" font-size="40.5" textLength="61.56" lengthAdjust="spacingAndGlyphs">200</text>
<text class="S" x="615.06" y="687.70" font-size="40.5" textLength="61.56" lengthAdjust="spacingAndGlyphs">250</text>
<text class="S" x="874.29" y="687.70" font-size="40.5" textLength="61.56" lengthAdjust="spacingAndGlyphs">300</text>
<text class="S" x="320.00" y="750.80" font-size="45.5" textLength="259.16" lengthAdjust="spacingAndGlyphs">Wavenumber</text>
<text class="S" x="590.95" y="750.00" font-size="32" textLength="12.52" lengthAdjust="spacingAndGlyphs">(</text>
<text class="S" x="603.16" y="750.80" font-size="45.5" textLength="60.38" lengthAdjust="spacingAndGlyphs">cm</text>
<rect x="665.7" y="725.7" width="10.3" height="4.2" fill="#000"/>
<text class="S" x="678.86" y="737.30" font-size="43.5" textLength="15.60" lengthAdjust="spacingAndGlyphs">1</text>
<text class="S" x="701.00" y="750.00" font-size="32" textLength="9.24" lengthAdjust="spacingAndGlyphs">)</text>
<g transform="translate(34.5,446.4) rotate(-90)">
<text class="S" x="-2.96" y="0.00" font-size="43" textLength="275.67" lengthAdjust="spacingAndGlyphs">Intensity (a u)</text>
</g>
<text class="R" x="478.92" y="811.50" font-size="40" textLength="30.44" lengthAdjust="spacingAndGlyphs">a)</text>
<text class="S" x="282.36" y="49.50" font-size="35" textLength="45.67" lengthAdjust="spacingAndGlyphs">CS</text>
<text class="S" x="332.90" y="49.50" font-size="35" textLength="55.43" lengthAdjust="spacingAndGlyphs">196</text>
<text class="S" x="416.41" y="75.30" font-size="35" textLength="44.19" lengthAdjust="spacingAndGlyphs">ES</text>
<text class="S" x="468.25" y="75.30" font-size="35" textLength="55.69" lengthAdjust="spacingAndGlyphs">210</text>
<text class="S" x="455.28" y="272.60" font-size="35" textLength="54.00" lengthAdjust="spacingAndGlyphs">214</text>
<text class="S" x="665.67" y="367.70" font-size="35" textLength="90.73" lengthAdjust="spacingAndGlyphs">Se-Se</text>
<text class="S" x="665.67" y="409.40" font-size="35" textLength="54.34" lengthAdjust="spacingAndGlyphs">260</text>
<text class="S" x="747.48" y="437.70" font-size="35" textLength="53.59" lengthAdjust="spacingAndGlyphs">275</text>
<text class="S" x="189.18" y="499.40" font-size="35" textLength="63.85" lengthAdjust="spacingAndGlyphs">ETH</text>
<text class="S" x="189.16" y="541.80" font-size="35" textLength="53.63" lengthAdjust="spacingAndGlyphs">178</text>
<use href="#sq" x="583.7" y="43.4" transform="translate(583.7,43.4) scale(1.0) translate(-583.7,-43.4)"/>
<text class="S" x="621.07" y="54.00" font-size="33.5" textLength="41.67" lengthAdjust="spacingAndGlyphs">Ge</text>
<text class="S" x="663.83" y="62.90" font-size="27" textLength="23.27" lengthAdjust="spacingAndGlyphs">30</text>
<text class="S" x="687.90" y="54.00" font-size="33.5" textLength="36.98" lengthAdjust="spacingAndGlyphs">Se</text>
<text class="S" x="725.42" y="62.90" font-size="27" textLength="23.38" lengthAdjust="spacingAndGlyphs">70</text>
<text class="S" x="763.00" y="54.00" font-size="33.5" textLength="41.74" lengthAdjust="spacingAndGlyphs">TE</text>
<use href="#ci" x="583.7" y="92.7" transform="translate(583.7,92.7) scale(1.0) translate(-583.7,-92.7)"/>
<text class="S" x="621.07" y="103.30" font-size="33.5" textLength="41.67" lengthAdjust="spacingAndGlyphs">Ge</text>
<text class="S" x="663.83" y="112.20" font-size="27" textLength="23.27" lengthAdjust="spacingAndGlyphs">30</text>
<text class="S" x="687.90" y="103.30" font-size="33.5" textLength="36.98" lengthAdjust="spacingAndGlyphs">Se</text>
<text class="S" x="725.42" y="112.20" font-size="27" textLength="23.38" lengthAdjust="spacingAndGlyphs">70</text>
<text class="S" x="762.02" y="103.30" font-size="33.5" textLength="85.31" lengthAdjust="spacingAndGlyphs">0 min</text>
<use href="#up" x="583.7" y="139.8" transform="translate(583.7,139.8) scale(1.0) translate(-583.7,-139.8)"/>
<text class="S" x="621.07" y="152.60" font-size="33.5" textLength="41.67" lengthAdjust="spacingAndGlyphs">Ge</text>
<text class="S" x="663.83" y="161.50" font-size="27" textLength="23.27" lengthAdjust="spacingAndGlyphs">30</text>
<text class="S" x="687.90" y="152.60" font-size="33.5" textLength="36.98" lengthAdjust="spacingAndGlyphs">Se</text>
<text class="S" x="725.42" y="161.50" font-size="27" textLength="23.38" lengthAdjust="spacingAndGlyphs">70</text>
<text class="S" x="762.02" y="152.60" font-size="33.5" textLength="103.47" lengthAdjust="spacingAndGlyphs">30 min</text>
<use href="#dn" x="583.7" y="193.0" transform="translate(583.7,193.0) scale(1.0) translate(-583.7,-193.0)"/>
<text class="S" x="621.07" y="201.90" font-size="33.5" textLength="41.67" lengthAdjust="spacingAndGlyphs">Ge</text>
<text class="S" x="663.83" y="210.80" font-size="27" textLength="23.27" lengthAdjust="spacingAndGlyphs">30</text>
<text class="S" x="687.90" y="201.90" font-size="33.5" textLength="36.98" lengthAdjust="spacingAndGlyphs">Se</text>
<text class="S" x="725.42" y="210.80" font-size="27" textLength="23.38" lengthAdjust="spacingAndGlyphs">70</text>
<text class="S" x="761.05" y="201.90" font-size="33.5" textLength="59.90" lengthAdjust="spacingAndGlyphs">1 hr</text>
<use href="#di" x="583.7" y="240.7" transform="translate(583.7,240.7) scale(1.0) translate(-583.7,-240.7)"/>
<text class="S" x="621.07" y="251.20" font-size="33.5" textLength="41.67" lengthAdjust="spacingAndGlyphs">Ge</text>
<text class="S" x="663.83" y="260.10" font-size="27" textLength="23.27" lengthAdjust="spacingAndGlyphs">30</text>
<text class="S" x="687.90" y="251.20" font-size="33.5" textLength="36.98" lengthAdjust="spacingAndGlyphs">Se</text>
<text class="S" x="725.42" y="260.10" font-size="27" textLength="23.38" lengthAdjust="spacingAndGlyphs">70</text>
<text class="S" x="762.02" y="251.20" font-size="33.5" textLength="59.90" lengthAdjust="spacingAndGlyphs">2 hr</text>
<text class="S" x="66.26" y="926.20" font-size="40.5" textLength="51.85" lengthAdjust="spacingAndGlyphs">1.0</text>
<text class="S" x="65.63" y="1217.50" font-size="40.5" textLength="52.56" lengthAdjust="spacingAndGlyphs">0.5</text>
<text class="S" x="65.20" y="1508.80" font-size="40.5" textLength="53.44" lengthAdjust="spacingAndGlyphs">0.0</text>
<text class="S" x="101.03" y="1541.50" font-size="40.5" textLength="63.37" lengthAdjust="spacingAndGlyphs">150</text>
<text class="S" x="362.61" y="1541.50" font-size="40.5" textLength="62.39" lengthAdjust="spacingAndGlyphs">200</text>
<text class="S" x="623.24" y="1541.50" font-size="40.5" textLength="62.39" lengthAdjust="spacingAndGlyphs">250</text>
<text class="S" x="883.88" y="1541.50" font-size="40.5" textLength="62.39" lengthAdjust="spacingAndGlyphs">300</text>
<text class="S" x="322.90" y="1586.80" font-size="45.5" textLength="259.26" lengthAdjust="spacingAndGlyphs">Wavenumber</text>
<text class="S" x="593.85" y="1586.00" font-size="32" textLength="12.52" lengthAdjust="spacingAndGlyphs">(</text>
<text class="S" x="606.06" y="1586.80" font-size="45.5" textLength="60.38" lengthAdjust="spacingAndGlyphs">cm</text>
<rect x="668.6" y="1561.7" width="10.3" height="4.2" fill="#000"/>
<text class="S" x="681.77" y="1573.30" font-size="43.5" textLength="15.60" lengthAdjust="spacingAndGlyphs">1</text>
<text class="S" x="703.90" y="1586.00" font-size="32" textLength="9.24" lengthAdjust="spacingAndGlyphs">)</text>
<g transform="translate(51,1287.4) rotate(-90)">
<text class="S" x="-2.96" y="0.00" font-size="43" textLength="275.67" lengthAdjust="spacingAndGlyphs">Intensity (a u)</text>
</g>
<text class="R" x="485.30" y="1653.20" font-size="40" textLength="33.12" lengthAdjust="spacingAndGlyphs">b)</text>
<text class="S" x="331.80" y="898.20" font-size="35" textLength="43.76" lengthAdjust="spacingAndGlyphs">CS</text>
<text class="S" x="385.89" y="898.20" font-size="35" textLength="53.09" lengthAdjust="spacingAndGlyphs">208</text>
<text class="S" x="456.95" y="901.40" font-size="35" textLength="55.28" lengthAdjust="spacingAndGlyphs">212</text>
<text class="S" x="482.54" y="1074.30" font-size="35" textLength="43.43" lengthAdjust="spacingAndGlyphs">ES</text>
<text class="S" x="483.50" y="1116.50" font-size="35" textLength="52.57" lengthAdjust="spacingAndGlyphs">218</text>
<text class="S" x="357.49" y="1169.60" font-size="35" textLength="44.29" lengthAdjust="spacingAndGlyphs">CS</text>
<text class="S" x="356.58" y="1213.80" font-size="35" textLength="53.82" lengthAdjust="spacingAndGlyphs">200</text>
<text class="S" x="297.74" y="1242.80" font-size="35" textLength="54.26" lengthAdjust="spacingAndGlyphs">192</text>
<text class="S" x="645.77" y="1245.70" font-size="35" textLength="90.11" lengthAdjust="spacingAndGlyphs">Se-Se</text>
<text class="S" x="645.79" y="1288.20" font-size="35" textLength="53.40" lengthAdjust="spacingAndGlyphs">253</text>
<text class="S" x="745.77" y="1367.90" font-size="35" textLength="90.63" lengthAdjust="spacingAndGlyphs">Se-Se</text>
<text class="S" x="745.83" y="1409.90" font-size="35" textLength="50.82" lengthAdjust="spacingAndGlyphs">271</text>
<use href="#sq" x="565" y="897.5" transform="translate(565,897.5) scale(1.0) translate(-565,-897.5)"/>
<text class="S" x="602.04" y="909.00" font-size="33.5" textLength="43.02" lengthAdjust="spacingAndGlyphs">Ge</text>
<text class="S" x="645.70" y="918.50" font-size="27" textLength="23.92" lengthAdjust="spacingAndGlyphs">30</text>
<text class="S" x="669.89" y="909.00" font-size="33.5" textLength="41.18" lengthAdjust="spacingAndGlyphs">Se</text>
<text class="S" x="711.44" y="918.50" font-size="27" textLength="22.85" lengthAdjust="spacingAndGlyphs">70</text>
<text class="S" x="742.50" y="909.00" font-size="33.5" textLength="165.69" lengthAdjust="spacingAndGlyphs">Crystal TE</text>
<use href="#ci" x="565" y="946.8" transform="translate(565,946.8) scale(1.0) translate(-565,-946.8)"/>
<text class="S" x="602.04" y="958.30" font-size="33.5" textLength="43.02" lengthAdjust="spacingAndGlyphs">Ge</text>
<text class="S" x="645.70" y="967.80" font-size="27" textLength="23.92" lengthAdjust="spacingAndGlyphs">33</text>
<text class="S" x="669.89" y="958.30" font-size="33.5" textLength="41.18" lengthAdjust="spacingAndGlyphs">Se</text>
<text class="S" x="711.44" y="967.80" font-size="27" textLength="22.85" lengthAdjust="spacingAndGlyphs">67</text>
<text class="S" x="742.50" y="958.30" font-size="33.5" textLength="87.50" lengthAdjust="spacingAndGlyphs">0 min</text>
<use href="#up" x="565" y="993.4" transform="translate(565,993.4) scale(1.0) translate(-565,-993.4)"/>
<text class="S" x="602.04" y="1007.60" font-size="33.5" textLength="43.02" lengthAdjust="spacingAndGlyphs">Ge</text>
<text class="S" x="645.70" y="1017.10" font-size="27" textLength="23.92" lengthAdjust="spacingAndGlyphs">33</text>
<text class="S" x="669.89" y="1007.60" font-size="33.5" textLength="41.18" lengthAdjust="spacingAndGlyphs">Se</text>
<text class="S" x="711.44" y="1017.10" font-size="27" textLength="22.85" lengthAdjust="spacingAndGlyphs">67</text>
<text class="S" x="742.50" y="1007.60" font-size="33.5" textLength="106.12" lengthAdjust="spacingAndGlyphs">30 min</text>
<use href="#dn" x="565" y="1046.6" transform="translate(565,1046.6) scale(1.0) translate(-565,-1046.6)"/>
<text class="S" x="602.04" y="1056.90" font-size="33.5" textLength="43.02" lengthAdjust="spacingAndGlyphs">Ge</text>
<text class="S" x="645.70" y="1066.40" font-size="27" textLength="23.92" lengthAdjust="spacingAndGlyphs">33</text>
<text class="S" x="669.89" y="1056.90" font-size="33.5" textLength="41.18" lengthAdjust="spacingAndGlyphs">Se</text>
<text class="S" x="711.44" y="1066.40" font-size="27" textLength="22.85" lengthAdjust="spacingAndGlyphs">67</text>
<text class="S" x="741.50" y="1056.90" font-size="33.5" textLength="61.44" lengthAdjust="spacingAndGlyphs">1 hr</text>
<use href="#di" x="565" y="1094.0" transform="translate(565,1094.0) scale(1.0) translate(-565,-1094.0)"/>
<text class="S" x="602.04" y="1106.20" font-size="33.5" textLength="43.02" lengthAdjust="spacingAndGlyphs">Ge</text>
<text class="S" x="645.70" y="1115.70" font-size="27" textLength="23.92" lengthAdjust="spacingAndGlyphs">33</text>
<text class="S" x="669.89" y="1106.20" font-size="33.5" textLength="41.18" lengthAdjust="spacingAndGlyphs">Se</text>
<text class="S" x="711.44" y="1115.70" font-size="27" textLength="22.85" lengthAdjust="spacingAndGlyphs">67</text>
<text class="S" x="742.50" y="1106.20" font-size="33.5" textLength="61.44" lengthAdjust="spacingAndGlyphs">2 hr</text>
<text class="S" x="66.26" y="1830.40" font-size="40.5" textLength="51.85" lengthAdjust="spacingAndGlyphs">1.0</text>
<text class="S" x="65.03" y="2121.65" font-size="40.5" textLength="52.77" lengthAdjust="spacingAndGlyphs">0.5</text>
<text class="S" x="65.20" y="2413.10" font-size="40.5" textLength="53.44" lengthAdjust="spacingAndGlyphs">0.0</text>
<text class="S" x="100.72" y="2446.40" font-size="40.5" textLength="63.58" lengthAdjust="spacingAndGlyphs">150</text>
<text class="S" x="362.31" y="2446.40" font-size="40.5" textLength="62.60" lengthAdjust="spacingAndGlyphs">200</text>
<text class="S" x="622.94" y="2446.40" font-size="40.5" textLength="62.60" lengthAdjust="spacingAndGlyphs">250</text>
<text class="S" x="883.57" y="2446.40" font-size="40.5" textLength="62.60" lengthAdjust="spacingAndGlyphs">300</text>
<text class="S" x="327.40" y="2509.70" font-size="45.5" textLength="259.16" lengthAdjust="spacingAndGlyphs">Wavenumber</text>
<text class="S" x="598.35" y="2509.00" font-size="32" textLength="12.52" lengthAdjust="spacingAndGlyphs">(</text>
<text class="S" x="610.56" y="2509.70" font-size="45.5" textLength="60.38" lengthAdjust="spacingAndGlyphs">cm</text>
<rect x="673.1" y="2484.6" width="10.3" height="4.2" fill="#000"/>
<text class="S" x="686.27" y="2496.20" font-size="43.5" textLength="15.60" lengthAdjust="spacingAndGlyphs">1</text>
<text class="S" x="708.40" y="2509.00" font-size="32" textLength="9.24" lengthAdjust="spacingAndGlyphs">)</text>
<g transform="translate(40,2198.5) rotate(-90)">
<text class="S" x="-2.92" y="0.00" font-size="43" textLength="272.20" lengthAdjust="spacingAndGlyphs">Intensity (a u)</text>
</g>
<text class="R" x="486.82" y="2580.30" font-size="40" textLength="30.44" lengthAdjust="spacingAndGlyphs">c)</text>
<text class="S" x="289.26" y="1794.40" font-size="35" textLength="45.67" lengthAdjust="spacingAndGlyphs">CS</text>
<text class="S" x="343.00" y="1794.40" font-size="35" textLength="55.43" lengthAdjust="spacingAndGlyphs">197</text>
<text class="S" x="406.37" y="1812.40" font-size="35" textLength="54.34" lengthAdjust="spacingAndGlyphs">203</text>
<text class="S" x="186.14" y="1852.00" font-size="35" textLength="65.23" lengthAdjust="spacingAndGlyphs">ETH</text>
<text class="S" x="258.25" y="1852.00" font-size="35" textLength="54.05" lengthAdjust="spacingAndGlyphs">180</text>
<text class="S" x="194.65" y="1939.00" font-size="35" textLength="54.05" lengthAdjust="spacingAndGlyphs">173</text>
<text class="S" x="459.63" y="2012.20" font-size="35" textLength="43.76" lengthAdjust="spacingAndGlyphs">ES</text>
<text class="S" x="459.51" y="2053.50" font-size="35" textLength="50.10" lengthAdjust="spacingAndGlyphs">211</text>
<text class="S" x="597.17" y="2113.40" font-size="35" textLength="187.15" lengthAdjust="spacingAndGlyphs">Asymmetric</text>
<text class="S" x="793.24" y="2113.40" font-size="35" textLength="85.90" lengthAdjust="spacingAndGlyphs">GeSe</text>
<text class="S" x="878.80" y="2122.00" font-size="27" textLength="30.13" lengthAdjust="spacingAndGlyphs">4/2</text>
<text class="S" x="792.07" y="2148.60" font-size="35" textLength="54.44" lengthAdjust="spacingAndGlyphs">280</text>
<use href="#sq" x="592" y="1798.6" transform="translate(592,1798.6) scale(1.0) translate(-592,-1798.6)"/>
<text class="S" x="628.84" y="1809.50" font-size="33.5" textLength="43.02" lengthAdjust="spacingAndGlyphs">Ge</text>
<text class="S" x="672.30" y="1818.20" font-size="27" textLength="25.16" lengthAdjust="spacingAndGlyphs">40</text>
<text class="S" x="696.67" y="1809.50" font-size="33.5" textLength="42.33" lengthAdjust="spacingAndGlyphs">Se</text>
<text class="S" x="737.69" y="1818.20" font-size="27" textLength="24.45" lengthAdjust="spacingAndGlyphs">60</text>
<text class="S" x="772.20" y="1809.50" font-size="33.5" textLength="41.31" lengthAdjust="spacingAndGlyphs">TE</text>
<use href="#ci" x="592" y="1847.9" transform="translate(592,1847.9) scale(1.0) translate(-592,-1847.9)"/>
<text class="S" x="628.84" y="1858.80" font-size="33.5" textLength="43.02" lengthAdjust="spacingAndGlyphs">Ge</text>
<text class="S" x="672.30" y="1867.50" font-size="27" textLength="25.16" lengthAdjust="spacingAndGlyphs">40</text>
<text class="S" x="696.67" y="1858.80" font-size="33.5" textLength="42.33" lengthAdjust="spacingAndGlyphs">Se</text>
<text class="S" x="737.69" y="1867.50" font-size="27" textLength="24.45" lengthAdjust="spacingAndGlyphs">60</text>
<text class="S" x="771.24" y="1858.80" font-size="33.5" textLength="84.44" lengthAdjust="spacingAndGlyphs">0 min</text>
<use href="#up" x="592" y="1894.5" transform="translate(592,1894.5) scale(1.0) translate(-592,-1894.5)"/>
<text class="S" x="628.84" y="1908.10" font-size="33.5" textLength="43.02" lengthAdjust="spacingAndGlyphs">Ge</text>
<text class="S" x="672.30" y="1916.80" font-size="27" textLength="25.16" lengthAdjust="spacingAndGlyphs">40</text>
<text class="S" x="696.67" y="1908.10" font-size="33.5" textLength="42.33" lengthAdjust="spacingAndGlyphs">Se</text>
<text class="S" x="737.69" y="1916.80" font-size="27" textLength="24.45" lengthAdjust="spacingAndGlyphs">60</text>
<text class="S" x="771.24" y="1908.10" font-size="33.5" textLength="102.41" lengthAdjust="spacingAndGlyphs">30 min</text>
<use href="#dn" x="592" y="1947.7" transform="translate(592,1947.7) scale(1.0) translate(-592,-1947.7)"/>
<text class="S" x="628.84" y="1957.40" font-size="33.5" textLength="43.02" lengthAdjust="spacingAndGlyphs">Ge</text>
<text class="S" x="672.30" y="1966.10" font-size="27" textLength="25.16" lengthAdjust="spacingAndGlyphs">40</text>
<text class="S" x="696.67" y="1957.40" font-size="33.5" textLength="42.33" lengthAdjust="spacingAndGlyphs">Se</text>
<text class="S" x="737.69" y="1966.10" font-size="27" textLength="24.45" lengthAdjust="spacingAndGlyphs">60</text>
<text class="S" x="770.27" y="1957.40" font-size="33.5" textLength="59.29" lengthAdjust="spacingAndGlyphs">1 hr</text>
<use href="#di" x="592" y="1995.6" transform="translate(592,1995.6) scale(1.0) translate(-592,-1995.6)"/>
<text class="S" x="628.84" y="2006.70" font-size="33.5" textLength="43.02" lengthAdjust="spacingAndGlyphs">Ge</text>
<text class="S" x="672.30" y="2015.40" font-size="27" textLength="25.16" lengthAdjust="spacingAndGlyphs">40</text>
<text class="S" x="696.67" y="2006.70" font-size="33.5" textLength="42.33" lengthAdjust="spacingAndGlyphs">Se</text>
<text class="S" x="737.69" y="2015.40" font-size="27" textLength="24.45" lengthAdjust="spacingAndGlyphs">60</text>
<text class="S" x="771.24" y="2006.70" font-size="33.5" textLength="59.29" lengthAdjust="spacingAndGlyphs">2 hr</text>
</svg></body></html>
